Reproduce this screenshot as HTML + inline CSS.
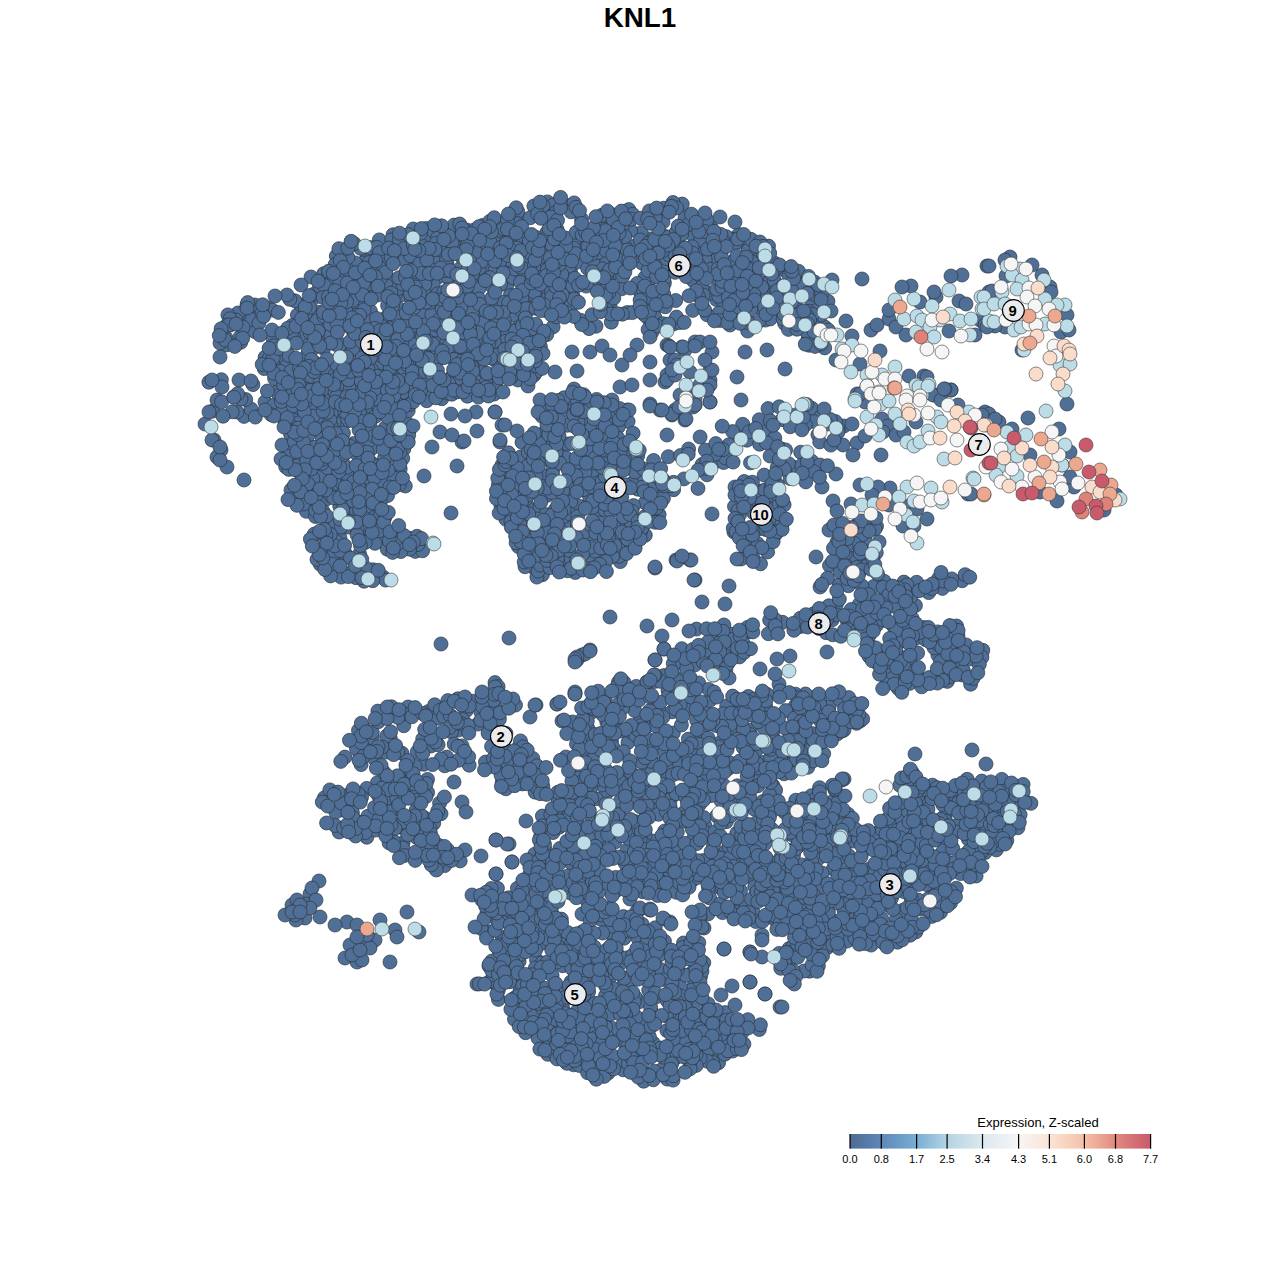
<!DOCTYPE html><html><head><meta charset="utf-8"><style>
html,body{margin:0;padding:0;background:#fff;width:1280px;height:1280px;overflow:hidden}
svg{display:block;font-family:"Liberation Sans",sans-serif}
.lb text{font-weight:bold;font-size:14.8px;text-anchor:middle}
</style></head><body>
<svg width="1280" height="1280" viewBox="0 0 1280 1280">
<text x="640" y="27" font-size="27.8" font-weight="bold" text-anchor="middle">KNL1</text>
<g fill="#4f6f96" stroke="#2c3541" stroke-width="0.7">
<circle cx="438.7" cy="355.5" r="7"/>
<circle cx="815.7" cy="696.8" r="7"/>
<circle cx="361.1" cy="827.3" r="7"/>
<circle cx="541.5" cy="526.0" r="7"/>
<circle cx="586.4" cy="888.5" r="7"/>
<circle cx="996.3" cy="849.9" r="7"/>
<circle cx="530.0" cy="717.0" r="7"/>
<circle cx="389.3" cy="456.0" r="7"/>
<circle cx="341.7" cy="795.9" r="7"/>
<circle cx="946.7" cy="870.7" r="7"/>
<circle cx="583.6" cy="940.9" r="7"/>
<circle cx="446.8" cy="757.1" r="7"/>
<circle cx="730.3" cy="763.1" r="7"/>
<circle cx="811.6" cy="461.1" r="7"/>
<circle cx="562.0" cy="405.0" r="7"/>
<circle cx="795.5" cy="414.9" r="7"/>
<circle cx="781.7" cy="291.3" r="7"/>
<circle cx="319.0" cy="881.0" r="7"/>
<circle cx="622.8" cy="774.4" r="7"/>
<circle cx="331.2" cy="523.6" r="7"/>
<circle cx="598.9" cy="891.8" r="7"/>
<circle cx="548.5" cy="886.7" r="7"/>
<circle cx="784.6" cy="812.2" r="7"/>
<circle cx="619.8" cy="781.7" r="7"/>
<circle cx="902.9" cy="865.1" r="7"/>
<circle cx="462.0" cy="802.0" r="7"/>
<circle cx="782.5" cy="622.3" r="7"/>
<circle cx="522.9" cy="766.7" r="7"/>
<circle cx="409.3" cy="538.3" r="7"/>
<circle cx="710.6" cy="1055.1" r="7"/>
<circle cx="291.5" cy="459.4" r="7"/>
<circle cx="722.8" cy="1016.4" r="7"/>
<circle cx="653.3" cy="1043.2" r="7"/>
<circle cx="561.2" cy="454.4" r="7"/>
<circle cx="850.3" cy="915.8" r="7"/>
<circle cx="646.7" cy="725.6" r="7"/>
<circle cx="596.0" cy="326.2" r="7"/>
<circle cx="703.3" cy="709.3" r="7"/>
<circle cx="393.0" cy="784.7" r="7"/>
<circle cx="345.3" cy="382.6" r="7"/>
<circle cx="655.0" cy="568.0" r="7"/>
<circle cx="594.0" cy="473.8" r="7"/>
<circle cx="403.5" cy="316.6" r="7"/>
<circle cx="752.6" cy="556.9" r="7"/>
<circle cx="416.7" cy="837.5" r="7"/>
<circle cx="805.8" cy="481.9" r="7"/>
<circle cx="551.5" cy="411.8" r="7"/>
<circle cx="802.9" cy="809.6" r="7"/>
<circle cx="336.3" cy="256.0" r="7"/>
<circle cx="385.4" cy="371.1" r="7"/>
<circle cx="410.4" cy="287.4" r="7"/>
<circle cx="727.7" cy="268.1" r="7"/>
<circle cx="450.7" cy="282.1" r="7"/>
<circle cx="924.8" cy="826.9" r="7"/>
<circle cx="534.1" cy="375.0" r="7"/>
<circle cx="693.1" cy="696.5" r="7"/>
<circle cx="496.7" cy="389.7" r="7"/>
<circle cx="450.3" cy="322.8" r="7"/>
<circle cx="618.5" cy="682.2" r="7"/>
<circle cx="580.9" cy="954.6" r="7"/>
<circle cx="447.1" cy="263.9" r="7"/>
<circle cx="581.7" cy="932.2" r="7"/>
<circle cx="481.1" cy="277.9" r="7"/>
<circle cx="903.4" cy="814.7" r="7"/>
<circle cx="409.0" cy="397.4" r="7"/>
<circle cx="545.4" cy="239.4" r="7"/>
<circle cx="649.5" cy="238.9" r="7"/>
<circle cx="803.0" cy="835.3" r="7"/>
<circle cx="930.8" cy="886.2" r="7"/>
<circle cx="682.2" cy="204.1" r="7"/>
<circle cx="868.1" cy="524.9" r="7"/>
<circle cx="545.5" cy="514.5" r="7"/>
<circle cx="689.8" cy="1054.2" r="7"/>
<circle cx="390.2" cy="713.3" r="7"/>
<circle cx="287.8" cy="399.4" r="7"/>
<circle cx="545.6" cy="851.1" r="7"/>
<circle cx="766.4" cy="432.1" r="7"/>
<circle cx="871.4" cy="834.7" r="7"/>
<circle cx="395.0" cy="930.0" r="7"/>
<circle cx="331.7" cy="439.5" r="7"/>
<circle cx="917.2" cy="906.2" r="7"/>
<circle cx="574.2" cy="402.4" r="7"/>
<circle cx="639.7" cy="1001.6" r="7"/>
<circle cx="419.8" cy="297.8" r="7"/>
<circle cx="668.0" cy="690.5" r="7"/>
<circle cx="546.9" cy="232.5" r="7"/>
<circle cx="340.0" cy="538.0" r="7"/>
<circle cx="495.5" cy="714.9" r="7"/>
<circle cx="828.3" cy="335.0" r="7"/>
<circle cx="309.8" cy="505.5" r="7"/>
<circle cx="444.7" cy="865.6" r="7"/>
<circle cx="356.8" cy="561.8" r="7"/>
<circle cx="816.1" cy="823.4" r="7"/>
<circle cx="562.7" cy="814.2" r="7"/>
<circle cx="638.2" cy="938.7" r="7"/>
<circle cx="750.5" cy="491.3" r="7"/>
<circle cx="437.3" cy="306.0" r="7"/>
<circle cx="825.0" cy="817.6" r="7"/>
<circle cx="664.1" cy="796.1" r="7"/>
<circle cx="648.6" cy="769.7" r="7"/>
<circle cx="570.9" cy="982.0" r="7"/>
<circle cx="570.9" cy="728.0" r="7"/>
<circle cx="617.3" cy="221.7" r="7"/>
<circle cx="712.7" cy="666.4" r="7"/>
<circle cx="577.3" cy="851.8" r="7"/>
<circle cx="663.8" cy="294.4" r="7"/>
<circle cx="713.8" cy="887.1" r="7"/>
<circle cx="588.1" cy="728.8" r="7"/>
<circle cx="815.6" cy="834.1" r="7"/>
<circle cx="664.4" cy="283.1" r="7"/>
<circle cx="673.4" cy="324.0" r="7"/>
<circle cx="673.3" cy="687.4" r="7"/>
<circle cx="522.0" cy="442.3" r="7"/>
<circle cx="340.4" cy="356.2" r="7"/>
<circle cx="274.7" cy="362.4" r="7"/>
<circle cx="704.8" cy="239.6" r="7"/>
<circle cx="756.5" cy="776.3" r="7"/>
<circle cx="922.4" cy="833.8" r="7"/>
<circle cx="518.3" cy="747.9" r="7"/>
<circle cx="738.6" cy="234.6" r="7"/>
<circle cx="591.1" cy="974.8" r="7"/>
<circle cx="569.9" cy="533.1" r="7"/>
<circle cx="542.4" cy="816.1" r="7"/>
<circle cx="708.5" cy="887.9" r="7"/>
<circle cx="362.2" cy="350.1" r="7"/>
<circle cx="521.8" cy="468.2" r="7"/>
<circle cx="289.0" cy="376.8" r="7"/>
<circle cx="865.0" cy="402.0" r="7"/>
<circle cx="532.2" cy="861.5" r="7"/>
<circle cx="295.8" cy="382.1" r="7"/>
<circle cx="716.5" cy="299.6" r="7"/>
<circle cx="750.0" cy="952.0" r="7"/>
<circle cx="637.9" cy="1057.9" r="7"/>
<circle cx="428.6" cy="351.6" r="7"/>
<circle cx="433.1" cy="358.5" r="7"/>
<circle cx="523.1" cy="241.3" r="7"/>
<circle cx="401.8" cy="775.6" r="7"/>
<circle cx="359.1" cy="822.1" r="7"/>
<circle cx="451.0" cy="513.0" r="7"/>
<circle cx="517.0" cy="431.0" r="7"/>
<circle cx="427.5" cy="779.4" r="7"/>
<circle cx="311.0" cy="277.0" r="7"/>
<circle cx="987.0" cy="266.0" r="7"/>
<circle cx="1005.9" cy="801.2" r="7"/>
<circle cx="644.4" cy="884.1" r="7"/>
<circle cx="667.2" cy="1079.1" r="7"/>
<circle cx="603.9" cy="738.9" r="7"/>
<circle cx="693.4" cy="280.7" r="7"/>
<circle cx="546.0" cy="862.6" r="7"/>
<circle cx="645.2" cy="502.7" r="7"/>
<circle cx="683.5" cy="943.0" r="7"/>
<circle cx="365.6" cy="406.8" r="7"/>
<circle cx="621.0" cy="262.3" r="7"/>
<circle cx="594.2" cy="947.0" r="7"/>
<circle cx="386.5" cy="317.3" r="7"/>
<circle cx="945.6" cy="846.9" r="7"/>
<circle cx="394.3" cy="371.9" r="7"/>
<circle cx="532.8" cy="912.8" r="7"/>
<circle cx="605.6" cy="794.4" r="7"/>
<circle cx="667.2" cy="877.1" r="7"/>
<circle cx="940.5" cy="876.4" r="7"/>
<circle cx="685.1" cy="217.7" r="7"/>
<circle cx="596.5" cy="820.2" r="7"/>
<circle cx="873.9" cy="586.4" r="7"/>
<circle cx="427.6" cy="792.5" r="7"/>
<circle cx="909.6" cy="683.4" r="7"/>
<circle cx="871.0" cy="330.0" r="7"/>
<circle cx="820.0" cy="465.0" r="7"/>
<circle cx="788.8" cy="962.3" r="7"/>
<circle cx="671.7" cy="765.5" r="7"/>
<circle cx="458.4" cy="286.4" r="7"/>
<circle cx="1017.9" cy="827.8" r="7"/>
<circle cx="614.7" cy="842.3" r="7"/>
<circle cx="614.0" cy="932.6" r="7"/>
<circle cx="336.9" cy="457.6" r="7"/>
<circle cx="272.2" cy="351.7" r="7"/>
<circle cx="324.5" cy="398.3" r="7"/>
<circle cx="744.2" cy="481.5" r="7"/>
<circle cx="808.8" cy="801.7" r="7"/>
<circle cx="621.7" cy="251.8" r="7"/>
<circle cx="596.3" cy="961.6" r="7"/>
<circle cx="859.1" cy="522.2" r="7"/>
<circle cx="560.4" cy="521.1" r="7"/>
<circle cx="591.0" cy="860.1" r="7"/>
<circle cx="700.0" cy="1009.9" r="7"/>
<circle cx="625.5" cy="523.6" r="7"/>
<circle cx="956.3" cy="888.2" r="7"/>
<circle cx="339.6" cy="414.7" r="7"/>
<circle cx="572.6" cy="294.9" r="7"/>
<circle cx="848.6" cy="714.7" r="7"/>
<circle cx="792.5" cy="466.9" r="7"/>
<circle cx="752.7" cy="508.7" r="7"/>
<circle cx="980.0" cy="320.0" r="7"/>
<circle cx="700.7" cy="1019.9" r="7"/>
<circle cx="759.3" cy="1029.5" r="7"/>
<circle cx="806.0" cy="806.6" r="7"/>
<circle cx="676.6" cy="878.8" r="7"/>
<circle cx="813.6" cy="471.5" r="7"/>
<circle cx="716.2" cy="461.4" r="7"/>
<circle cx="744.0" cy="871.3" r="7"/>
<circle cx="641.3" cy="295.1" r="7"/>
<circle cx="740.5" cy="890.8" r="7"/>
<circle cx="319.0" cy="312.3" r="7"/>
<circle cx="620.0" cy="1038.8" r="7"/>
<circle cx="300.7" cy="339.6" r="7"/>
<circle cx="324.5" cy="797.7" r="7"/>
<circle cx="945.3" cy="815.1" r="7"/>
<circle cx="691.6" cy="880.8" r="7"/>
<circle cx="889.0" cy="319.0" r="7"/>
<circle cx="760.5" cy="491.1" r="7"/>
<circle cx="403.1" cy="842.8" r="7"/>
<circle cx="976.7" cy="786.5" r="7"/>
<circle cx="892.6" cy="664.0" r="7"/>
<circle cx="611.5" cy="740.9" r="7"/>
<circle cx="860.6" cy="561.4" r="7"/>
<circle cx="811.4" cy="795.7" r="7"/>
<circle cx="573.7" cy="1064.8" r="7"/>
<circle cx="585.8" cy="752.4" r="7"/>
<circle cx="417.3" cy="751.8" r="7"/>
<circle cx="576.2" cy="810.2" r="7"/>
<circle cx="795.8" cy="800.2" r="7"/>
<circle cx="716.6" cy="815.9" r="7"/>
<circle cx="657.0" cy="1075.0" r="7"/>
<circle cx="294.7" cy="386.8" r="7"/>
<circle cx="940.7" cy="674.5" r="7"/>
<circle cx="540.2" cy="481.3" r="7"/>
<circle cx="824.5" cy="939.2" r="7"/>
<circle cx="702.5" cy="718.2" r="7"/>
<circle cx="582.0" cy="655.0" r="7"/>
<circle cx="703.0" cy="860.6" r="7"/>
<circle cx="600.1" cy="504.2" r="7"/>
<circle cx="643.6" cy="1081.2" r="7"/>
<circle cx="682.7" cy="947.6" r="7"/>
<circle cx="737.2" cy="785.8" r="7"/>
<circle cx="521.3" cy="912.4" r="7"/>
<circle cx="381.5" cy="368.0" r="7"/>
<circle cx="314.8" cy="362.7" r="7"/>
<circle cx="733.5" cy="703.8" r="7"/>
<circle cx="898.4" cy="622.3" r="7"/>
<circle cx="897.2" cy="602.3" r="7"/>
<circle cx="596.3" cy="236.0" r="7"/>
<circle cx="659.3" cy="211.6" r="7"/>
<circle cx="214.0" cy="440.0" r="7"/>
<circle cx="526.9" cy="338.2" r="7"/>
<circle cx="680.1" cy="866.5" r="7"/>
<circle cx="366.4" cy="746.3" r="7"/>
<circle cx="609.7" cy="977.7" r="7"/>
<circle cx="918.6" cy="837.1" r="7"/>
<circle cx="415.3" cy="551.4" r="7"/>
<circle cx="780.8" cy="968.3" r="7"/>
<circle cx="700.1" cy="437.0" r="7"/>
<circle cx="564.6" cy="854.4" r="7"/>
<circle cx="474.3" cy="349.2" r="7"/>
<circle cx="564.7" cy="562.2" r="7"/>
<circle cx="650.2" cy="681.4" r="7"/>
<circle cx="811.8" cy="305.8" r="7"/>
<circle cx="397.7" cy="367.1" r="7"/>
<circle cx="836.1" cy="605.5" r="7"/>
<circle cx="868.0" cy="848.2" r="7"/>
<circle cx="518.4" cy="546.6" r="7"/>
<circle cx="765.6" cy="706.3" r="7"/>
<circle cx="366.9" cy="257.4" r="7"/>
<circle cx="931.8" cy="916.4" r="7"/>
<circle cx="346.3" cy="351.9" r="7"/>
<circle cx="528.6" cy="291.9" r="7"/>
<circle cx="927.3" cy="841.2" r="7"/>
<circle cx="653.9" cy="310.2" r="7"/>
<circle cx="663.9" cy="279.0" r="7"/>
<circle cx="595.8" cy="518.7" r="7"/>
<circle cx="899.9" cy="785.3" r="7"/>
<circle cx="520.5" cy="740.9" r="7"/>
<circle cx="466.7" cy="230.0" r="7"/>
<circle cx="607.9" cy="883.6" r="7"/>
<circle cx="439.8" cy="276.4" r="7"/>
<circle cx="702.0" cy="602.0" r="7"/>
<circle cx="822.0" cy="487.0" r="7"/>
<circle cx="579.5" cy="531.7" r="7"/>
<circle cx="621.1" cy="962.8" r="7"/>
<circle cx="264.2" cy="368.6" r="7"/>
<circle cx="735.3" cy="910.9" r="7"/>
<circle cx="570.7" cy="893.1" r="7"/>
<circle cx="425.7" cy="317.2" r="7"/>
<circle cx="628.0" cy="742.5" r="7"/>
<circle cx="596.4" cy="828.7" r="7"/>
<circle cx="319.3" cy="429.2" r="7"/>
<circle cx="635.6" cy="879.5" r="7"/>
<circle cx="759.0" cy="528.8" r="7"/>
<circle cx="911.8" cy="828.5" r="7"/>
<circle cx="545.6" cy="291.5" r="7"/>
<circle cx="649.7" cy="947.2" r="7"/>
<circle cx="402.2" cy="294.9" r="7"/>
<circle cx="602.0" cy="784.9" r="7"/>
<circle cx="830.3" cy="919.1" r="7"/>
<circle cx="924.0" cy="376.0" r="7"/>
<circle cx="357.0" cy="962.0" r="7"/>
<circle cx="735.0" cy="487.0" r="7"/>
<circle cx="299.3" cy="487.4" r="7"/>
<circle cx="633.2" cy="706.3" r="7"/>
<circle cx="512.2" cy="482.1" r="7"/>
<circle cx="447.6" cy="276.4" r="7"/>
<circle cx="390.0" cy="833.2" r="7"/>
<circle cx="525.6" cy="913.8" r="7"/>
<circle cx="547.4" cy="201.9" r="7"/>
<circle cx="567.5" cy="960.2" r="7"/>
<circle cx="681.8" cy="648.7" r="7"/>
<circle cx="753.3" cy="912.8" r="7"/>
<circle cx="723.7" cy="462.5" r="7"/>
<circle cx="542.2" cy="416.4" r="7"/>
<circle cx="469.2" cy="765.2" r="7"/>
<circle cx="607.7" cy="1060.1" r="7"/>
<circle cx="545.3" cy="445.9" r="7"/>
<circle cx="915.4" cy="605.5" r="7"/>
<circle cx="730.7" cy="811.3" r="7"/>
<circle cx="608.6" cy="408.3" r="7"/>
<circle cx="589.0" cy="503.3" r="7"/>
<circle cx="627.7" cy="467.6" r="7"/>
<circle cx="585.5" cy="738.7" r="7"/>
<circle cx="381.8" cy="390.0" r="7"/>
<circle cx="864.7" cy="842.9" r="7"/>
<circle cx="451.7" cy="338.6" r="7"/>
<circle cx="578.4" cy="828.6" r="7"/>
<circle cx="428.3" cy="711.6" r="7"/>
<circle cx="498.3" cy="958.8" r="7"/>
<circle cx="809.8" cy="947.3" r="7"/>
<circle cx="790.2" cy="478.5" r="7"/>
<circle cx="540.0" cy="410.0" r="7"/>
<circle cx="331.9" cy="474.9" r="7"/>
<circle cx="518.5" cy="509.1" r="7"/>
<circle cx="850.0" cy="625.5" r="7"/>
<circle cx="709.7" cy="898.0" r="7"/>
<circle cx="928.5" cy="898.6" r="7"/>
<circle cx="817.2" cy="323.8" r="7"/>
<circle cx="556.9" cy="988.8" r="7"/>
<circle cx="805.5" cy="694.0" r="7"/>
<circle cx="524.3" cy="356.2" r="7"/>
<circle cx="520.6" cy="457.0" r="7"/>
<circle cx="449.0" cy="231.7" r="7"/>
<circle cx="674.3" cy="847.4" r="7"/>
<circle cx="817.9" cy="434.8" r="7"/>
<circle cx="624.1" cy="938.2" r="7"/>
<circle cx="532.8" cy="758.4" r="7"/>
<circle cx="844.0" cy="779.0" r="7"/>
<circle cx="476.1" cy="243.7" r="7"/>
<circle cx="492.1" cy="378.9" r="7"/>
<circle cx="421.4" cy="311.7" r="7"/>
<circle cx="536.2" cy="917.7" r="7"/>
<circle cx="552.1" cy="1005.4" r="7"/>
<circle cx="441.9" cy="345.5" r="7"/>
<circle cx="633.5" cy="505.6" r="7"/>
<circle cx="839.2" cy="584.5" r="7"/>
<circle cx="656.6" cy="956.8" r="7"/>
<circle cx="981.3" cy="816.9" r="7"/>
<circle cx="957.1" cy="825.3" r="7"/>
<circle cx="589.0" cy="432.1" r="7"/>
<circle cx="690.3" cy="752.4" r="7"/>
<circle cx="599.4" cy="844.5" r="7"/>
<circle cx="837.2" cy="734.0" r="7"/>
<circle cx="688.9" cy="697.5" r="7"/>
<circle cx="738.9" cy="859.9" r="7"/>
<circle cx="570.5" cy="271.5" r="7"/>
<circle cx="744.3" cy="310.5" r="7"/>
<circle cx="705.9" cy="724.9" r="7"/>
<circle cx="891.2" cy="838.0" r="7"/>
<circle cx="842.0" cy="731.0" r="7"/>
<circle cx="805.9" cy="713.1" r="7"/>
<circle cx="325.7" cy="473.0" r="7"/>
<circle cx="309.3" cy="319.1" r="7"/>
<circle cx="566.1" cy="520.4" r="7"/>
<circle cx="959.0" cy="301.0" r="7"/>
<circle cx="733.9" cy="271.0" r="7"/>
<circle cx="920.0" cy="302.0" r="7"/>
<circle cx="588.8" cy="838.2" r="7"/>
<circle cx="458.2" cy="730.1" r="7"/>
<circle cx="332.4" cy="488.7" r="7"/>
<circle cx="595.6" cy="967.9" r="7"/>
<circle cx="265.1" cy="357.3" r="7"/>
<circle cx="762.9" cy="801.5" r="7"/>
<circle cx="350.0" cy="945.0" r="7"/>
<circle cx="502.0" cy="465.0" r="7"/>
<circle cx="761.6" cy="263.6" r="7"/>
<circle cx="631.6" cy="464.9" r="7"/>
<circle cx="285.6" cy="358.6" r="7"/>
<circle cx="377.4" cy="782.7" r="7"/>
<circle cx="416.2" cy="810.1" r="7"/>
<circle cx="499.4" cy="719.2" r="7"/>
<circle cx="467.4" cy="396.2" r="7"/>
<circle cx="627.0" cy="849.9" r="7"/>
<circle cx="845.4" cy="870.0" r="7"/>
<circle cx="396.0" cy="401.9" r="7"/>
<circle cx="212.8" cy="411.1" r="7"/>
<circle cx="501.7" cy="342.7" r="7"/>
<circle cx="580.2" cy="872.9" r="7"/>
<circle cx="915.5" cy="849.6" r="7"/>
<circle cx="623.7" cy="1042.0" r="7"/>
<circle cx="789.0" cy="948.6" r="7"/>
<circle cx="312.0" cy="315.5" r="7"/>
<circle cx="480.6" cy="711.5" r="7"/>
<circle cx="753.0" cy="877.8" r="7"/>
<circle cx="524.8" cy="282.7" r="7"/>
<circle cx="668.3" cy="456.7" r="7"/>
<circle cx="352.6" cy="363.6" r="7"/>
<circle cx="562.6" cy="253.2" r="7"/>
<circle cx="642.1" cy="521.8" r="7"/>
<circle cx="500.9" cy="241.9" r="7"/>
<circle cx="571.2" cy="527.1" r="7"/>
<circle cx="306.4" cy="511.3" r="7"/>
<circle cx="439.0" cy="861.9" r="7"/>
<circle cx="637.8" cy="489.2" r="7"/>
<circle cx="842.0" cy="780.0" r="7"/>
<circle cx="607.7" cy="526.0" r="7"/>
<circle cx="494.6" cy="241.2" r="7"/>
<circle cx="345.0" cy="958.0" r="7"/>
<circle cx="798.1" cy="846.3" r="7"/>
<circle cx="774.9" cy="619.4" r="7"/>
<circle cx="648.8" cy="280.9" r="7"/>
<circle cx="542.4" cy="435.2" r="7"/>
<circle cx="547.8" cy="1054.3" r="7"/>
<circle cx="649.4" cy="1036.8" r="7"/>
<circle cx="217.0" cy="400.0" r="7"/>
<circle cx="358.0" cy="455.5" r="7"/>
<circle cx="772.3" cy="442.9" r="7"/>
<circle cx="782.0" cy="419.6" r="7"/>
<circle cx="893.4" cy="844.6" r="7"/>
<circle cx="784.1" cy="773.8" r="7"/>
<circle cx="627.0" cy="410.0" r="7"/>
<circle cx="310.0" cy="894.0" r="7"/>
<circle cx="908.6" cy="789.5" r="7"/>
<circle cx="827.0" cy="652.0" r="7"/>
<circle cx="570.8" cy="558.2" r="7"/>
<circle cx="366.8" cy="837.2" r="7"/>
<circle cx="784.7" cy="323.6" r="7"/>
<circle cx="482.7" cy="225.4" r="7"/>
<circle cx="398.3" cy="393.9" r="7"/>
<circle cx="680.4" cy="973.6" r="7"/>
<circle cx="403.8" cy="725.7" r="7"/>
<circle cx="807.2" cy="844.7" r="7"/>
<circle cx="598.5" cy="226.3" r="7"/>
<circle cx="441.6" cy="255.0" r="7"/>
<circle cx="631.1" cy="731.9" r="7"/>
<circle cx="904.6" cy="805.8" r="7"/>
<circle cx="316.9" cy="320.7" r="7"/>
<circle cx="529.7" cy="1024.4" r="7"/>
<circle cx="832.0" cy="280.0" r="7"/>
<circle cx="920.2" cy="909.1" r="7"/>
<circle cx="735.1" cy="277.6" r="7"/>
<circle cx="221.0" cy="450.0" r="7"/>
<circle cx="758.5" cy="502.3" r="7"/>
<circle cx="405.3" cy="486.0" r="7"/>
<circle cx="535.1" cy="557.4" r="7"/>
<circle cx="520.1" cy="990.3" r="7"/>
<circle cx="502.2" cy="782.2" r="7"/>
<circle cx="515.5" cy="705.1" r="7"/>
<circle cx="814.1" cy="925.8" r="7"/>
<circle cx="339.1" cy="832.0" r="7"/>
<circle cx="334.5" cy="418.0" r="7"/>
<circle cx="660.7" cy="857.3" r="7"/>
<circle cx="386.4" cy="323.2" r="7"/>
<circle cx="801.7" cy="864.9" r="7"/>
<circle cx="593.2" cy="462.9" r="7"/>
<circle cx="795.5" cy="694.2" r="7"/>
<circle cx="903.0" cy="910.2" r="7"/>
<circle cx="708.2" cy="1003.9" r="7"/>
<circle cx="728.9" cy="444.8" r="7"/>
<circle cx="487.9" cy="320.1" r="7"/>
<circle cx="432.7" cy="262.5" r="7"/>
<circle cx="673.6" cy="489.7" r="7"/>
<circle cx="357.7" cy="309.1" r="7"/>
<circle cx="956.6" cy="626.0" r="7"/>
<circle cx="423.7" cy="764.3" r="7"/>
<circle cx="603.5" cy="1010.6" r="7"/>
<circle cx="460.2" cy="860.9" r="7"/>
<circle cx="584.4" cy="1003.0" r="7"/>
<circle cx="363.6" cy="370.4" r="7"/>
<circle cx="550.3" cy="309.1" r="7"/>
<circle cx="767.3" cy="694.5" r="7"/>
<circle cx="747.0" cy="764.0" r="7"/>
<circle cx="538.2" cy="268.9" r="7"/>
<circle cx="430.9" cy="746.0" r="7"/>
<circle cx="901.6" cy="603.4" r="7"/>
<circle cx="563.4" cy="265.1" r="7"/>
<circle cx="536.0" cy="705.0" r="7"/>
<circle cx="612.0" cy="400.0" r="7"/>
<circle cx="664.0" cy="675.6" r="7"/>
<circle cx="566.5" cy="280.0" r="7"/>
<circle cx="385.2" cy="293.5" r="7"/>
<circle cx="518.3" cy="317.8" r="7"/>
<circle cx="640.9" cy="1054.3" r="7"/>
<circle cx="498.2" cy="350.0" r="7"/>
<circle cx="883.7" cy="599.0" r="7"/>
<circle cx="922.1" cy="863.8" r="7"/>
<circle cx="805.2" cy="902.7" r="7"/>
<circle cx="572.4" cy="286.0" r="7"/>
<circle cx="576.5" cy="262.2" r="7"/>
<circle cx="542.3" cy="1013.2" r="7"/>
<circle cx="935.0" cy="395.0" r="7"/>
<circle cx="404.7" cy="541.6" r="7"/>
<circle cx="290.2" cy="388.7" r="7"/>
<circle cx="983.9" cy="824.1" r="7"/>
<circle cx="1000.6" cy="831.8" r="7"/>
<circle cx="516.4" cy="495.9" r="7"/>
<circle cx="452.1" cy="317.8" r="7"/>
<circle cx="451.7" cy="349.3" r="7"/>
<circle cx="916.6" cy="582.3" r="7"/>
<circle cx="934.3" cy="902.1" r="7"/>
<circle cx="881.0" cy="455.0" r="7"/>
<circle cx="876.5" cy="526.2" r="7"/>
<circle cx="697.9" cy="860.7" r="7"/>
<circle cx="758.1" cy="710.5" r="7"/>
<circle cx="404.3" cy="368.8" r="7"/>
<circle cx="657.6" cy="947.5" r="7"/>
<circle cx="422.6" cy="550.8" r="7"/>
<circle cx="425.5" cy="846.0" r="7"/>
<circle cx="536.5" cy="959.9" r="7"/>
<circle cx="323.7" cy="273.8" r="7"/>
<circle cx="565.6" cy="457.5" r="7"/>
<circle cx="696.5" cy="629.1" r="7"/>
<circle cx="844.0" cy="426.0" r="7"/>
<circle cx="734.1" cy="794.9" r="7"/>
<circle cx="721.0" cy="800.7" r="7"/>
<circle cx="483.6" cy="329.9" r="7"/>
<circle cx="292.0" cy="905.0" r="7"/>
<circle cx="535.0" cy="705.0" r="7"/>
<circle cx="746.1" cy="906.8" r="7"/>
<circle cx="415.1" cy="367.4" r="7"/>
<circle cx="240.0" cy="337.0" r="7"/>
<circle cx="505.5" cy="914.9" r="7"/>
<circle cx="844.0" cy="730.0" r="7"/>
<circle cx="807.6" cy="761.1" r="7"/>
<circle cx="440.1" cy="261.7" r="7"/>
<circle cx="313.7" cy="298.1" r="7"/>
<circle cx="765.3" cy="320.1" r="7"/>
<circle cx="603.0" cy="407.1" r="7"/>
<circle cx="843.9" cy="909.8" r="7"/>
<circle cx="323.6" cy="348.4" r="7"/>
<circle cx="734.0" cy="532.0" r="7"/>
<circle cx="857.0" cy="443.0" r="7"/>
<circle cx="489.9" cy="241.7" r="7"/>
<circle cx="530.7" cy="483.7" r="7"/>
<circle cx="496.9" cy="253.5" r="7"/>
<circle cx="353.4" cy="515.5" r="7"/>
<circle cx="655.2" cy="927.8" r="7"/>
<circle cx="661.9" cy="713.0" r="7"/>
<circle cx="623.4" cy="214.7" r="7"/>
<circle cx="407.4" cy="320.3" r="7"/>
<circle cx="597.4" cy="246.3" r="7"/>
<circle cx="366.8" cy="392.9" r="7"/>
<circle cx="574.0" cy="389.0" r="7"/>
<circle cx="668.0" cy="266.5" r="7"/>
<circle cx="624.9" cy="790.3" r="7"/>
<circle cx="395.6" cy="293.3" r="7"/>
<circle cx="291.7" cy="448.2" r="7"/>
<circle cx="762.0" cy="957.0" r="7"/>
<circle cx="239.0" cy="380.0" r="7"/>
<circle cx="384.9" cy="443.1" r="7"/>
<circle cx="320.3" cy="564.3" r="7"/>
<circle cx="691.1" cy="258.9" r="7"/>
<circle cx="795.0" cy="706.3" r="7"/>
<circle cx="449.7" cy="247.2" r="7"/>
<circle cx="750.0" cy="952.0" r="7"/>
<circle cx="512.4" cy="315.1" r="7"/>
<circle cx="768.6" cy="762.3" r="7"/>
<circle cx="773.1" cy="525.3" r="7"/>
<circle cx="600.1" cy="538.2" r="7"/>
<circle cx="372.2" cy="393.3" r="7"/>
<circle cx="541.5" cy="929.9" r="7"/>
<circle cx="442.3" cy="384.2" r="7"/>
<circle cx="655.6" cy="726.0" r="7"/>
<circle cx="867.2" cy="904.0" r="7"/>
<circle cx="408.8" cy="769.0" r="7"/>
<circle cx="564.0" cy="934.4" r="7"/>
<circle cx="324.6" cy="280.4" r="7"/>
<circle cx="557.1" cy="229.5" r="7"/>
<circle cx="562.6" cy="889.1" r="7"/>
<circle cx="695.0" cy="776.0" r="7"/>
<circle cx="978.7" cy="828.8" r="7"/>
<circle cx="643.6" cy="308.6" r="7"/>
<circle cx="522.4" cy="783.9" r="7"/>
<circle cx="666.5" cy="778.1" r="7"/>
<circle cx="485.5" cy="762.1" r="7"/>
<circle cx="595.0" cy="402.0" r="7"/>
<circle cx="426.4" cy="228.5" r="7"/>
<circle cx="372.2" cy="257.4" r="7"/>
<circle cx="1005.0" cy="815.2" r="7"/>
<circle cx="725.5" cy="851.8" r="7"/>
<circle cx="755.8" cy="829.0" r="7"/>
<circle cx="893.3" cy="937.8" r="7"/>
<circle cx="846.6" cy="831.2" r="7"/>
<circle cx="689.7" cy="1042.6" r="7"/>
<circle cx="535.2" cy="792.2" r="7"/>
<circle cx="437.6" cy="389.4" r="7"/>
<circle cx="542.1" cy="963.0" r="7"/>
<circle cx="393.0" cy="341.3" r="7"/>
<circle cx="968.2" cy="873.4" r="7"/>
<circle cx="384.3" cy="435.7" r="7"/>
<circle cx="985.0" cy="325.0" r="7"/>
<circle cx="743.9" cy="1044.0" r="7"/>
<circle cx="833.2" cy="869.0" r="7"/>
<circle cx="589.7" cy="542.9" r="7"/>
<circle cx="495.4" cy="707.1" r="7"/>
<circle cx="396.9" cy="441.8" r="7"/>
<circle cx="647.5" cy="860.0" r="7"/>
<circle cx="688.6" cy="449.0" r="7"/>
<circle cx="800.8" cy="626.5" r="7"/>
<circle cx="855.6" cy="635.5" r="7"/>
<circle cx="437.7" cy="253.4" r="7"/>
<circle cx="383.3" cy="537.2" r="7"/>
<circle cx="999.0" cy="422.0" r="7"/>
<circle cx="758.1" cy="306.9" r="7"/>
<circle cx="534.8" cy="854.2" r="7"/>
<circle cx="725.9" cy="318.2" r="7"/>
<circle cx="885.1" cy="843.4" r="7"/>
<circle cx="277.6" cy="391.1" r="7"/>
<circle cx="382.4" cy="385.6" r="7"/>
<circle cx="591.9" cy="238.3" r="7"/>
<circle cx="563.2" cy="942.8" r="7"/>
<circle cx="889.0" cy="310.0" r="7"/>
<circle cx="792.4" cy="749.2" r="7"/>
<circle cx="774.5" cy="535.6" r="7"/>
<circle cx="890.3" cy="853.3" r="7"/>
<circle cx="765.8" cy="529.5" r="7"/>
<circle cx="559.1" cy="202.3" r="7"/>
<circle cx="498.0" cy="765.5" r="7"/>
<circle cx="581.9" cy="241.2" r="7"/>
<circle cx="622.2" cy="986.7" r="7"/>
<circle cx="636.2" cy="686.4" r="7"/>
<circle cx="566.0" cy="306.6" r="7"/>
<circle cx="311.4" cy="491.9" r="7"/>
<circle cx="716.1" cy="856.2" r="7"/>
<circle cx="457.9" cy="698.8" r="7"/>
<circle cx="375.0" cy="940.0" r="7"/>
<circle cx="823.5" cy="312.1" r="7"/>
<circle cx="557.1" cy="528.5" r="7"/>
<circle cx="617.2" cy="806.3" r="7"/>
<circle cx="536.7" cy="371.2" r="7"/>
<circle cx="639.9" cy="1037.4" r="7"/>
<circle cx="712.0" cy="352.0" r="7"/>
<circle cx="989.0" cy="292.0" r="7"/>
<circle cx="909.0" cy="506.0" r="7"/>
<circle cx="392.9" cy="331.3" r="7"/>
<circle cx="516.6" cy="239.5" r="7"/>
<circle cx="439.4" cy="333.8" r="7"/>
<circle cx="424.3" cy="817.8" r="7"/>
<circle cx="402.4" cy="827.8" r="7"/>
<circle cx="663.8" cy="208.2" r="7"/>
<circle cx="327.8" cy="555.7" r="7"/>
<circle cx="432.2" cy="353.8" r="7"/>
<circle cx="547.3" cy="495.3" r="7"/>
<circle cx="412.7" cy="259.4" r="7"/>
<circle cx="953.0" cy="648.1" r="7"/>
<circle cx="505.9" cy="519.3" r="7"/>
<circle cx="908.0" cy="667.0" r="7"/>
<circle cx="361.8" cy="446.0" r="7"/>
<circle cx="780.6" cy="858.0" r="7"/>
<circle cx="464.3" cy="277.5" r="7"/>
<circle cx="973.6" cy="796.2" r="7"/>
<circle cx="507.2" cy="238.4" r="7"/>
<circle cx="697.9" cy="738.8" r="7"/>
<circle cx="788.6" cy="463.7" r="7"/>
<circle cx="902.6" cy="678.8" r="7"/>
<circle cx="847.4" cy="841.9" r="7"/>
<circle cx="607.5" cy="452.3" r="7"/>
<circle cx="423.8" cy="835.8" r="7"/>
<circle cx="644.6" cy="482.8" r="7"/>
<circle cx="545.8" cy="476.1" r="7"/>
<circle cx="358.5" cy="730.4" r="7"/>
<circle cx="342.3" cy="810.0" r="7"/>
<circle cx="755.7" cy="497.1" r="7"/>
<circle cx="595.1" cy="428.3" r="7"/>
<circle cx="962.1" cy="580.7" r="7"/>
<circle cx="662.3" cy="1069.2" r="7"/>
<circle cx="555.0" cy="372.0" r="7"/>
<circle cx="665.0" cy="382.0" r="7"/>
<circle cx="613.7" cy="997.7" r="7"/>
<circle cx="612.7" cy="746.9" r="7"/>
<circle cx="814.2" cy="294.4" r="7"/>
<circle cx="951.8" cy="578.9" r="7"/>
<circle cx="547.0" cy="856.1" r="7"/>
<circle cx="429.1" cy="283.2" r="7"/>
<circle cx="483.1" cy="253.5" r="7"/>
<circle cx="486.8" cy="913.7" r="7"/>
<circle cx="735.0" cy="912.0" r="7"/>
<circle cx="345.7" cy="421.7" r="7"/>
<circle cx="390.6" cy="280.6" r="7"/>
<circle cx="739.4" cy="436.4" r="7"/>
<circle cx="585.9" cy="457.3" r="7"/>
<circle cx="499.9" cy="735.8" r="7"/>
<circle cx="567.0" cy="938.5" r="7"/>
<circle cx="798.0" cy="930.5" r="7"/>
<circle cx="785.7" cy="710.6" r="7"/>
<circle cx="508.7" cy="504.2" r="7"/>
<circle cx="535.3" cy="968.0" r="7"/>
<circle cx="704.7" cy="825.2" r="7"/>
<circle cx="744.4" cy="633.0" r="7"/>
<circle cx="661.9" cy="255.7" r="7"/>
<circle cx="268.0" cy="308.0" r="7"/>
<circle cx="652.2" cy="331.8" r="7"/>
<circle cx="881.1" cy="654.4" r="7"/>
<circle cx="863.9" cy="892.1" r="7"/>
<circle cx="398.7" cy="778.1" r="7"/>
<circle cx="708.2" cy="738.2" r="7"/>
<circle cx="403.8" cy="449.0" r="7"/>
<circle cx="810.8" cy="811.9" r="7"/>
<circle cx="348.9" cy="794.4" r="7"/>
<circle cx="581.0" cy="402.9" r="7"/>
<circle cx="656.8" cy="486.4" r="7"/>
<circle cx="881.6" cy="918.5" r="7"/>
<circle cx="431.9" cy="314.4" r="7"/>
<circle cx="613.3" cy="714.4" r="7"/>
<circle cx="452.4" cy="228.9" r="7"/>
<circle cx="718.6" cy="1062.7" r="7"/>
<circle cx="382.2" cy="363.0" r="7"/>
<circle cx="496.0" cy="874.0" r="7"/>
<circle cx="794.4" cy="718.3" r="7"/>
<circle cx="457.0" cy="466.0" r="7"/>
<circle cx="809.3" cy="345.3" r="7"/>
<circle cx="710.0" cy="370.0" r="7"/>
<circle cx="505.9" cy="788.8" r="7"/>
<circle cx="861.8" cy="585.8" r="7"/>
<circle cx="785.0" cy="369.0" r="7"/>
<circle cx="519.1" cy="961.5" r="7"/>
<circle cx="347.0" cy="922.0" r="7"/>
<circle cx="423.7" cy="348.2" r="7"/>
<circle cx="944.4" cy="898.8" r="7"/>
<circle cx="920.8" cy="800.7" r="7"/>
<circle cx="660.5" cy="954.3" r="7"/>
<circle cx="767.6" cy="551.9" r="7"/>
<circle cx="363.1" cy="263.0" r="7"/>
<circle cx="703.9" cy="817.6" r="7"/>
<circle cx="355.6" cy="388.9" r="7"/>
<circle cx="377.9" cy="506.8" r="7"/>
<circle cx="686.3" cy="710.0" r="7"/>
<circle cx="543.3" cy="546.0" r="7"/>
<circle cx="438.3" cy="718.2" r="7"/>
<circle cx="349.4" cy="505.5" r="7"/>
<circle cx="877.6" cy="832.8" r="7"/>
<circle cx="725.4" cy="457.9" r="7"/>
<circle cx="868.9" cy="874.6" r="7"/>
<circle cx="526.3" cy="471.5" r="7"/>
<circle cx="547.4" cy="459.0" r="7"/>
<circle cx="743.2" cy="747.6" r="7"/>
<circle cx="860.0" cy="721.0" r="7"/>
<circle cx="588.6" cy="991.9" r="7"/>
<circle cx="312.3" cy="420.7" r="7"/>
<circle cx="557.3" cy="459.9" r="7"/>
<circle cx="884.4" cy="873.7" r="7"/>
<circle cx="362.0" cy="960.0" r="7"/>
<circle cx="690.0" cy="395.0" r="7"/>
<circle cx="648.6" cy="318.7" r="7"/>
<circle cx="589.1" cy="954.0" r="7"/>
<circle cx="645.0" cy="277.5" r="7"/>
<circle cx="905.3" cy="795.5" r="7"/>
<circle cx="793.5" cy="855.2" r="7"/>
<circle cx="752.6" cy="256.3" r="7"/>
<circle cx="767.0" cy="350.0" r="7"/>
<circle cx="274.6" cy="378.6" r="7"/>
<circle cx="518.3" cy="216.4" r="7"/>
<circle cx="642.1" cy="924.2" r="7"/>
<circle cx="528.2" cy="942.2" r="7"/>
<circle cx="736.6" cy="888.2" r="7"/>
<circle cx="595.7" cy="1018.6" r="7"/>
<circle cx="453.7" cy="299.7" r="7"/>
<circle cx="544.6" cy="844.6" r="7"/>
<circle cx="457.8" cy="229.2" r="7"/>
<circle cx="823.7" cy="753.8" r="7"/>
<circle cx="580.4" cy="320.2" r="7"/>
<circle cx="778.8" cy="725.7" r="7"/>
<circle cx="387.7" cy="478.6" r="7"/>
<circle cx="590.0" cy="650.0" r="7"/>
<circle cx="736.4" cy="316.2" r="7"/>
<circle cx="533.0" cy="509.7" r="7"/>
<circle cx="545.0" cy="901.3" r="7"/>
<circle cx="628.8" cy="209.6" r="7"/>
<circle cx="837.9" cy="875.0" r="7"/>
<circle cx="817.9" cy="859.0" r="7"/>
<circle cx="497.4" cy="888.3" r="7"/>
<circle cx="320.3" cy="338.1" r="7"/>
<circle cx="622.0" cy="818.8" r="7"/>
<circle cx="360.0" cy="298.4" r="7"/>
<circle cx="547.0" cy="298.6" r="7"/>
<circle cx="462.0" cy="442.0" r="7"/>
<circle cx="976.7" cy="851.3" r="7"/>
<circle cx="408.1" cy="707.0" r="7"/>
<circle cx="603.3" cy="453.5" r="7"/>
<circle cx="721.5" cy="249.9" r="7"/>
<circle cx="600.2" cy="755.7" r="7"/>
<circle cx="399.3" cy="484.5" r="7"/>
<circle cx="704.2" cy="254.1" r="7"/>
<circle cx="859.2" cy="604.4" r="7"/>
<circle cx="999.5" cy="844.4" r="7"/>
<circle cx="537.0" cy="765.8" r="7"/>
<circle cx="581.3" cy="758.6" r="7"/>
<circle cx="631.1" cy="522.2" r="7"/>
<circle cx="502.4" cy="937.4" r="7"/>
<circle cx="653.2" cy="841.0" r="7"/>
<circle cx="804.3" cy="897.4" r="7"/>
<circle cx="434.9" cy="337.7" r="7"/>
<circle cx="226.5" cy="344.9" r="7"/>
<circle cx="593.1" cy="405.8" r="7"/>
<circle cx="466.0" cy="812.0" r="7"/>
<circle cx="700.6" cy="976.3" r="7"/>
<circle cx="572.6" cy="722.0" r="7"/>
<circle cx="841.2" cy="900.0" r="7"/>
<circle cx="406.0" cy="422.3" r="7"/>
<circle cx="644.8" cy="315.1" r="7"/>
<circle cx="545.0" cy="218.2" r="7"/>
<circle cx="713.2" cy="879.9" r="7"/>
<circle cx="587.0" cy="710.9" r="7"/>
<circle cx="710.0" cy="402.0" r="7"/>
<circle cx="594.9" cy="904.7" r="7"/>
<circle cx="415.1" cy="766.3" r="7"/>
<circle cx="576.1" cy="486.4" r="7"/>
<circle cx="573.1" cy="839.3" r="7"/>
<circle cx="887.0" cy="878.5" r="7"/>
<circle cx="495.2" cy="902.8" r="7"/>
<circle cx="927.2" cy="802.2" r="7"/>
<circle cx="699.7" cy="804.2" r="7"/>
<circle cx="747.5" cy="627.4" r="7"/>
<circle cx="628.5" cy="988.9" r="7"/>
<circle cx="646.2" cy="472.3" r="7"/>
<circle cx="341.1" cy="577.1" r="7"/>
<circle cx="809.5" cy="971.2" r="7"/>
<circle cx="384.5" cy="457.9" r="7"/>
<circle cx="722.5" cy="912.6" r="7"/>
<circle cx="1018.1" cy="801.2" r="7"/>
<circle cx="708.3" cy="654.9" r="7"/>
<circle cx="713.9" cy="265.5" r="7"/>
<circle cx="882.0" cy="419.0" r="7"/>
<circle cx="615.7" cy="877.4" r="7"/>
<circle cx="657.1" cy="770.7" r="7"/>
<circle cx="813.8" cy="754.7" r="7"/>
<circle cx="608.8" cy="263.8" r="7"/>
<circle cx="869.9" cy="868.8" r="7"/>
<circle cx="762.1" cy="297.5" r="7"/>
<circle cx="692.7" cy="310.4" r="7"/>
<circle cx="702.2" cy="464.4" r="7"/>
<circle cx="505.3" cy="471.1" r="7"/>
<circle cx="389.7" cy="797.9" r="7"/>
<circle cx="383.8" cy="772.2" r="7"/>
<circle cx="553.1" cy="326.9" r="7"/>
<circle cx="713.5" cy="844.6" r="7"/>
<circle cx="645.1" cy="835.0" r="7"/>
<circle cx="710.0" cy="380.0" r="7"/>
<circle cx="576.5" cy="1052.5" r="7"/>
<circle cx="663.0" cy="221.9" r="7"/>
<circle cx="796.3" cy="297.1" r="7"/>
<circle cx="517.8" cy="1008.7" r="7"/>
<circle cx="586.2" cy="286.1" r="7"/>
<circle cx="989.0" cy="266.0" r="7"/>
<circle cx="641.2" cy="232.7" r="7"/>
<circle cx="612.2" cy="273.7" r="7"/>
<circle cx="620.9" cy="239.8" r="7"/>
<circle cx="853.0" cy="455.0" r="7"/>
<circle cx="497.7" cy="332.3" r="7"/>
<circle cx="678.5" cy="1020.1" r="7"/>
<circle cx="551.5" cy="492.4" r="7"/>
<circle cx="390.2" cy="738.2" r="7"/>
<circle cx="765.0" cy="994.0" r="7"/>
<circle cx="491.2" cy="888.5" r="7"/>
<circle cx="644.0" cy="843.8" r="7"/>
<circle cx="881.7" cy="892.3" r="7"/>
<circle cx="800.7" cy="452.2" r="7"/>
<circle cx="522.2" cy="519.9" r="7"/>
<circle cx="648.1" cy="329.6" r="7"/>
<circle cx="320.2" cy="477.1" r="7"/>
<circle cx="354.1" cy="476.4" r="7"/>
<circle cx="813.1" cy="906.9" r="7"/>
<circle cx="479.1" cy="320.1" r="7"/>
<circle cx="801.9" cy="465.2" r="7"/>
<circle cx="789.4" cy="762.3" r="7"/>
<circle cx="644.2" cy="1073.4" r="7"/>
<circle cx="615.8" cy="726.5" r="7"/>
<circle cx="640.6" cy="476.9" r="7"/>
<circle cx="764.5" cy="278.2" r="7"/>
<circle cx="901.5" cy="778.0" r="7"/>
<circle cx="905.0" cy="838.5" r="7"/>
<circle cx="454.1" cy="225.1" r="7"/>
<circle cx="654.9" cy="317.4" r="7"/>
<circle cx="694.0" cy="1039.9" r="7"/>
<circle cx="605.3" cy="769.2" r="7"/>
<circle cx="763.3" cy="762.5" r="7"/>
<circle cx="652.3" cy="868.5" r="7"/>
<circle cx="660.0" cy="763.6" r="7"/>
<circle cx="390.7" cy="425.0" r="7"/>
<circle cx="873.2" cy="602.9" r="7"/>
<circle cx="566.5" cy="526.7" r="7"/>
<circle cx="864.5" cy="872.7" r="7"/>
<circle cx="670.0" cy="360.0" r="7"/>
<circle cx="729.9" cy="1032.2" r="7"/>
<circle cx="684.0" cy="1042.0" r="7"/>
<circle cx="452.5" cy="295.8" r="7"/>
<circle cx="444.7" cy="765.8" r="7"/>
<circle cx="346.0" cy="412.3" r="7"/>
<circle cx="729.0" cy="586.0" r="7"/>
<circle cx="523.2" cy="746.9" r="7"/>
<circle cx="389.6" cy="372.8" r="7"/>
<circle cx="397.5" cy="775.8" r="7"/>
<circle cx="290.3" cy="342.5" r="7"/>
<circle cx="675.0" cy="1058.3" r="7"/>
<circle cx="891.5" cy="898.0" r="7"/>
<circle cx="585.6" cy="421.7" r="7"/>
<circle cx="742.7" cy="424.3" r="7"/>
<circle cx="337.5" cy="427.9" r="7"/>
<circle cx="956.9" cy="792.6" r="7"/>
<circle cx="645.8" cy="1019.3" r="7"/>
<circle cx="297.4" cy="315.0" r="7"/>
<circle cx="305.4" cy="313.5" r="7"/>
<circle cx="596.3" cy="488.2" r="7"/>
<circle cx="553.1" cy="468.6" r="7"/>
<circle cx="587.9" cy="282.5" r="7"/>
<circle cx="550.5" cy="945.8" r="7"/>
<circle cx="548.1" cy="831.4" r="7"/>
<circle cx="689.6" cy="1049.3" r="7"/>
<circle cx="366.7" cy="788.4" r="7"/>
<circle cx="453.0" cy="375.1" r="7"/>
<circle cx="950.5" cy="903.0" r="7"/>
<circle cx="489.7" cy="221.4" r="7"/>
<circle cx="343.4" cy="433.0" r="7"/>
<circle cx="779.8" cy="906.3" r="7"/>
<circle cx="771.6" cy="498.8" r="7"/>
<circle cx="581.1" cy="850.1" r="7"/>
<circle cx="729.0" cy="846.4" r="7"/>
<circle cx="591.5" cy="712.2" r="7"/>
<circle cx="585.5" cy="771.0" r="7"/>
<circle cx="900.5" cy="843.1" r="7"/>
<circle cx="850.0" cy="875.3" r="7"/>
<circle cx="829.0" cy="530.1" r="7"/>
<circle cx="562.0" cy="721.0" r="7"/>
<circle cx="514.6" cy="785.7" r="7"/>
<circle cx="937.0" cy="585.9" r="7"/>
<circle cx="637.2" cy="1050.5" r="7"/>
<circle cx="573.9" cy="1023.4" r="7"/>
<circle cx="768.5" cy="246.1" r="7"/>
<circle cx="344.9" cy="757.1" r="7"/>
<circle cx="726.3" cy="821.8" r="7"/>
<circle cx="603.3" cy="555.0" r="7"/>
<circle cx="720.2" cy="858.0" r="7"/>
<circle cx="811.7" cy="408.2" r="7"/>
<circle cx="937.9" cy="655.0" r="7"/>
<circle cx="615.2" cy="493.5" r="7"/>
<circle cx="947.4" cy="681.4" r="7"/>
<circle cx="844.2" cy="817.7" r="7"/>
<circle cx="946.9" cy="861.6" r="7"/>
<circle cx="777.5" cy="484.8" r="7"/>
<circle cx="684.0" cy="478.9" r="7"/>
<circle cx="589.5" cy="426.8" r="7"/>
<circle cx="384.4" cy="811.2" r="7"/>
<circle cx="312.9" cy="478.6" r="7"/>
<circle cx="359.9" cy="754.5" r="7"/>
<circle cx="620.3" cy="561.6" r="7"/>
<circle cx="703.0" cy="830.7" r="7"/>
<circle cx="690.0" cy="560.0" r="7"/>
<circle cx="710.9" cy="227.2" r="7"/>
<circle cx="227.0" cy="467.0" r="7"/>
<circle cx="829.1" cy="706.7" r="7"/>
<circle cx="477.8" cy="274.1" r="7"/>
<circle cx="691.5" cy="973.2" r="7"/>
<circle cx="833.7" cy="855.4" r="7"/>
<circle cx="917.0" cy="509.0" r="7"/>
<circle cx="800.9" cy="721.5" r="7"/>
<circle cx="601.7" cy="760.4" r="7"/>
<circle cx="604.7" cy="1019.3" r="7"/>
<circle cx="305.0" cy="918.0" r="7"/>
<circle cx="375.4" cy="416.3" r="7"/>
<circle cx="605.1" cy="510.2" r="7"/>
<circle cx="781.6" cy="449.1" r="7"/>
<circle cx="730.0" cy="325.0" r="7"/>
<circle cx="752.9" cy="323.4" r="7"/>
<circle cx="724.8" cy="1054.2" r="7"/>
<circle cx="580.2" cy="841.3" r="7"/>
<circle cx="300.6" cy="445.8" r="7"/>
<circle cx="551.2" cy="1050.9" r="7"/>
<circle cx="411.4" cy="795.2" r="7"/>
<circle cx="566.2" cy="274.2" r="7"/>
<circle cx="650.0" cy="362.0" r="7"/>
<circle cx="610.8" cy="511.4" r="7"/>
<circle cx="923.7" cy="627.5" r="7"/>
<circle cx="626.1" cy="224.3" r="7"/>
<circle cx="565.4" cy="806.9" r="7"/>
<circle cx="575.5" cy="565.7" r="7"/>
<circle cx="749.7" cy="730.2" r="7"/>
<circle cx="529.2" cy="298.1" r="7"/>
<circle cx="709.8" cy="700.4" r="7"/>
<circle cx="362.5" cy="416.9" r="7"/>
<circle cx="601.0" cy="919.3" r="7"/>
<circle cx="437.1" cy="349.0" r="7"/>
<circle cx="582.0" cy="914.0" r="7"/>
<circle cx="570.2" cy="300.9" r="7"/>
<circle cx="592.6" cy="1058.8" r="7"/>
<circle cx="327.0" cy="452.3" r="7"/>
<circle cx="939.8" cy="897.6" r="7"/>
<circle cx="630.0" cy="899.0" r="7"/>
<circle cx="528.2" cy="452.5" r="7"/>
<circle cx="704.0" cy="928.0" r="7"/>
<circle cx="527.7" cy="465.9" r="7"/>
<circle cx="623.4" cy="916.6" r="7"/>
<circle cx="342.5" cy="483.4" r="7"/>
<circle cx="507.8" cy="497.9" r="7"/>
<circle cx="757.7" cy="785.9" r="7"/>
<circle cx="793.1" cy="735.4" r="7"/>
<circle cx="535.6" cy="1031.5" r="7"/>
<circle cx="734.8" cy="259.8" r="7"/>
<circle cx="630.3" cy="1068.0" r="7"/>
<circle cx="296.5" cy="413.1" r="7"/>
<circle cx="893.4" cy="625.9" r="7"/>
<circle cx="244.0" cy="416.4" r="7"/>
<circle cx="581.5" cy="219.1" r="7"/>
<circle cx="839.7" cy="857.1" r="7"/>
<circle cx="591.2" cy="855.6" r="7"/>
<circle cx="720.9" cy="789.1" r="7"/>
<circle cx="836.9" cy="844.3" r="7"/>
<circle cx="737.2" cy="311.9" r="7"/>
<circle cx="535.1" cy="296.2" r="7"/>
<circle cx="274.7" cy="367.2" r="7"/>
<circle cx="400.2" cy="468.9" r="7"/>
<circle cx="334.6" cy="307.1" r="7"/>
<circle cx="585.6" cy="1017.4" r="7"/>
<circle cx="415.6" cy="331.2" r="7"/>
<circle cx="711.1" cy="795.6" r="7"/>
<circle cx="536.1" cy="476.1" r="7"/>
<circle cx="569.2" cy="266.4" r="7"/>
<circle cx="418.7" cy="823.5" r="7"/>
<circle cx="473.0" cy="285.5" r="7"/>
<circle cx="740.5" cy="799.9" r="7"/>
<circle cx="798.4" cy="271.2" r="7"/>
<circle cx="948.8" cy="802.0" r="7"/>
<circle cx="370.4" cy="311.0" r="7"/>
<circle cx="995.8" cy="836.7" r="7"/>
<circle cx="596.4" cy="798.8" r="7"/>
<circle cx="533.7" cy="567.6" r="7"/>
<circle cx="571.6" cy="863.3" r="7"/>
<circle cx="714.9" cy="454.2" r="7"/>
<circle cx="671.9" cy="1055.7" r="7"/>
<circle cx="791.5" cy="914.5" r="7"/>
<circle cx="571.7" cy="1043.8" r="7"/>
<circle cx="676.0" cy="677.8" r="7"/>
<circle cx="779.5" cy="884.1" r="7"/>
<circle cx="693.3" cy="783.2" r="7"/>
<circle cx="730.4" cy="857.6" r="7"/>
<circle cx="773.3" cy="289.1" r="7"/>
<circle cx="710.3" cy="256.0" r="7"/>
<circle cx="522.0" cy="297.6" r="7"/>
<circle cx="764.4" cy="269.7" r="7"/>
<circle cx="638.3" cy="828.4" r="7"/>
<circle cx="920.2" cy="816.9" r="7"/>
<circle cx="447.4" cy="849.7" r="7"/>
<circle cx="460.1" cy="292.0" r="7"/>
<circle cx="371.5" cy="448.7" r="7"/>
<circle cx="522.5" cy="261.6" r="7"/>
<circle cx="462.1" cy="351.8" r="7"/>
<circle cx="389.2" cy="445.8" r="7"/>
<circle cx="353.2" cy="492.6" r="7"/>
<circle cx="246.0" cy="313.5" r="7"/>
<circle cx="512.0" cy="862.0" r="7"/>
<circle cx="914.3" cy="782.8" r="7"/>
<circle cx="517.8" cy="211.7" r="7"/>
<circle cx="770.2" cy="312.5" r="7"/>
<circle cx="706.4" cy="224.6" r="7"/>
<circle cx="383.2" cy="449.1" r="7"/>
<circle cx="947.2" cy="794.8" r="7"/>
<circle cx="352.6" cy="300.2" r="7"/>
<circle cx="405.1" cy="380.0" r="7"/>
<circle cx="617.5" cy="710.0" r="7"/>
<circle cx="426.2" cy="783.5" r="7"/>
<circle cx="610.0" cy="414.1" r="7"/>
<circle cx="906.5" cy="862.2" r="7"/>
<circle cx="639.0" cy="910.0" r="7"/>
<circle cx="361.7" cy="532.7" r="7"/>
<circle cx="934.1" cy="647.8" r="7"/>
<circle cx="621.4" cy="457.5" r="7"/>
<circle cx="472.7" cy="358.0" r="7"/>
<circle cx="628.1" cy="421.4" r="7"/>
<circle cx="627.3" cy="543.7" r="7"/>
<circle cx="773.9" cy="293.6" r="7"/>
<circle cx="673.3" cy="663.5" r="7"/>
<circle cx="756.8" cy="822.4" r="7"/>
<circle cx="708.5" cy="786.1" r="7"/>
<circle cx="289.8" cy="464.6" r="7"/>
<circle cx="474.3" cy="330.3" r="7"/>
<circle cx="943.3" cy="796.4" r="7"/>
<circle cx="819.7" cy="441.9" r="7"/>
<circle cx="860.0" cy="485.0" r="7"/>
<circle cx="378.9" cy="406.7" r="7"/>
<circle cx="783.1" cy="269.6" r="7"/>
<circle cx="867.2" cy="622.1" r="7"/>
<circle cx="421.0" cy="815.3" r="7"/>
<circle cx="552.8" cy="519.7" r="7"/>
<circle cx="1062.0" cy="465.0" r="7"/>
<circle cx="628.2" cy="456.7" r="7"/>
<circle cx="854.8" cy="883.3" r="7"/>
<circle cx="642.6" cy="891.7" r="7"/>
<circle cx="486.2" cy="892.3" r="7"/>
<circle cx="607.2" cy="713.0" r="7"/>
<circle cx="540.2" cy="208.8" r="7"/>
<circle cx="402.7" cy="847.9" r="7"/>
<circle cx="527.7" cy="245.7" r="7"/>
<circle cx="287.5" cy="456.2" r="7"/>
<circle cx="329.7" cy="278.3" r="7"/>
<circle cx="525.8" cy="1013.1" r="7"/>
<circle cx="355.6" cy="418.7" r="7"/>
<circle cx="660.0" cy="969.2" r="7"/>
<circle cx="340.7" cy="381.1" r="7"/>
<circle cx="875.0" cy="529.0" r="7"/>
<circle cx="1042.0" cy="275.0" r="7"/>
<circle cx="327.2" cy="328.8" r="7"/>
<circle cx="663.0" cy="323.7" r="7"/>
<circle cx="498.3" cy="485.0" r="7"/>
<circle cx="430.9" cy="333.5" r="7"/>
<circle cx="488.6" cy="332.5" r="7"/>
<circle cx="576.5" cy="743.9" r="7"/>
<circle cx="838.5" cy="840.3" r="7"/>
<circle cx="590.1" cy="459.9" r="7"/>
<circle cx="627.4" cy="312.5" r="7"/>
<circle cx="560.6" cy="931.0" r="7"/>
<circle cx="540.5" cy="894.2" r="7"/>
<circle cx="679.7" cy="1026.1" r="7"/>
<circle cx="857.0" cy="394.0" r="7"/>
<circle cx="476.0" cy="412.0" r="7"/>
<circle cx="724.0" cy="1046.0" r="7"/>
<circle cx="672.0" cy="415.0" r="7"/>
<circle cx="371.6" cy="385.8" r="7"/>
<circle cx="645.3" cy="535.2" r="7"/>
<circle cx="994.1" cy="841.0" r="7"/>
<circle cx="466.0" cy="710.9" r="7"/>
<circle cx="508.7" cy="897.8" r="7"/>
<circle cx="565.9" cy="757.0" r="7"/>
<circle cx="406.5" cy="243.4" r="7"/>
<circle cx="438.1" cy="744.8" r="7"/>
<circle cx="695.8" cy="1004.6" r="7"/>
<circle cx="468.7" cy="756.8" r="7"/>
<circle cx="712.7" cy="1062.4" r="7"/>
<circle cx="827.9" cy="904.7" r="7"/>
<circle cx="623.1" cy="1069.8" r="7"/>
<circle cx="636.9" cy="886.7" r="7"/>
<circle cx="526.2" cy="266.7" r="7"/>
<circle cx="650.4" cy="303.9" r="7"/>
<circle cx="846.0" cy="321.0" r="7"/>
<circle cx="388.7" cy="262.5" r="7"/>
<circle cx="865.1" cy="546.6" r="7"/>
<circle cx="651.6" cy="773.0" r="7"/>
<circle cx="424.4" cy="356.8" r="7"/>
<circle cx="429.5" cy="382.6" r="7"/>
<circle cx="439.6" cy="803.2" r="7"/>
<circle cx="657.5" cy="326.0" r="7"/>
<circle cx="347.6" cy="482.3" r="7"/>
<circle cx="969.7" cy="659.0" r="7"/>
<circle cx="459.7" cy="224.0" r="7"/>
<circle cx="376.0" cy="517.3" r="7"/>
<circle cx="577.0" cy="660.0" r="7"/>
<circle cx="299.0" cy="471.6" r="7"/>
<circle cx="583.6" cy="394.7" r="7"/>
<circle cx="521.7" cy="491.3" r="7"/>
<circle cx="712.4" cy="866.4" r="7"/>
<circle cx="594.4" cy="757.4" r="7"/>
<circle cx="588.6" cy="565.9" r="7"/>
<circle cx="433.2" cy="283.8" r="7"/>
<circle cx="914.3" cy="862.8" r="7"/>
<circle cx="367.1" cy="513.8" r="7"/>
<circle cx="898.6" cy="930.4" r="7"/>
<circle cx="439.1" cy="338.7" r="7"/>
<circle cx="976.1" cy="876.0" r="7"/>
<circle cx="798.3" cy="883.4" r="7"/>
<circle cx="690.0" cy="372.0" r="7"/>
<circle cx="613.9" cy="940.8" r="7"/>
<circle cx="1001.3" cy="809.7" r="7"/>
<circle cx="589.0" cy="328.6" r="7"/>
<circle cx="787.5" cy="308.6" r="7"/>
<circle cx="631.9" cy="483.5" r="7"/>
<circle cx="876.3" cy="552.7" r="7"/>
<circle cx="1074.0" cy="487.0" r="7"/>
<circle cx="654.3" cy="1071.2" r="7"/>
<circle cx="793.9" cy="630.3" r="7"/>
<circle cx="497.8" cy="478.1" r="7"/>
<circle cx="833.5" cy="809.4" r="7"/>
<circle cx="928.3" cy="627.4" r="7"/>
<circle cx="698.7" cy="682.9" r="7"/>
<circle cx="1070.0" cy="477.0" r="7"/>
<circle cx="563.8" cy="298.7" r="7"/>
<circle cx="564.0" cy="516.4" r="7"/>
<circle cx="809.8" cy="886.9" r="7"/>
<circle cx="837.1" cy="562.8" r="7"/>
<circle cx="516.2" cy="527.1" r="7"/>
<circle cx="906.8" cy="776.5" r="7"/>
<circle cx="889.5" cy="905.9" r="7"/>
<circle cx="584.3" cy="971.3" r="7"/>
<circle cx="791.6" cy="316.2" r="7"/>
<circle cx="302.8" cy="378.5" r="7"/>
<circle cx="614.1" cy="424.8" r="7"/>
<circle cx="673.3" cy="733.0" r="7"/>
<circle cx="776.9" cy="518.4" r="7"/>
<circle cx="694.3" cy="985.0" r="7"/>
<circle cx="634.0" cy="246.3" r="7"/>
<circle cx="444.3" cy="270.7" r="7"/>
<circle cx="932.4" cy="785.2" r="7"/>
<circle cx="655.0" cy="258.4" r="7"/>
<circle cx="620.4" cy="801.2" r="7"/>
<circle cx="1010.0" cy="257.0" r="7"/>
<circle cx="364.9" cy="487.4" r="7"/>
<circle cx="675.1" cy="997.1" r="7"/>
<circle cx="916.0" cy="422.0" r="7"/>
<circle cx="558.2" cy="946.8" r="7"/>
<circle cx="627.6" cy="930.5" r="7"/>
<circle cx="640.2" cy="838.5" r="7"/>
<circle cx="793.3" cy="946.3" r="7"/>
<circle cx="460.8" cy="268.1" r="7"/>
<circle cx="921.5" cy="843.0" r="7"/>
<circle cx="828.4" cy="912.3" r="7"/>
<circle cx="440.0" cy="432.0" r="7"/>
<circle cx="431.1" cy="243.5" r="7"/>
<circle cx="966.1" cy="644.9" r="7"/>
<circle cx="760.4" cy="1024.8" r="7"/>
<circle cx="708.0" cy="914.0" r="7"/>
<circle cx="566.6" cy="884.1" r="7"/>
<circle cx="451.4" cy="732.0" r="7"/>
<circle cx="981.8" cy="781.1" r="7"/>
<circle cx="722.1" cy="1021.7" r="7"/>
<circle cx="387.6" cy="495.5" r="7"/>
<circle cx="571.2" cy="944.0" r="7"/>
<circle cx="669.1" cy="870.8" r="7"/>
<circle cx="578.5" cy="834.9" r="7"/>
<circle cx="959.3" cy="667.6" r="7"/>
<circle cx="608.1" cy="1073.1" r="7"/>
<circle cx="353.7" cy="443.5" r="7"/>
<circle cx="308.3" cy="379.3" r="7"/>
<circle cx="675.7" cy="300.5" r="7"/>
<circle cx="558.1" cy="800.3" r="7"/>
<circle cx="329.7" cy="290.6" r="7"/>
<circle cx="673.0" cy="261.3" r="7"/>
<circle cx="712.0" cy="370.0" r="7"/>
<circle cx="445.1" cy="319.0" r="7"/>
<circle cx="840.0" cy="699.9" r="7"/>
<circle cx="695.0" cy="405.0" r="7"/>
<circle cx="386.8" cy="782.2" r="7"/>
<circle cx="718.8" cy="313.2" r="7"/>
<circle cx="657.2" cy="518.6" r="7"/>
<circle cx="848.7" cy="697.6" r="7"/>
<circle cx="548.7" cy="440.1" r="7"/>
<circle cx="621.7" cy="1060.3" r="7"/>
<circle cx="591.2" cy="881.9" r="7"/>
<circle cx="514.5" cy="1019.3" r="7"/>
<circle cx="779.0" cy="684.0" r="7"/>
<circle cx="522.4" cy="928.2" r="7"/>
<circle cx="675.0" cy="410.0" r="7"/>
<circle cx="307.0" cy="904.0" r="7"/>
<circle cx="757.2" cy="543.4" r="7"/>
<circle cx="590.1" cy="401.7" r="7"/>
<circle cx="638.9" cy="290.0" r="7"/>
<circle cx="734.5" cy="506.4" r="7"/>
<circle cx="455.6" cy="305.8" r="7"/>
<circle cx="597.4" cy="482.9" r="7"/>
<circle cx="520.3" cy="954.5" r="7"/>
<circle cx="847.4" cy="621.2" r="7"/>
<circle cx="814.1" cy="338.0" r="7"/>
<circle cx="593.1" cy="775.0" r="7"/>
<circle cx="862.5" cy="619.3" r="7"/>
<circle cx="619.6" cy="408.6" r="7"/>
<circle cx="799.1" cy="320.6" r="7"/>
<circle cx="822.4" cy="733.5" r="7"/>
<circle cx="696.1" cy="878.1" r="7"/>
<circle cx="569.0" cy="985.9" r="7"/>
<circle cx="562.6" cy="965.7" r="7"/>
<circle cx="884.1" cy="581.3" r="7"/>
<circle cx="901.5" cy="641.2" r="7"/>
<circle cx="610.0" cy="460.5" r="7"/>
<circle cx="604.1" cy="968.8" r="7"/>
<circle cx="373.2" cy="335.6" r="7"/>
<circle cx="506.1" cy="263.3" r="7"/>
<circle cx="862.7" cy="718.9" r="7"/>
<circle cx="575.2" cy="572.5" r="7"/>
<circle cx="367.0" cy="477.3" r="7"/>
<circle cx="632.0" cy="511.1" r="7"/>
<circle cx="725.6" cy="790.5" r="7"/>
<circle cx="324.7" cy="417.9" r="7"/>
<circle cx="298.9" cy="422.9" r="7"/>
<circle cx="769.7" cy="620.1" r="7"/>
<circle cx="591.1" cy="962.2" r="7"/>
<circle cx="898.8" cy="819.1" r="7"/>
<circle cx="666.6" cy="258.7" r="7"/>
<circle cx="301.1" cy="305.1" r="7"/>
<circle cx="303.0" cy="908.0" r="7"/>
<circle cx="335.8" cy="812.1" r="7"/>
<circle cx="705.4" cy="450.0" r="7"/>
<circle cx="238.0" cy="313.0" r="7"/>
<circle cx="608.6" cy="502.3" r="7"/>
<circle cx="359.6" cy="553.9" r="7"/>
<circle cx="581.0" cy="558.1" r="7"/>
<circle cx="596.1" cy="780.1" r="7"/>
<circle cx="383.0" cy="576.9" r="7"/>
<circle cx="582.1" cy="248.4" r="7"/>
<circle cx="489.0" cy="966.0" r="7"/>
<circle cx="748.6" cy="912.2" r="7"/>
<circle cx="824.7" cy="347.9" r="7"/>
<circle cx="852.6" cy="841.1" r="7"/>
<circle cx="551.4" cy="291.8" r="7"/>
<circle cx="352.0" cy="955.0" r="7"/>
<circle cx="597.5" cy="1069.2" r="7"/>
<circle cx="1001.8" cy="779.4" r="7"/>
<circle cx="369.3" cy="290.9" r="7"/>
<circle cx="378.7" cy="399.9" r="7"/>
<circle cx="569.8" cy="205.7" r="7"/>
<circle cx="621.8" cy="933.0" r="7"/>
<circle cx="567.5" cy="444.0" r="7"/>
<circle cx="637.0" cy="911.0" r="7"/>
<circle cx="416.2" cy="800.4" r="7"/>
<circle cx="646.2" cy="958.9" r="7"/>
<circle cx="335.2" cy="409.2" r="7"/>
<circle cx="306.6" cy="356.3" r="7"/>
<circle cx="816.2" cy="798.4" r="7"/>
<circle cx="821.9" cy="920.0" r="7"/>
<circle cx="690.9" cy="942.7" r="7"/>
<circle cx="299.5" cy="335.2" r="7"/>
<circle cx="873.0" cy="654.7" r="7"/>
<circle cx="495.0" cy="682.6" r="7"/>
<circle cx="379.3" cy="239.9" r="7"/>
<circle cx="833.0" cy="501.0" r="7"/>
<circle cx="630.6" cy="230.5" r="7"/>
<circle cx="940.0" cy="891.5" r="7"/>
<circle cx="807.8" cy="767.3" r="7"/>
<circle cx="578.6" cy="505.9" r="7"/>
<circle cx="650.5" cy="297.6" r="7"/>
<circle cx="546.2" cy="248.2" r="7"/>
<circle cx="402.4" cy="243.5" r="7"/>
<circle cx="686.5" cy="756.0" r="7"/>
<circle cx="676.0" cy="560.0" r="7"/>
<circle cx="325.3" cy="499.8" r="7"/>
<circle cx="556.7" cy="516.0" r="7"/>
<circle cx="288.0" cy="392.7" r="7"/>
<circle cx="958.0" cy="405.0" r="7"/>
<circle cx="926.3" cy="845.3" r="7"/>
<circle cx="824.8" cy="327.1" r="7"/>
<circle cx="511.5" cy="330.2" r="7"/>
<circle cx="589.9" cy="555.3" r="7"/>
<circle cx="480.5" cy="381.8" r="7"/>
<circle cx="556.1" cy="451.9" r="7"/>
<circle cx="396.7" cy="798.2" r="7"/>
<circle cx="577.0" cy="824.1" r="7"/>
<circle cx="407.0" cy="912.0" r="7"/>
<circle cx="772.4" cy="733.7" r="7"/>
<circle cx="723.0" cy="449.6" r="7"/>
<circle cx="927.9" cy="809.2" r="7"/>
<circle cx="858.8" cy="714.4" r="7"/>
<circle cx="669.0" cy="254.9" r="7"/>
<circle cx="612.4" cy="1028.4" r="7"/>
<circle cx="971.6" cy="807.5" r="7"/>
<circle cx="826.4" cy="832.6" r="7"/>
<circle cx="464.0" cy="441.0" r="7"/>
<circle cx="620.1" cy="258.4" r="7"/>
<circle cx="736.2" cy="810.6" r="7"/>
<circle cx="675.0" cy="360.0" r="7"/>
<circle cx="369.9" cy="425.4" r="7"/>
<circle cx="717.2" cy="259.4" r="7"/>
<circle cx="875.2" cy="872.8" r="7"/>
<circle cx="538.9" cy="944.8" r="7"/>
<circle cx="347.3" cy="275.7" r="7"/>
<circle cx="624.0" cy="451.1" r="7"/>
<circle cx="889.1" cy="822.5" r="7"/>
<circle cx="934.0" cy="834.5" r="7"/>
<circle cx="663.9" cy="236.0" r="7"/>
<circle cx="753.6" cy="512.9" r="7"/>
<circle cx="635.3" cy="1038.9" r="7"/>
<circle cx="813.1" cy="917.8" r="7"/>
<circle cx="279.2" cy="395.6" r="7"/>
<circle cx="581.6" cy="419.3" r="7"/>
<circle cx="725.0" cy="1012.6" r="7"/>
<circle cx="739.4" cy="915.1" r="7"/>
<circle cx="1010.0" cy="798.6" r="7"/>
<circle cx="381.4" cy="326.1" r="7"/>
<circle cx="623.3" cy="516.9" r="7"/>
<circle cx="550.7" cy="447.4" r="7"/>
<circle cx="632.6" cy="858.8" r="7"/>
<circle cx="460.5" cy="378.5" r="7"/>
<circle cx="821.9" cy="887.0" r="7"/>
<circle cx="564.0" cy="720.0" r="7"/>
<circle cx="509.3" cy="274.4" r="7"/>
<circle cx="732.9" cy="866.4" r="7"/>
<circle cx="370.3" cy="247.6" r="7"/>
<circle cx="751.6" cy="899.1" r="7"/>
<circle cx="691.7" cy="264.7" r="7"/>
<circle cx="750.4" cy="871.6" r="7"/>
<circle cx="403.6" cy="714.0" r="7"/>
<circle cx="361.5" cy="797.2" r="7"/>
<circle cx="772.7" cy="301.9" r="7"/>
<circle cx="848.0" cy="814.2" r="7"/>
<circle cx="459.0" cy="247.4" r="7"/>
<circle cx="806.3" cy="821.1" r="7"/>
<circle cx="410.0" cy="390.8" r="7"/>
<circle cx="891.2" cy="601.4" r="7"/>
<circle cx="366.3" cy="317.7" r="7"/>
<circle cx="516.1" cy="542.8" r="7"/>
<circle cx="620.3" cy="484.1" r="7"/>
<circle cx="818.7" cy="805.6" r="7"/>
<circle cx="297.2" cy="465.8" r="7"/>
<circle cx="770.3" cy="318.9" r="7"/>
<circle cx="1018.7" cy="786.8" r="7"/>
<circle cx="608.8" cy="465.3" r="7"/>
<circle cx="731.4" cy="239.2" r="7"/>
<circle cx="417.3" cy="256.7" r="7"/>
<circle cx="649.4" cy="312.0" r="7"/>
<circle cx="295.9" cy="364.4" r="7"/>
<circle cx="715.3" cy="753.7" r="7"/>
<circle cx="822.0" cy="873.0" r="7"/>
<circle cx="974.0" cy="846.5" r="7"/>
<circle cx="682.0" cy="347.0" r="7"/>
<circle cx="965.4" cy="868.5" r="7"/>
<circle cx="559.6" cy="463.2" r="7"/>
<circle cx="404.3" cy="855.6" r="7"/>
<circle cx="871.1" cy="945.1" r="7"/>
<circle cx="635.0" cy="543.1" r="7"/>
<circle cx="312.2" cy="349.4" r="7"/>
<circle cx="725.0" cy="604.0" r="7"/>
<circle cx="982.8" cy="650.3" r="7"/>
<circle cx="656.0" cy="247.6" r="7"/>
<circle cx="677.3" cy="832.2" r="7"/>
<circle cx="835.5" cy="421.6" r="7"/>
<circle cx="981.2" cy="832.1" r="7"/>
<circle cx="673.1" cy="1080.1" r="7"/>
<circle cx="843.0" cy="445.0" r="7"/>
<circle cx="790.4" cy="952.5" r="7"/>
<circle cx="684.1" cy="812.6" r="7"/>
<circle cx="457.0" cy="240.1" r="7"/>
<circle cx="806.6" cy="806.9" r="7"/>
<circle cx="587.5" cy="268.2" r="7"/>
<circle cx="733.3" cy="528.2" r="7"/>
<circle cx="462.6" cy="719.6" r="7"/>
<circle cx="659.5" cy="885.5" r="7"/>
<circle cx="845.0" cy="875.0" r="7"/>
<circle cx="918.2" cy="831.3" r="7"/>
<circle cx="763.5" cy="819.2" r="7"/>
<circle cx="509.7" cy="919.4" r="7"/>
<circle cx="391.6" cy="327.2" r="7"/>
<circle cx="603.6" cy="1044.0" r="7"/>
<circle cx="741.8" cy="1032.8" r="7"/>
<circle cx="506.9" cy="285.1" r="7"/>
<circle cx="752.4" cy="482.2" r="7"/>
<circle cx="434.5" cy="258.5" r="7"/>
<circle cx="437.3" cy="232.0" r="7"/>
<circle cx="376.8" cy="247.4" r="7"/>
<circle cx="386.7" cy="353.7" r="7"/>
<circle cx="537.1" cy="787.5" r="7"/>
<circle cx="587.3" cy="721.3" r="7"/>
<circle cx="376.4" cy="811.7" r="7"/>
<circle cx="291.8" cy="359.2" r="7"/>
<circle cx="940.5" cy="912.4" r="7"/>
<circle cx="780.1" cy="690.8" r="7"/>
<circle cx="719.1" cy="245.6" r="7"/>
<circle cx="915.7" cy="638.3" r="7"/>
<circle cx="950.7" cy="891.6" r="7"/>
<circle cx="841.0" cy="925.4" r="7"/>
<circle cx="631.0" cy="916.8" r="7"/>
<circle cx="714.9" cy="1018.9" r="7"/>
<circle cx="500.0" cy="495.0" r="7"/>
<circle cx="340.0" cy="326.4" r="7"/>
<circle cx="443.9" cy="245.4" r="7"/>
<circle cx="428.1" cy="298.7" r="7"/>
<circle cx="322.0" cy="423.8" r="7"/>
<circle cx="489.5" cy="704.5" r="7"/>
<circle cx="567.8" cy="875.9" r="7"/>
<circle cx="547.0" cy="262.9" r="7"/>
<circle cx="992.1" cy="831.2" r="7"/>
<circle cx="817.0" cy="745.7" r="7"/>
<circle cx="633.8" cy="801.3" r="7"/>
<circle cx="937.1" cy="787.7" r="7"/>
<circle cx="653.3" cy="862.5" r="7"/>
<circle cx="503.2" cy="223.0" r="7"/>
<circle cx="751.0" cy="954.0" r="7"/>
<circle cx="498.3" cy="990.3" r="7"/>
<circle cx="365.9" cy="381.5" r="7"/>
<circle cx="533.7" cy="340.9" r="7"/>
<circle cx="777.2" cy="467.6" r="7"/>
<circle cx="606.6" cy="950.0" r="7"/>
<circle cx="688.3" cy="739.1" r="7"/>
<circle cx="525.1" cy="256.4" r="7"/>
<circle cx="721.0" cy="1034.5" r="7"/>
<circle cx="554.6" cy="890.9" r="7"/>
<circle cx="414.4" cy="307.3" r="7"/>
<circle cx="717.4" cy="638.5" r="7"/>
<circle cx="660.5" cy="881.4" r="7"/>
<circle cx="801.1" cy="726.4" r="7"/>
<circle cx="371.7" cy="370.1" r="7"/>
<circle cx="680.0" cy="395.0" r="7"/>
<circle cx="618.3" cy="426.9" r="7"/>
<circle cx="631.3" cy="927.1" r="7"/>
<circle cx="513.1" cy="277.8" r="7"/>
<circle cx="500.0" cy="442.0" r="7"/>
<circle cx="882.4" cy="830.1" r="7"/>
<circle cx="479.1" cy="375.0" r="7"/>
<circle cx="583.2" cy="728.9" r="7"/>
<circle cx="942.1" cy="866.4" r="7"/>
<circle cx="299.9" cy="498.6" r="7"/>
<circle cx="613.0" cy="831.9" r="7"/>
<circle cx="556.6" cy="808.8" r="7"/>
<circle cx="684.3" cy="954.9" r="7"/>
<circle cx="694.0" cy="236.7" r="7"/>
<circle cx="375.0" cy="543.3" r="7"/>
<circle cx="585.6" cy="762.7" r="7"/>
<circle cx="371.8" cy="524.7" r="7"/>
<circle cx="521.5" cy="274.3" r="7"/>
<circle cx="528.7" cy="876.2" r="7"/>
<circle cx="386.5" cy="285.7" r="7"/>
<circle cx="348.6" cy="478.3" r="7"/>
<circle cx="348.9" cy="387.7" r="7"/>
<circle cx="637.3" cy="283.4" r="7"/>
<circle cx="545.1" cy="988.3" r="7"/>
<circle cx="897.8" cy="830.3" r="7"/>
<circle cx="612.0" cy="405.0" r="7"/>
<circle cx="600.2" cy="284.0" r="7"/>
<circle cx="552.5" cy="991.2" r="7"/>
<circle cx="311.6" cy="376.4" r="7"/>
<circle cx="719.5" cy="716.6" r="7"/>
<circle cx="359.3" cy="374.7" r="7"/>
<circle cx="886.8" cy="889.1" r="7"/>
<circle cx="925.5" cy="908.7" r="7"/>
<circle cx="655.0" cy="660.0" r="7"/>
<circle cx="681.3" cy="1031.0" r="7"/>
<circle cx="385.1" cy="257.9" r="7"/>
<circle cx="439.7" cy="249.5" r="7"/>
<circle cx="570.0" cy="799.6" r="7"/>
<circle cx="984.8" cy="799.4" r="7"/>
<circle cx="402.7" cy="458.4" r="7"/>
<circle cx="526.3" cy="506.2" r="7"/>
<circle cx="880.2" cy="900.5" r="7"/>
<circle cx="751.9" cy="543.1" r="7"/>
<circle cx="547.9" cy="210.6" r="7"/>
<circle cx="936.0" cy="297.0" r="7"/>
<circle cx="707.7" cy="883.5" r="7"/>
<circle cx="828.9" cy="605.8" r="7"/>
<circle cx="687.4" cy="815.8" r="7"/>
<circle cx="519.0" cy="484.6" r="7"/>
<circle cx="385.2" cy="428.0" r="7"/>
<circle cx="417.2" cy="267.7" r="7"/>
<circle cx="312.0" cy="888.0" r="7"/>
<circle cx="567.7" cy="846.6" r="7"/>
<circle cx="896.2" cy="919.7" r="7"/>
<circle cx="837.3" cy="526.4" r="7"/>
<circle cx="574.1" cy="241.2" r="7"/>
<circle cx="556.7" cy="405.3" r="7"/>
<circle cx="789.3" cy="808.3" r="7"/>
<circle cx="423.5" cy="396.5" r="7"/>
<circle cx="540.1" cy="881.6" r="7"/>
<circle cx="582.7" cy="718.9" r="7"/>
<circle cx="716.0" cy="725.6" r="7"/>
<circle cx="353.7" cy="793.3" r="7"/>
<circle cx="516.8" cy="767.7" r="7"/>
<circle cx="940.9" cy="906.1" r="7"/>
<circle cx="650.0" cy="337.0" r="7"/>
<circle cx="265.0" cy="402.0" r="7"/>
<circle cx="950.0" cy="676.6" r="7"/>
<circle cx="804.1" cy="756.2" r="7"/>
<circle cx="561.3" cy="531.4" r="7"/>
<circle cx="816.0" cy="319.4" r="7"/>
<circle cx="680.2" cy="768.5" r="7"/>
<circle cx="403.4" cy="432.5" r="7"/>
<circle cx="648.7" cy="990.2" r="7"/>
<circle cx="447.6" cy="356.1" r="7"/>
<circle cx="545.8" cy="971.0" r="7"/>
<circle cx="809.1" cy="735.6" r="7"/>
<circle cx="811.7" cy="861.5" r="7"/>
<circle cx="269.1" cy="358.7" r="7"/>
<circle cx="314.3" cy="294.0" r="7"/>
<circle cx="606.7" cy="753.7" r="7"/>
<circle cx="773.9" cy="477.7" r="7"/>
<circle cx="943.2" cy="850.8" r="7"/>
<circle cx="638.2" cy="1077.1" r="7"/>
<circle cx="855.6" cy="933.9" r="7"/>
<circle cx="385.8" cy="713.5" r="7"/>
<circle cx="636.5" cy="919.0" r="7"/>
<circle cx="585.2" cy="539.2" r="7"/>
<circle cx="522.9" cy="247.2" r="7"/>
<circle cx="576.7" cy="1040.1" r="7"/>
<circle cx="555.4" cy="1029.5" r="7"/>
<circle cx="896.0" cy="327.0" r="7"/>
<circle cx="441.1" cy="759.0" r="7"/>
<circle cx="807.6" cy="914.7" r="7"/>
<circle cx="588.0" cy="246.5" r="7"/>
<circle cx="434.7" cy="704.8" r="7"/>
<circle cx="640.5" cy="719.5" r="7"/>
<circle cx="883.0" cy="587.3" r="7"/>
<circle cx="632.5" cy="214.3" r="7"/>
<circle cx="695.4" cy="820.2" r="7"/>
<circle cx="856.4" cy="710.6" r="7"/>
<circle cx="534.1" cy="1008.1" r="7"/>
<circle cx="575.8" cy="398.0" r="7"/>
<circle cx="864.7" cy="538.7" r="7"/>
<circle cx="634.7" cy="710.6" r="7"/>
<circle cx="548.7" cy="453.9" r="7"/>
<circle cx="837.8" cy="852.0" r="7"/>
<circle cx="942.4" cy="588.4" r="7"/>
<circle cx="791.3" cy="773.1" r="7"/>
<circle cx="521.5" cy="999.2" r="7"/>
<circle cx="402.0" cy="753.2" r="7"/>
<circle cx="571.7" cy="489.1" r="7"/>
<circle cx="726.5" cy="1020.1" r="7"/>
<circle cx="407.7" cy="760.5" r="7"/>
<circle cx="355.7" cy="358.6" r="7"/>
<circle cx="370.1" cy="381.6" r="7"/>
<circle cx="465.7" cy="238.3" r="7"/>
<circle cx="772.3" cy="829.7" r="7"/>
<circle cx="918.1" cy="900.0" r="7"/>
<circle cx="525.0" cy="566.7" r="7"/>
<circle cx="833.9" cy="815.5" r="7"/>
<circle cx="579.7" cy="1065.6" r="7"/>
<circle cx="485.4" cy="341.0" r="7"/>
<circle cx="499.4" cy="230.4" r="7"/>
<circle cx="586.1" cy="899.6" r="7"/>
<circle cx="726.4" cy="236.7" r="7"/>
<circle cx="715.5" cy="781.7" r="7"/>
<circle cx="662.0" cy="636.0" r="7"/>
<circle cx="876.0" cy="518.0" r="7"/>
<circle cx="510.7" cy="512.2" r="7"/>
<circle cx="576.7" cy="1011.7" r="7"/>
<circle cx="473.5" cy="701.2" r="7"/>
<circle cx="548.1" cy="543.1" r="7"/>
<circle cx="818.4" cy="965.9" r="7"/>
<circle cx="571.1" cy="305.6" r="7"/>
<circle cx="698.6" cy="874.6" r="7"/>
<circle cx="512.6" cy="961.4" r="7"/>
<circle cx="907.9" cy="884.6" r="7"/>
<circle cx="624.5" cy="246.4" r="7"/>
<circle cx="512.9" cy="699.0" r="7"/>
<circle cx="526.3" cy="520.0" r="7"/>
<circle cx="408.2" cy="410.8" r="7"/>
<circle cx="1028.0" cy="418.0" r="7"/>
<circle cx="861.9" cy="534.7" r="7"/>
<circle cx="433.7" cy="823.3" r="7"/>
<circle cx="589.6" cy="496.7" r="7"/>
<circle cx="467.2" cy="350.5" r="7"/>
<circle cx="489.3" cy="931.8" r="7"/>
<circle cx="670.0" cy="1012.7" r="7"/>
<circle cx="797.7" cy="957.3" r="7"/>
<circle cx="272.0" cy="310.0" r="7"/>
<circle cx="797.6" cy="697.7" r="7"/>
<circle cx="681.4" cy="725.0" r="7"/>
<circle cx="858.2" cy="838.8" r="7"/>
<circle cx="637.8" cy="455.6" r="7"/>
<circle cx="562.9" cy="490.2" r="7"/>
<circle cx="262.0" cy="306.0" r="7"/>
<circle cx="585.2" cy="965.2" r="7"/>
<circle cx="446.1" cy="351.3" r="7"/>
<circle cx="340.4" cy="344.3" r="7"/>
<circle cx="935.0" cy="840.0" r="7"/>
<circle cx="729.9" cy="654.1" r="7"/>
<circle cx="557.0" cy="1058.9" r="7"/>
<circle cx="543.7" cy="486.7" r="7"/>
<circle cx="766.6" cy="298.8" r="7"/>
<circle cx="205.0" cy="424.0" r="7"/>
<circle cx="868.4" cy="594.6" r="7"/>
<circle cx="640.4" cy="725.7" r="7"/>
<circle cx="862.7" cy="565.1" r="7"/>
<circle cx="496.2" cy="361.1" r="7"/>
<circle cx="756.8" cy="768.0" r="7"/>
<circle cx="581.0" cy="769.2" r="7"/>
<circle cx="829.5" cy="565.6" r="7"/>
<circle cx="603.8" cy="221.6" r="7"/>
<circle cx="652.6" cy="715.2" r="7"/>
<circle cx="364.0" cy="309.8" r="7"/>
<circle cx="504.4" cy="320.9" r="7"/>
<circle cx="981.2" cy="803.6" r="7"/>
<circle cx="800.3" cy="618.3" r="7"/>
<circle cx="865.0" cy="436.0" r="7"/>
<circle cx="347.1" cy="474.4" r="7"/>
<circle cx="816.2" cy="869.7" r="7"/>
<circle cx="372.2" cy="737.8" r="7"/>
<circle cx="481.4" cy="386.2" r="7"/>
<circle cx="578.2" cy="778.1" r="7"/>
<circle cx="668.4" cy="695.9" r="7"/>
<circle cx="539.0" cy="538.5" r="7"/>
<circle cx="672.0" cy="620.0" r="7"/>
<circle cx="714.9" cy="235.5" r="7"/>
<circle cx="893.2" cy="909.3" r="7"/>
<circle cx="398.2" cy="288.5" r="7"/>
<circle cx="446.6" cy="259.4" r="7"/>
<circle cx="562.6" cy="1007.6" r="7"/>
<circle cx="550.1" cy="251.3" r="7"/>
<circle cx="860.4" cy="926.3" r="7"/>
<circle cx="876.6" cy="625.1" r="7"/>
<circle cx="831.6" cy="933.9" r="7"/>
<circle cx="623.5" cy="695.0" r="7"/>
<circle cx="591.5" cy="1030.6" r="7"/>
<circle cx="540.4" cy="346.7" r="7"/>
<circle cx="542.4" cy="574.7" r="7"/>
<circle cx="571.7" cy="443.4" r="7"/>
<circle cx="574.7" cy="278.4" r="7"/>
<circle cx="620.7" cy="442.0" r="7"/>
<circle cx="590.4" cy="788.1" r="7"/>
<circle cx="325.5" cy="369.8" r="7"/>
<circle cx="968.0" cy="494.0" r="7"/>
<circle cx="804.1" cy="917.1" r="7"/>
<circle cx="691.6" cy="990.2" r="7"/>
<circle cx="768.0" cy="408.6" r="7"/>
<circle cx="846.2" cy="897.0" r="7"/>
<circle cx="604.9" cy="1003.4" r="7"/>
<circle cx="820.7" cy="417.0" r="7"/>
<circle cx="592.1" cy="874.5" r="7"/>
<circle cx="545.3" cy="431.6" r="7"/>
<circle cx="780.8" cy="756.8" r="7"/>
<circle cx="631.0" cy="772.1" r="7"/>
<circle cx="483.1" cy="266.5" r="7"/>
<circle cx="566.8" cy="733.6" r="7"/>
<circle cx="413.2" cy="229.0" r="7"/>
<circle cx="442.1" cy="308.4" r="7"/>
<circle cx="871.7" cy="646.8" r="7"/>
<circle cx="384.8" cy="517.5" r="7"/>
<circle cx="623.3" cy="751.7" r="7"/>
<circle cx="926.3" cy="884.4" r="7"/>
<circle cx="507.9" cy="977.6" r="7"/>
<circle cx="559.9" cy="848.4" r="7"/>
<circle cx="725.8" cy="669.6" r="7"/>
<circle cx="322.3" cy="802.1" r="7"/>
<circle cx="356.4" cy="748.5" r="7"/>
<circle cx="869.3" cy="635.2" r="7"/>
<circle cx="561.8" cy="274.4" r="7"/>
<circle cx="744.9" cy="541.3" r="7"/>
<circle cx="324.1" cy="316.6" r="7"/>
<circle cx="695.0" cy="664.8" r="7"/>
<circle cx="399.6" cy="247.6" r="7"/>
<circle cx="792.9" cy="306.0" r="7"/>
<circle cx="583.8" cy="1057.5" r="7"/>
<circle cx="525.5" cy="778.9" r="7"/>
<circle cx="779.5" cy="868.9" r="7"/>
<circle cx="715.3" cy="1039.7" r="7"/>
<circle cx="879.9" cy="937.3" r="7"/>
<circle cx="602.4" cy="262.2" r="7"/>
<circle cx="503.5" cy="920.4" r="7"/>
<circle cx="501.0" cy="506.0" r="7"/>
<circle cx="369.1" cy="262.5" r="7"/>
<circle cx="494.1" cy="394.1" r="7"/>
<circle cx="320.6" cy="381.3" r="7"/>
<circle cx="468.8" cy="373.3" r="7"/>
<circle cx="408.5" cy="247.3" r="7"/>
<circle cx="660.7" cy="1048.1" r="7"/>
<circle cx="397.5" cy="824.5" r="7"/>
<circle cx="862.4" cy="630.3" r="7"/>
<circle cx="530.4" cy="308.6" r="7"/>
<circle cx="573.8" cy="248.4" r="7"/>
<circle cx="440.3" cy="710.1" r="7"/>
<circle cx="576.7" cy="1030.1" r="7"/>
<circle cx="540.7" cy="836.0" r="7"/>
<circle cx="499.9" cy="712.8" r="7"/>
<circle cx="422.7" cy="739.0" r="7"/>
<circle cx="393.0" cy="234.8" r="7"/>
<circle cx="421.8" cy="377.8" r="7"/>
<circle cx="688.6" cy="790.5" r="7"/>
<circle cx="700.0" cy="917.0" r="7"/>
<circle cx="573.9" cy="299.0" r="7"/>
<circle cx="526.1" cy="329.1" r="7"/>
<circle cx="506.0" cy="308.2" r="7"/>
<circle cx="813.0" cy="733.7" r="7"/>
<circle cx="807.4" cy="741.3" r="7"/>
<circle cx="1006.8" cy="840.6" r="7"/>
<circle cx="594.9" cy="551.1" r="7"/>
<circle cx="341.8" cy="277.1" r="7"/>
<circle cx="678.6" cy="681.1" r="7"/>
<circle cx="393.1" cy="543.3" r="7"/>
<circle cx="606.2" cy="1035.4" r="7"/>
<circle cx="386.0" cy="752.1" r="7"/>
<circle cx="660.0" cy="410.0" r="7"/>
<circle cx="341.3" cy="803.0" r="7"/>
<circle cx="730.8" cy="879.4" r="7"/>
<circle cx="349.7" cy="489.8" r="7"/>
<circle cx="286.5" cy="366.3" r="7"/>
<circle cx="360.4" cy="470.3" r="7"/>
<circle cx="379.5" cy="252.6" r="7"/>
<circle cx="430.0" cy="828.5" r="7"/>
<circle cx="407.8" cy="834.8" r="7"/>
<circle cx="332.5" cy="281.2" r="7"/>
<circle cx="521.1" cy="236.1" r="7"/>
<circle cx="383.6" cy="262.0" r="7"/>
<circle cx="593.3" cy="539.8" r="7"/>
<circle cx="526.0" cy="821.0" r="7"/>
<circle cx="774.9" cy="919.7" r="7"/>
<circle cx="736.0" cy="531.7" r="7"/>
<circle cx="985.2" cy="852.5" r="7"/>
<circle cx="619.0" cy="556.3" r="7"/>
<circle cx="340.3" cy="449.0" r="7"/>
<circle cx="749.8" cy="497.8" r="7"/>
<circle cx="437.3" cy="360.0" r="7"/>
<circle cx="805.1" cy="826.2" r="7"/>
<circle cx="394.9" cy="482.0" r="7"/>
<circle cx="784.4" cy="469.0" r="7"/>
<circle cx="739.5" cy="514.7" r="7"/>
<circle cx="727.8" cy="637.9" r="7"/>
<circle cx="549.4" cy="1039.8" r="7"/>
<circle cx="535.6" cy="949.9" r="7"/>
<circle cx="527.2" cy="750.1" r="7"/>
<circle cx="363.2" cy="439.9" r="7"/>
<circle cx="553.4" cy="204.9" r="7"/>
<circle cx="726.7" cy="706.0" r="7"/>
<circle cx="688.5" cy="224.4" r="7"/>
<circle cx="685.3" cy="1002.5" r="7"/>
<circle cx="949.8" cy="790.5" r="7"/>
<circle cx="609.9" cy="932.3" r="7"/>
<circle cx="981.9" cy="657.3" r="7"/>
<circle cx="720.3" cy="903.9" r="7"/>
<circle cx="819.5" cy="787.7" r="7"/>
<circle cx="888.0" cy="426.0" r="7"/>
<circle cx="479.0" cy="268.2" r="7"/>
<circle cx="832.9" cy="801.4" r="7"/>
<circle cx="707.1" cy="314.8" r="7"/>
<circle cx="377.0" cy="376.2" r="7"/>
<circle cx="789.2" cy="275.4" r="7"/>
<circle cx="732.8" cy="727.9" r="7"/>
<circle cx="403.8" cy="821.9" r="7"/>
<circle cx="655.2" cy="702.6" r="7"/>
<circle cx="387.6" cy="305.5" r="7"/>
<circle cx="981.4" cy="791.0" r="7"/>
<circle cx="850.7" cy="567.9" r="7"/>
<circle cx="635.2" cy="821.6" r="7"/>
<circle cx="929.9" cy="910.7" r="7"/>
<circle cx="567.6" cy="570.8" r="7"/>
<circle cx="372.1" cy="463.5" r="7"/>
<circle cx="917.2" cy="878.0" r="7"/>
<circle cx="955.3" cy="785.6" r="7"/>
<circle cx="928.9" cy="821.9" r="7"/>
<circle cx="491.8" cy="961.1" r="7"/>
<circle cx="600.9" cy="698.5" r="7"/>
<circle cx="397.0" cy="937.0" r="7"/>
<circle cx="653.3" cy="1079.8" r="7"/>
<circle cx="551.3" cy="486.6" r="7"/>
<circle cx="758.4" cy="251.4" r="7"/>
<circle cx="641.4" cy="832.0" r="7"/>
<circle cx="910.2" cy="639.0" r="7"/>
<circle cx="742.5" cy="241.7" r="7"/>
<circle cx="604.2" cy="402.7" r="7"/>
<circle cx="653.9" cy="516.1" r="7"/>
<circle cx="868.5" cy="924.2" r="7"/>
<circle cx="638.9" cy="700.1" r="7"/>
<circle cx="629.0" cy="838.9" r="7"/>
<circle cx="540.0" cy="400.0" r="7"/>
<circle cx="721.5" cy="299.4" r="7"/>
<circle cx="838.0" cy="802.1" r="7"/>
<circle cx="393.3" cy="470.6" r="7"/>
<circle cx="585.0" cy="654.0" r="7"/>
<circle cx="781.8" cy="524.3" r="7"/>
<circle cx="707.3" cy="776.4" r="7"/>
<circle cx="680.1" cy="704.9" r="7"/>
<circle cx="719.6" cy="642.8" r="7"/>
<circle cx="489.2" cy="257.6" r="7"/>
<circle cx="343.7" cy="360.4" r="7"/>
<circle cx="952.6" cy="848.2" r="7"/>
<circle cx="330.6" cy="575.9" r="7"/>
<circle cx="496.9" cy="969.2" r="7"/>
<circle cx="375.1" cy="759.3" r="7"/>
<circle cx="653.4" cy="746.0" r="7"/>
<circle cx="481.3" cy="928.5" r="7"/>
<circle cx="789.1" cy="692.6" r="7"/>
<circle cx="437.7" cy="293.8" r="7"/>
<circle cx="744.1" cy="791.9" r="7"/>
<circle cx="730.0" cy="802.9" r="7"/>
<circle cx="723.8" cy="270.0" r="7"/>
<circle cx="311.6" cy="464.3" r="7"/>
<circle cx="698.0" cy="783.1" r="7"/>
<circle cx="349.4" cy="445.9" r="7"/>
<circle cx="655.0" cy="660.0" r="7"/>
<circle cx="959.6" cy="649.8" r="7"/>
<circle cx="971.9" cy="867.8" r="7"/>
<circle cx="565.8" cy="956.1" r="7"/>
<circle cx="778.1" cy="887.7" r="7"/>
<circle cx="493.6" cy="700.4" r="7"/>
<circle cx="730.1" cy="724.7" r="7"/>
<circle cx="657.7" cy="895.5" r="7"/>
<circle cx="411.9" cy="716.8" r="7"/>
<circle cx="626.6" cy="1002.5" r="7"/>
<circle cx="683.7" cy="821.2" r="7"/>
<circle cx="607.2" cy="307.9" r="7"/>
<circle cx="651.0" cy="761.3" r="7"/>
<circle cx="622.6" cy="708.1" r="7"/>
<circle cx="908.1" cy="626.2" r="7"/>
<circle cx="879.3" cy="876.8" r="7"/>
<circle cx="542.9" cy="786.4" r="7"/>
<circle cx="826.0" cy="929.0" r="7"/>
<circle cx="302.6" cy="473.4" r="7"/>
<circle cx="514.7" cy="268.9" r="7"/>
<circle cx="629.9" cy="514.6" r="7"/>
<circle cx="502.0" cy="330.9" r="7"/>
<circle cx="429.2" cy="236.0" r="7"/>
<circle cx="855.6" cy="917.6" r="7"/>
<circle cx="992.2" cy="809.8" r="7"/>
<circle cx="873.0" cy="559.8" r="7"/>
<circle cx="507.2" cy="335.0" r="7"/>
<circle cx="915.0" cy="754.0" r="7"/>
<circle cx="802.3" cy="801.9" r="7"/>
<circle cx="1020.1" cy="814.7" r="7"/>
<circle cx="365.0" cy="942.0" r="7"/>
<circle cx="608.3" cy="282.0" r="7"/>
<circle cx="760.0" cy="669.0" r="7"/>
<circle cx="465.0" cy="309.3" r="7"/>
<circle cx="637.0" cy="345.0" r="7"/>
<circle cx="441.0" cy="813.8" r="7"/>
<circle cx="806.9" cy="281.4" r="7"/>
<circle cx="461.1" cy="337.7" r="7"/>
<circle cx="904.1" cy="851.3" r="7"/>
<circle cx="830.3" cy="419.5" r="7"/>
<circle cx="600.3" cy="749.6" r="7"/>
<circle cx="677.9" cy="819.8" r="7"/>
<circle cx="915.4" cy="807.5" r="7"/>
<circle cx="701.7" cy="1048.3" r="7"/>
<circle cx="855.8" cy="864.3" r="7"/>
<circle cx="556.3" cy="310.1" r="7"/>
<circle cx="610.0" cy="305.0" r="7"/>
<circle cx="493.4" cy="758.5" r="7"/>
<circle cx="730.0" cy="806.9" r="7"/>
<circle cx="968.5" cy="839.4" r="7"/>
<circle cx="292.0" cy="325.6" r="7"/>
<circle cx="339.3" cy="557.0" r="7"/>
<circle cx="887.3" cy="680.8" r="7"/>
<circle cx="748.4" cy="631.9" r="7"/>
<circle cx="776.8" cy="268.1" r="7"/>
<circle cx="695.0" cy="342.0" r="7"/>
<circle cx="700.3" cy="275.6" r="7"/>
<circle cx="760.5" cy="563.8" r="7"/>
<circle cx="378.2" cy="294.9" r="7"/>
<circle cx="319.0" cy="416.0" r="7"/>
<circle cx="703.5" cy="800.1" r="7"/>
<circle cx="311.5" cy="468.9" r="7"/>
<circle cx="517.6" cy="939.6" r="7"/>
<circle cx="273.5" cy="405.5" r="7"/>
<circle cx="409.6" cy="264.0" r="7"/>
<circle cx="552.1" cy="975.4" r="7"/>
<circle cx="393.4" cy="841.1" r="7"/>
<circle cx="538.8" cy="330.9" r="7"/>
<circle cx="709.0" cy="1048.9" r="7"/>
<circle cx="528.2" cy="910.3" r="7"/>
<circle cx="527.0" cy="860.0" r="7"/>
<circle cx="423.6" cy="291.9" r="7"/>
<circle cx="653.6" cy="460.5" r="7"/>
<circle cx="723.4" cy="713.7" r="7"/>
<circle cx="615.7" cy="538.9" r="7"/>
<circle cx="611.3" cy="322.2" r="7"/>
<circle cx="550.8" cy="814.5" r="7"/>
<circle cx="653.4" cy="802.3" r="7"/>
<circle cx="742.2" cy="878.9" r="7"/>
<circle cx="498.1" cy="686.6" r="7"/>
<circle cx="677.1" cy="859.0" r="7"/>
<circle cx="784.7" cy="962.7" r="7"/>
<circle cx="697.2" cy="765.5" r="7"/>
<circle cx="323.5" cy="312.6" r="7"/>
<circle cx="735.8" cy="242.8" r="7"/>
<circle cx="525.9" cy="498.9" r="7"/>
<circle cx="762.0" cy="935.0" r="7"/>
<circle cx="479.4" cy="364.6" r="7"/>
<circle cx="443.9" cy="233.1" r="7"/>
<circle cx="511.0" cy="521.6" r="7"/>
<circle cx="635.2" cy="997.2" r="7"/>
<circle cx="672.0" cy="711.8" r="7"/>
<circle cx="974.1" cy="824.9" r="7"/>
<circle cx="900.4" cy="880.3" r="7"/>
<circle cx="798.9" cy="740.4" r="7"/>
<circle cx="989.7" cy="847.3" r="7"/>
<circle cx="815.2" cy="948.4" r="7"/>
<circle cx="574.7" cy="954.3" r="7"/>
<circle cx="323.7" cy="431.8" r="7"/>
<circle cx="533.9" cy="206.0" r="7"/>
<circle cx="759.6" cy="851.0" r="7"/>
<circle cx="869.0" cy="531.1" r="7"/>
<circle cx="533.1" cy="328.6" r="7"/>
<circle cx="644.1" cy="947.0" r="7"/>
<circle cx="380.8" cy="277.9" r="7"/>
<circle cx="385.6" cy="580.1" r="7"/>
<circle cx="703.8" cy="962.7" r="7"/>
<circle cx="703.7" cy="1027.5" r="7"/>
<circle cx="670.0" cy="922.0" r="7"/>
<circle cx="367.9" cy="816.2" r="7"/>
<circle cx="517.9" cy="374.7" r="7"/>
<circle cx="676.3" cy="892.3" r="7"/>
<circle cx="365.4" cy="507.3" r="7"/>
<circle cx="634.2" cy="1001.6" r="7"/>
<circle cx="651.4" cy="489.3" r="7"/>
<circle cx="255.0" cy="305.0" r="7"/>
<circle cx="673.6" cy="482.3" r="7"/>
<circle cx="382.2" cy="348.3" r="7"/>
<circle cx="283.5" cy="384.6" r="7"/>
<circle cx="334.1" cy="422.1" r="7"/>
<circle cx="671.7" cy="841.2" r="7"/>
<circle cx="815.1" cy="878.9" r="7"/>
<circle cx="460.9" cy="241.0" r="7"/>
<circle cx="912.6" cy="773.0" r="7"/>
<circle cx="847.1" cy="941.1" r="7"/>
<circle cx="879.1" cy="542.0" r="7"/>
<circle cx="745.0" cy="352.0" r="7"/>
<circle cx="942.3" cy="831.3" r="7"/>
<circle cx="773.1" cy="785.8" r="7"/>
<circle cx="515.1" cy="367.5" r="7"/>
<circle cx="928.6" cy="872.5" r="7"/>
<circle cx="873.2" cy="934.0" r="7"/>
<circle cx="413.1" cy="773.6" r="7"/>
<circle cx="609.3" cy="300.6" r="7"/>
<circle cx="849.0" cy="855.9" r="7"/>
<circle cx="625.6" cy="484.8" r="7"/>
<circle cx="591.6" cy="798.1" r="7"/>
<circle cx="716.1" cy="1010.1" r="7"/>
<circle cx="271.1" cy="414.6" r="7"/>
<circle cx="752.2" cy="279.1" r="7"/>
<circle cx="896.0" cy="630.3" r="7"/>
<circle cx="496.7" cy="221.4" r="7"/>
<circle cx="529.6" cy="555.3" r="7"/>
<circle cx="590.2" cy="449.7" r="7"/>
<circle cx="635.8" cy="735.4" r="7"/>
<circle cx="517.3" cy="248.1" r="7"/>
<circle cx="542.8" cy="907.4" r="7"/>
<circle cx="337.0" cy="294.8" r="7"/>
<circle cx="628.9" cy="861.1" r="7"/>
<circle cx="813.9" cy="421.6" r="7"/>
<circle cx="247.0" cy="305.0" r="7"/>
<circle cx="640.6" cy="531.5" r="7"/>
<circle cx="604.7" cy="463.8" r="7"/>
<circle cx="680.3" cy="987.1" r="7"/>
<circle cx="902.5" cy="620.4" r="7"/>
<circle cx="918.9" cy="884.4" r="7"/>
<circle cx="536.9" cy="577.1" r="7"/>
<circle cx="707.4" cy="1061.3" r="7"/>
<circle cx="770.7" cy="757.5" r="7"/>
<circle cx="625.3" cy="863.4" r="7"/>
<circle cx="353.0" cy="804.5" r="7"/>
<circle cx="827.3" cy="724.0" r="7"/>
<circle cx="624.1" cy="682.5" r="7"/>
<circle cx="565.9" cy="312.5" r="7"/>
<circle cx="655.0" cy="567.0" r="7"/>
<circle cx="262.2" cy="364.4" r="7"/>
<circle cx="476.9" cy="236.6" r="7"/>
<circle cx="345.7" cy="322.7" r="7"/>
<circle cx="765.0" cy="994.0" r="7"/>
<circle cx="813.0" cy="619.7" r="7"/>
<circle cx="540.8" cy="277.3" r="7"/>
<circle cx="543.4" cy="1045.7" r="7"/>
<circle cx="699.8" cy="744.4" r="7"/>
<circle cx="335.0" cy="925.0" r="7"/>
<circle cx="236.0" cy="320.0" r="7"/>
<circle cx="347.5" cy="527.1" r="7"/>
<circle cx="293.8" cy="337.1" r="7"/>
<circle cx="322.4" cy="438.8" r="7"/>
<circle cx="558.5" cy="545.9" r="7"/>
<circle cx="580.1" cy="796.1" r="7"/>
<circle cx="511.8" cy="494.9" r="7"/>
<circle cx="255.0" cy="319.0" r="7"/>
<circle cx="663.8" cy="1057.2" r="7"/>
<circle cx="610.0" cy="617.0" r="7"/>
<circle cx="966.9" cy="828.8" r="7"/>
<circle cx="759.5" cy="255.9" r="7"/>
<circle cx="618.2" cy="548.0" r="7"/>
<circle cx="668.0" cy="740.7" r="7"/>
<circle cx="498.0" cy="280.5" r="7"/>
<circle cx="646.3" cy="747.9" r="7"/>
<circle cx="461.4" cy="723.6" r="7"/>
<circle cx="557.7" cy="245.7" r="7"/>
<circle cx="838.9" cy="691.8" r="7"/>
<circle cx="237.0" cy="412.0" r="7"/>
<circle cx="292.0" cy="331.8" r="7"/>
<circle cx="705.0" cy="360.0" r="7"/>
<circle cx="517.4" cy="888.3" r="7"/>
<circle cx="567.7" cy="932.5" r="7"/>
<circle cx="579.7" cy="1018.5" r="7"/>
<circle cx="838.5" cy="721.5" r="7"/>
<circle cx="441.8" cy="398.7" r="7"/>
<circle cx="504.8" cy="248.3" r="7"/>
<circle cx="447.1" cy="393.1" r="7"/>
<circle cx="529.2" cy="997.4" r="7"/>
<circle cx="892.9" cy="673.4" r="7"/>
<circle cx="579.1" cy="892.9" r="7"/>
<circle cx="487.3" cy="899.6" r="7"/>
<circle cx="251.0" cy="409.0" r="7"/>
<circle cx="937.7" cy="631.9" r="7"/>
<circle cx="770.8" cy="915.3" r="7"/>
<circle cx="476.7" cy="309.1" r="7"/>
<circle cx="787.9" cy="740.2" r="7"/>
<circle cx="594.9" cy="458.1" r="7"/>
<circle cx="679.8" cy="763.9" r="7"/>
<circle cx="386.2" cy="473.6" r="7"/>
<circle cx="535.7" cy="775.1" r="7"/>
<circle cx="360.6" cy="248.3" r="7"/>
<circle cx="569.1" cy="550.3" r="7"/>
<circle cx="341.9" cy="400.5" r="7"/>
<circle cx="520.6" cy="282.4" r="7"/>
<circle cx="482.7" cy="323.0" r="7"/>
<circle cx="620.0" cy="387.0" r="7"/>
<circle cx="631.3" cy="219.2" r="7"/>
<circle cx="479.3" cy="233.3" r="7"/>
<circle cx="336.1" cy="344.5" r="7"/>
<circle cx="575.5" cy="253.6" r="7"/>
<circle cx="883.6" cy="620.1" r="7"/>
<circle cx="650.0" cy="404.0" r="7"/>
<circle cx="321.4" cy="535.1" r="7"/>
<circle cx="931.6" cy="829.9" r="7"/>
<circle cx="598.9" cy="1043.1" r="7"/>
<circle cx="888.2" cy="818.3" r="7"/>
<circle cx="736.8" cy="833.2" r="7"/>
<circle cx="888.7" cy="595.0" r="7"/>
<circle cx="475.4" cy="302.2" r="7"/>
<circle cx="601.8" cy="835.3" r="7"/>
<circle cx="499.4" cy="905.3" r="7"/>
<circle cx="664.7" cy="831.0" r="7"/>
<circle cx="646.4" cy="1039.9" r="7"/>
<circle cx="358.3" cy="793.7" r="7"/>
<circle cx="662.2" cy="478.8" r="7"/>
<circle cx="634.0" cy="1034.4" r="7"/>
<circle cx="821.0" cy="842.3" r="7"/>
<circle cx="327.7" cy="806.1" r="7"/>
<circle cx="898.2" cy="688.3" r="7"/>
<circle cx="578.4" cy="302.3" r="7"/>
<circle cx="579.6" cy="748.7" r="7"/>
<circle cx="331.1" cy="449.7" r="7"/>
<circle cx="365.0" cy="518.6" r="7"/>
<circle cx="884.7" cy="869.6" r="7"/>
<circle cx="500.6" cy="284.2" r="7"/>
<circle cx="587.0" cy="880.4" r="7"/>
<circle cx="500.0" cy="440.0" r="7"/>
<circle cx="571.0" cy="951.5" r="7"/>
<circle cx="735.6" cy="713.1" r="7"/>
<circle cx="640.3" cy="240.0" r="7"/>
<circle cx="496.1" cy="918.5" r="7"/>
<circle cx="481.5" cy="261.3" r="7"/>
<circle cx="794.2" cy="753.8" r="7"/>
<circle cx="505.6" cy="749.4" r="7"/>
<circle cx="617.9" cy="954.9" r="7"/>
<circle cx="876.9" cy="894.5" r="7"/>
<circle cx="593.5" cy="741.5" r="7"/>
<circle cx="372.3" cy="732.4" r="7"/>
<circle cx="540.8" cy="502.2" r="7"/>
<circle cx="951.0" cy="390.0" r="7"/>
<circle cx="437.4" cy="370.3" r="7"/>
<circle cx="915.8" cy="932.0" r="7"/>
<circle cx="499.6" cy="321.6" r="7"/>
<circle cx="665.3" cy="306.8" r="7"/>
<circle cx="979.6" cy="820.7" r="7"/>
<circle cx="601.3" cy="233.0" r="7"/>
<circle cx="384.6" cy="487.4" r="7"/>
<circle cx="826.1" cy="632.7" r="7"/>
<circle cx="882.5" cy="604.6" r="7"/>
<circle cx="723.4" cy="784.9" r="7"/>
<circle cx="612.3" cy="482.1" r="7"/>
<circle cx="598.8" cy="869.7" r="7"/>
<circle cx="819.9" cy="698.2" r="7"/>
<circle cx="386.7" cy="736.0" r="7"/>
<circle cx="232.2" cy="411.8" r="7"/>
<circle cx="404.5" cy="794.3" r="7"/>
<circle cx="658.4" cy="814.3" r="7"/>
<circle cx="486.5" cy="938.1" r="7"/>
<circle cx="577.8" cy="986.8" r="7"/>
<circle cx="614.6" cy="535.0" r="7"/>
<circle cx="756.8" cy="763.4" r="7"/>
<circle cx="514.1" cy="915.9" r="7"/>
<circle cx="825.8" cy="827.6" r="7"/>
<circle cx="813.5" cy="613.8" r="7"/>
<circle cx="555.9" cy="212.3" r="7"/>
<circle cx="411.6" cy="298.0" r="7"/>
<circle cx="395.2" cy="323.0" r="7"/>
<circle cx="616.8" cy="686.9" r="7"/>
<circle cx="448.9" cy="383.4" r="7"/>
<circle cx="503.3" cy="228.8" r="7"/>
<circle cx="312.8" cy="405.8" r="7"/>
<circle cx="623.5" cy="858.6" r="7"/>
<circle cx="559.0" cy="435.7" r="7"/>
<circle cx="596.1" cy="1049.6" r="7"/>
<circle cx="247.7" cy="302.6" r="7"/>
<circle cx="797.5" cy="944.1" r="7"/>
<circle cx="378.9" cy="530.9" r="7"/>
<circle cx="604.7" cy="441.0" r="7"/>
<circle cx="910.1" cy="935.2" r="7"/>
<circle cx="565.7" cy="246.0" r="7"/>
<circle cx="510.1" cy="471.9" r="7"/>
<circle cx="552.7" cy="474.7" r="7"/>
<circle cx="979.3" cy="664.5" r="7"/>
<circle cx="512.3" cy="223.9" r="7"/>
<circle cx="666.5" cy="1015.8" r="7"/>
<circle cx="489.1" cy="982.0" r="7"/>
<circle cx="314.3" cy="534.1" r="7"/>
<circle cx="627.5" cy="539.1" r="7"/>
<circle cx="399.0" cy="308.8" r="7"/>
<circle cx="885.2" cy="667.3" r="7"/>
<circle cx="773.0" cy="891.0" r="7"/>
<circle cx="500.5" cy="265.7" r="7"/>
<circle cx="619.4" cy="215.5" r="7"/>
<circle cx="691.2" cy="743.8" r="7"/>
<circle cx="454.4" cy="245.7" r="7"/>
<circle cx="632.0" cy="894.0" r="7"/>
<circle cx="641.8" cy="762.2" r="7"/>
<circle cx="721.7" cy="726.3" r="7"/>
<circle cx="360.1" cy="333.0" r="7"/>
<circle cx="354.3" cy="243.7" r="7"/>
<circle cx="654.8" cy="681.4" r="7"/>
<circle cx="557.6" cy="874.9" r="7"/>
<circle cx="641.9" cy="487.5" r="7"/>
<circle cx="715.0" cy="831.8" r="7"/>
<circle cx="865.5" cy="943.6" r="7"/>
<circle cx="643.6" cy="290.2" r="7"/>
<circle cx="425.7" cy="278.9" r="7"/>
<circle cx="611.0" cy="751.3" r="7"/>
<circle cx="552.3" cy="245.1" r="7"/>
<circle cx="559.9" cy="425.9" r="7"/>
<circle cx="565.0" cy="1013.4" r="7"/>
<circle cx="752.4" cy="846.9" r="7"/>
<circle cx="417.0" cy="536.3" r="7"/>
<circle cx="645.3" cy="829.6" r="7"/>
<circle cx="790.9" cy="897.8" r="7"/>
<circle cx="1022.1" cy="796.1" r="7"/>
<circle cx="636.3" cy="1016.9" r="7"/>
<circle cx="514.1" cy="750.9" r="7"/>
<circle cx="355.7" cy="315.2" r="7"/>
<circle cx="719.7" cy="320.5" r="7"/>
<circle cx="424.7" cy="241.5" r="7"/>
<circle cx="685.0" cy="952.0" r="7"/>
<circle cx="510.2" cy="295.6" r="7"/>
<circle cx="664.6" cy="979.5" r="7"/>
<circle cx="557.3" cy="558.9" r="7"/>
<circle cx="430.1" cy="268.7" r="7"/>
<circle cx="819.7" cy="704.2" r="7"/>
<circle cx="738.1" cy="510.6" r="7"/>
<circle cx="524.2" cy="360.6" r="7"/>
<circle cx="352.4" cy="812.5" r="7"/>
<circle cx="666.6" cy="791.9" r="7"/>
<circle cx="804.1" cy="971.0" r="7"/>
<circle cx="331.6" cy="559.5" r="7"/>
<circle cx="554.9" cy="510.2" r="7"/>
<circle cx="719.2" cy="872.6" r="7"/>
<circle cx="1023.1" cy="784.4" r="7"/>
<circle cx="793.1" cy="970.7" r="7"/>
<circle cx="613.7" cy="250.4" r="7"/>
<circle cx="623.8" cy="1006.7" r="7"/>
<circle cx="754.7" cy="886.8" r="7"/>
<circle cx="581.9" cy="803.3" r="7"/>
<circle cx="679.2" cy="882.6" r="7"/>
<circle cx="949.0" cy="646.9" r="7"/>
<circle cx="1023.2" cy="791.6" r="7"/>
<circle cx="902.9" cy="827.6" r="7"/>
<circle cx="649.1" cy="1075.5" r="7"/>
<circle cx="395.1" cy="257.5" r="7"/>
<circle cx="755.8" cy="751.2" r="7"/>
<circle cx="413.6" cy="783.8" r="7"/>
<circle cx="709.7" cy="293.3" r="7"/>
<circle cx="689.8" cy="859.1" r="7"/>
<circle cx="285.7" cy="466.8" r="7"/>
<circle cx="818.9" cy="623.4" r="7"/>
<circle cx="510.5" cy="260.2" r="7"/>
<circle cx="278.3" cy="312.4" r="7"/>
<circle cx="540.4" cy="793.7" r="7"/>
<circle cx="521.3" cy="754.5" r="7"/>
<circle cx="541.2" cy="918.5" r="7"/>
<circle cx="1061.0" cy="332.0" r="7"/>
<circle cx="515.6" cy="330.9" r="7"/>
<circle cx="629.0" cy="410.0" r="7"/>
<circle cx="869.6" cy="880.8" r="7"/>
<circle cx="221.6" cy="401.8" r="7"/>
<circle cx="680.4" cy="995.8" r="7"/>
<circle cx="552.1" cy="914.2" r="7"/>
<circle cx="752.4" cy="534.9" r="7"/>
<circle cx="602.0" cy="268.7" r="7"/>
<circle cx="775.0" cy="674.0" r="7"/>
<circle cx="569.2" cy="817.7" r="7"/>
<circle cx="330.8" cy="425.7" r="7"/>
<circle cx="430.4" cy="833.3" r="7"/>
<circle cx="700.1" cy="1058.1" r="7"/>
<circle cx="706.8" cy="461.2" r="7"/>
<circle cx="747.4" cy="554.9" r="7"/>
<circle cx="607.6" cy="226.7" r="7"/>
<circle cx="617.8" cy="437.9" r="7"/>
<circle cx="451.4" cy="860.4" r="7"/>
<circle cx="664.5" cy="895.8" r="7"/>
<circle cx="552.2" cy="808.8" r="7"/>
<circle cx="756.7" cy="743.6" r="7"/>
<circle cx="369.4" cy="440.4" r="7"/>
<circle cx="345.3" cy="262.4" r="7"/>
<circle cx="981.0" cy="852.1" r="7"/>
<circle cx="648.9" cy="799.2" r="7"/>
<circle cx="604.2" cy="281.8" r="7"/>
<circle cx="495.0" cy="930.4" r="7"/>
<circle cx="650.0" cy="910.0" r="7"/>
<circle cx="594.0" cy="418.9" r="7"/>
<circle cx="343.1" cy="445.6" r="7"/>
<circle cx="770.1" cy="456.0" r="7"/>
<circle cx="395.0" cy="828.3" r="7"/>
<circle cx="654.9" cy="787.7" r="7"/>
<circle cx="570.7" cy="502.0" r="7"/>
<circle cx="761.8" cy="287.1" r="7"/>
<circle cx="578.9" cy="879.2" r="7"/>
<circle cx="319.7" cy="286.0" r="7"/>
<circle cx="684.9" cy="257.6" r="7"/>
<circle cx="378.8" cy="819.5" r="7"/>
<circle cx="414.8" cy="815.8" r="7"/>
<circle cx="707.0" cy="474.8" r="7"/>
<circle cx="741.0" cy="559.0" r="7"/>
<circle cx="277.9" cy="342.9" r="7"/>
<circle cx="691.2" cy="1029.3" r="7"/>
<circle cx="504.6" cy="368.1" r="7"/>
<circle cx="992.0" cy="291.0" r="7"/>
<circle cx="1040.0" cy="492.0" r="7"/>
<circle cx="730.2" cy="911.4" r="7"/>
<circle cx="606.7" cy="721.6" r="7"/>
<circle cx="699.5" cy="826.1" r="7"/>
<circle cx="742.6" cy="276.8" r="7"/>
<circle cx="335.4" cy="524.5" r="7"/>
<circle cx="508.4" cy="452.8" r="7"/>
<circle cx="510.8" cy="250.1" r="7"/>
<circle cx="382.2" cy="747.2" r="7"/>
<circle cx="749.8" cy="797.2" r="7"/>
<circle cx="567.3" cy="425.3" r="7"/>
<circle cx="917.8" cy="796.1" r="7"/>
<circle cx="663.4" cy="498.5" r="7"/>
<circle cx="588.2" cy="893.5" r="7"/>
<circle cx="815.7" cy="310.7" r="7"/>
<circle cx="372.1" cy="345.2" r="7"/>
<circle cx="571.9" cy="968.5" r="7"/>
<circle cx="604.2" cy="1076.4" r="7"/>
<circle cx="825.9" cy="812.0" r="7"/>
<circle cx="547.4" cy="488.1" r="7"/>
<circle cx="437.6" cy="237.8" r="7"/>
<circle cx="899.5" cy="656.8" r="7"/>
<circle cx="430.2" cy="302.3" r="7"/>
<circle cx="763.3" cy="254.4" r="7"/>
<circle cx="713.0" cy="720.5" r="7"/>
<circle cx="877.6" cy="573.9" r="7"/>
<circle cx="622.7" cy="885.4" r="7"/>
<circle cx="562.0" cy="407.0" r="7"/>
<circle cx="534.4" cy="292.1" r="7"/>
<circle cx="827.7" cy="834.1" r="7"/>
<circle cx="587.6" cy="1072.7" r="7"/>
<circle cx="968.4" cy="851.5" r="7"/>
<circle cx="685.3" cy="1007.6" r="7"/>
<circle cx="678.9" cy="237.3" r="7"/>
<circle cx="426.7" cy="400.7" r="7"/>
<circle cx="991.2" cy="792.3" r="7"/>
<circle cx="558.9" cy="863.9" r="7"/>
<circle cx="662.5" cy="947.3" r="7"/>
<circle cx="584.9" cy="472.4" r="7"/>
<circle cx="893.9" cy="606.2" r="7"/>
<circle cx="575.9" cy="475.4" r="7"/>
<circle cx="578.7" cy="1058.9" r="7"/>
<circle cx="659.1" cy="514.5" r="7"/>
<circle cx="518.0" cy="380.0" r="7"/>
<circle cx="524.7" cy="524.6" r="7"/>
<circle cx="516.2" cy="207.8" r="7"/>
<circle cx="908.1" cy="811.4" r="7"/>
<circle cx="273.2" cy="339.5" r="7"/>
<circle cx="580.6" cy="484.3" r="7"/>
<circle cx="718.8" cy="296.2" r="7"/>
<circle cx="556.7" cy="962.1" r="7"/>
<circle cx="655.8" cy="997.1" r="7"/>
<circle cx="802.0" cy="825.6" r="7"/>
<circle cx="933.4" cy="881.3" r="7"/>
<circle cx="632.7" cy="992.5" r="7"/>
<circle cx="539.6" cy="443.4" r="7"/>
<circle cx="554.5" cy="238.9" r="7"/>
<circle cx="546.8" cy="334.6" r="7"/>
<circle cx="557.0" cy="704.0" r="7"/>
<circle cx="903.0" cy="526.0" r="7"/>
<circle cx="577.3" cy="527.9" r="7"/>
<circle cx="677.0" cy="365.0" r="7"/>
<circle cx="932.0" cy="798.7" r="7"/>
<circle cx="784.7" cy="727.9" r="7"/>
<circle cx="746.0" cy="237.7" r="7"/>
<circle cx="747.9" cy="1019.7" r="7"/>
<circle cx="776.9" cy="302.7" r="7"/>
<circle cx="556.6" cy="444.0" r="7"/>
<circle cx="610.4" cy="1014.2" r="7"/>
<circle cx="925.6" cy="639.7" r="7"/>
<circle cx="374.2" cy="436.0" r="7"/>
<circle cx="343.4" cy="256.5" r="7"/>
<circle cx="696.3" cy="1065.4" r="7"/>
<circle cx="496.9" cy="302.6" r="7"/>
<circle cx="748.3" cy="250.2" r="7"/>
<circle cx="272.0" cy="330.0" r="7"/>
<circle cx="426.6" cy="825.3" r="7"/>
<circle cx="345.3" cy="553.6" r="7"/>
<circle cx="763.8" cy="723.0" r="7"/>
<circle cx="364.0" cy="727.8" r="7"/>
<circle cx="626.4" cy="957.9" r="7"/>
<circle cx="603.0" cy="714.9" r="7"/>
<circle cx="331.8" cy="396.6" r="7"/>
<circle cx="527.2" cy="783.8" r="7"/>
<circle cx="432.5" cy="344.1" r="7"/>
<circle cx="347.1" cy="467.3" r="7"/>
<circle cx="860.0" cy="394.0" r="7"/>
<circle cx="662.0" cy="835.5" r="7"/>
<circle cx="321.7" cy="334.2" r="7"/>
<circle cx="765.0" cy="490.0" r="7"/>
<circle cx="356.1" cy="577.7" r="7"/>
<circle cx="406.3" cy="340.6" r="7"/>
<circle cx="352.9" cy="348.8" r="7"/>
<circle cx="621.6" cy="288.8" r="7"/>
<circle cx="564.0" cy="397.8" r="7"/>
<circle cx="317.0" cy="559.5" r="7"/>
<circle cx="746.9" cy="860.1" r="7"/>
<circle cx="514.1" cy="1005.5" r="7"/>
<circle cx="570.2" cy="997.3" r="7"/>
<circle cx="569.8" cy="514.0" r="7"/>
<circle cx="705.2" cy="259.8" r="7"/>
<circle cx="378.7" cy="438.4" r="7"/>
<circle cx="1004.1" cy="829.4" r="7"/>
<circle cx="783.1" cy="318.9" r="7"/>
<circle cx="419.0" cy="932.0" r="7"/>
<circle cx="217.0" cy="457.0" r="7"/>
<circle cx="320.0" cy="917.0" r="7"/>
<circle cx="353.1" cy="509.2" r="7"/>
<circle cx="693.7" cy="838.6" r="7"/>
<circle cx="960.6" cy="873.6" r="7"/>
<circle cx="395.1" cy="423.5" r="7"/>
<circle cx="742.8" cy="642.7" r="7"/>
<circle cx="389.0" cy="435.9" r="7"/>
<circle cx="752.9" cy="631.9" r="7"/>
<circle cx="436.1" cy="330.1" r="7"/>
<circle cx="578.5" cy="736.7" r="7"/>
<circle cx="478.4" cy="397.1" r="7"/>
<circle cx="254.7" cy="331.5" r="7"/>
<circle cx="738.7" cy="292.6" r="7"/>
<circle cx="720.1" cy="835.6" r="7"/>
<circle cx="689.9" cy="1062.7" r="7"/>
<circle cx="379.0" cy="266.9" r="7"/>
<circle cx="649.0" cy="264.8" r="7"/>
<circle cx="764.2" cy="475.1" r="7"/>
<circle cx="537.2" cy="488.3" r="7"/>
<circle cx="389.1" cy="842.9" r="7"/>
<circle cx="528.3" cy="494.9" r="7"/>
<circle cx="598.0" cy="1030.3" r="7"/>
<circle cx="551.5" cy="907.6" r="7"/>
<circle cx="739.5" cy="656.9" r="7"/>
<circle cx="647.3" cy="937.4" r="7"/>
<circle cx="632.0" cy="791.6" r="7"/>
<circle cx="869.9" cy="617.4" r="7"/>
<circle cx="454.2" cy="744.1" r="7"/>
<circle cx="538.1" cy="571.1" r="7"/>
<circle cx="486.7" cy="379.2" r="7"/>
<circle cx="323.5" cy="388.5" r="7"/>
<circle cx="553.0" cy="832.6" r="7"/>
<circle cx="933.0" cy="395.0" r="7"/>
<circle cx="537.6" cy="1015.1" r="7"/>
<circle cx="496.3" cy="982.6" r="7"/>
<circle cx="322.8" cy="511.1" r="7"/>
<circle cx="308.1" cy="483.9" r="7"/>
<circle cx="695.0" cy="580.0" r="7"/>
<circle cx="438.3" cy="845.2" r="7"/>
<circle cx="335.1" cy="825.5" r="7"/>
<circle cx="936.4" cy="914.8" r="7"/>
<circle cx="658.6" cy="980.6" r="7"/>
<circle cx="330.9" cy="335.1" r="7"/>
<circle cx="582.9" cy="489.8" r="7"/>
<circle cx="493.5" cy="974.6" r="7"/>
<circle cx="402.8" cy="284.2" r="7"/>
<circle cx="543.0" cy="205.6" r="7"/>
<circle cx="750.9" cy="707.4" r="7"/>
<circle cx="335.6" cy="433.5" r="7"/>
<circle cx="375.4" cy="830.1" r="7"/>
<circle cx="769.3" cy="305.8" r="7"/>
<circle cx="675.8" cy="709.1" r="7"/>
<circle cx="832.7" cy="814.1" r="7"/>
<circle cx="673.0" cy="202.5" r="7"/>
<circle cx="500.4" cy="247.5" r="7"/>
<circle cx="680.4" cy="455.6" r="7"/>
<circle cx="385.7" cy="835.7" r="7"/>
<circle cx="746.9" cy="440.2" r="7"/>
<circle cx="666.9" cy="1030.6" r="7"/>
<circle cx="583.5" cy="983.5" r="7"/>
<circle cx="667.0" cy="375.0" r="7"/>
<circle cx="851.5" cy="861.0" r="7"/>
<circle cx="443.9" cy="291.9" r="7"/>
<circle cx="672.6" cy="774.9" r="7"/>
<circle cx="625.3" cy="831.2" r="7"/>
<circle cx="682.7" cy="663.8" r="7"/>
<circle cx="468.4" cy="344.2" r="7"/>
<circle cx="762.8" cy="521.8" r="7"/>
<circle cx="367.9" cy="368.9" r="7"/>
<circle cx="682.0" cy="557.0" r="7"/>
<circle cx="779.2" cy="953.4" r="7"/>
<circle cx="494.2" cy="217.7" r="7"/>
<circle cx="768.4" cy="508.2" r="7"/>
<circle cx="617.6" cy="889.7" r="7"/>
<circle cx="683.9" cy="265.3" r="7"/>
<circle cx="880.4" cy="924.2" r="7"/>
<circle cx="399.8" cy="464.3" r="7"/>
<circle cx="308.1" cy="348.8" r="7"/>
<circle cx="741.6" cy="835.6" r="7"/>
<circle cx="385.9" cy="272.3" r="7"/>
<circle cx="721.5" cy="276.5" r="7"/>
<circle cx="425.9" cy="796.6" r="7"/>
<circle cx="716.8" cy="289.2" r="7"/>
<circle cx="571.2" cy="568.3" r="7"/>
<circle cx="387.9" cy="383.9" r="7"/>
<circle cx="639.2" cy="801.6" r="7"/>
<circle cx="529.0" cy="1017.2" r="7"/>
<circle cx="577.8" cy="516.3" r="7"/>
<circle cx="592.3" cy="507.6" r="7"/>
<circle cx="773.1" cy="541.7" r="7"/>
<circle cx="291.0" cy="489.9" r="7"/>
<circle cx="547.7" cy="961.9" r="7"/>
<circle cx="394.8" cy="315.7" r="7"/>
<circle cx="695.1" cy="756.1" r="7"/>
<circle cx="928.7" cy="592.6" r="7"/>
<circle cx="849.4" cy="902.4" r="7"/>
<circle cx="308.3" cy="445.3" r="7"/>
<circle cx="472.0" cy="895.0" r="7"/>
<circle cx="529.7" cy="268.8" r="7"/>
<circle cx="404.7" cy="392.4" r="7"/>
<circle cx="886.0" cy="834.1" r="7"/>
<circle cx="583.5" cy="533.0" r="7"/>
<circle cx="245.7" cy="399.5" r="7"/>
<circle cx="540.3" cy="284.3" r="7"/>
<circle cx="721.5" cy="257.2" r="7"/>
<circle cx="573.1" cy="846.4" r="7"/>
<circle cx="750.2" cy="527.5" r="7"/>
<circle cx="607.7" cy="834.7" r="7"/>
<circle cx="938.4" cy="644.3" r="7"/>
<circle cx="885.9" cy="608.0" r="7"/>
<circle cx="918.9" cy="810.1" r="7"/>
<circle cx="895.1" cy="869.6" r="7"/>
<circle cx="784.0" cy="314.3" r="7"/>
<circle cx="975.0" cy="335.0" r="7"/>
<circle cx="383.6" cy="341.6" r="7"/>
<circle cx="491.7" cy="285.8" r="7"/>
<circle cx="865.7" cy="639.0" r="7"/>
<circle cx="856.5" cy="723.3" r="7"/>
<circle cx="945.1" cy="662.2" r="7"/>
<circle cx="788.0" cy="850.2" r="7"/>
<circle cx="552.0" cy="525.6" r="7"/>
<circle cx="860.5" cy="916.5" r="7"/>
<circle cx="620.0" cy="501.7" r="7"/>
<circle cx="547.8" cy="939.0" r="7"/>
<circle cx="868.4" cy="830.6" r="7"/>
<circle cx="523.3" cy="947.1" r="7"/>
<circle cx="287.7" cy="328.3" r="7"/>
<circle cx="478.0" cy="724.1" r="7"/>
<circle cx="576.4" cy="897.7" r="7"/>
<circle cx="401.5" cy="546.5" r="7"/>
<circle cx="422.3" cy="365.1" r="7"/>
<circle cx="380.1" cy="355.1" r="7"/>
<circle cx="620.1" cy="453.3" r="7"/>
<circle cx="646.6" cy="738.2" r="7"/>
<circle cx="815.1" cy="847.0" r="7"/>
<circle cx="950.1" cy="632.7" r="7"/>
<circle cx="724.3" cy="863.8" r="7"/>
<circle cx="309.5" cy="307.4" r="7"/>
<circle cx="774.8" cy="438.0" r="7"/>
<circle cx="468.1" cy="337.6" r="7"/>
<circle cx="732.6" cy="431.6" r="7"/>
<circle cx="295.7" cy="375.9" r="7"/>
<circle cx="326.8" cy="441.4" r="7"/>
<circle cx="451.8" cy="394.2" r="7"/>
<circle cx="869.3" cy="842.4" r="7"/>
<circle cx="735.0" cy="494.9" r="7"/>
<circle cx="495.1" cy="269.6" r="7"/>
<circle cx="465.0" cy="850.0" r="7"/>
<circle cx="589.7" cy="1038.0" r="7"/>
<circle cx="643.2" cy="965.0" r="7"/>
<circle cx="737.0" cy="255.9" r="7"/>
<circle cx="452.0" cy="435.0" r="7"/>
<circle cx="572.9" cy="883.3" r="7"/>
<circle cx="770.5" cy="749.4" r="7"/>
<circle cx="637.8" cy="729.7" r="7"/>
<circle cx="649.4" cy="1048.0" r="7"/>
<circle cx="501.1" cy="944.8" r="7"/>
<circle cx="670.3" cy="799.8" r="7"/>
<circle cx="547.2" cy="532.5" r="7"/>
<circle cx="686.7" cy="668.4" r="7"/>
<circle cx="958.0" cy="635.8" r="7"/>
<circle cx="590.2" cy="920.8" r="7"/>
<circle cx="718.7" cy="1027.7" r="7"/>
<circle cx="578.0" cy="422.4" r="7"/>
<circle cx="910.4" cy="769.2" r="7"/>
<circle cx="1012.0" cy="429.0" r="7"/>
<circle cx="495.4" cy="740.3" r="7"/>
<circle cx="828.3" cy="330.0" r="7"/>
<circle cx="803.1" cy="291.4" r="7"/>
<circle cx="628.8" cy="786.0" r="7"/>
<circle cx="501.0" cy="775.0" r="7"/>
<circle cx="503.4" cy="952.4" r="7"/>
<circle cx="965.1" cy="574.7" r="7"/>
<circle cx="439.2" cy="320.1" r="7"/>
<circle cx="331.3" cy="413.5" r="7"/>
<circle cx="578.9" cy="462.0" r="7"/>
<circle cx="796.4" cy="759.5" r="7"/>
<circle cx="365.2" cy="832.5" r="7"/>
<circle cx="685.0" cy="350.0" r="7"/>
<circle cx="518.8" cy="977.2" r="7"/>
<circle cx="569.6" cy="411.6" r="7"/>
<circle cx="690.0" cy="1068.9" r="7"/>
<circle cx="903.7" cy="884.4" r="7"/>
<circle cx="920.1" cy="632.4" r="7"/>
<circle cx="857.4" cy="527.0" r="7"/>
<circle cx="474.6" cy="380.5" r="7"/>
<circle cx="702.1" cy="835.8" r="7"/>
<circle cx="726.3" cy="1028.3" r="7"/>
<circle cx="722.2" cy="426.2" r="7"/>
<circle cx="540.2" cy="565.1" r="7"/>
<circle cx="1050.0" cy="287.0" r="7"/>
<circle cx="355.2" cy="262.9" r="7"/>
<circle cx="625.2" cy="881.2" r="7"/>
<circle cx="618.3" cy="857.2" r="7"/>
<circle cx="696.1" cy="1054.6" r="7"/>
<circle cx="497.1" cy="308.1" r="7"/>
<circle cx="820.8" cy="315.2" r="7"/>
<circle cx="685.2" cy="658.6" r="7"/>
<circle cx="1004.5" cy="791.1" r="7"/>
<circle cx="365.8" cy="397.7" r="7"/>
<circle cx="837.1" cy="902.7" r="7"/>
<circle cx="940.5" cy="661.5" r="7"/>
<circle cx="398.9" cy="277.7" r="7"/>
<circle cx="479.0" cy="288.6" r="7"/>
<circle cx="584.8" cy="944.9" r="7"/>
<circle cx="499.4" cy="469.4" r="7"/>
<circle cx="618.0" cy="814.8" r="7"/>
<circle cx="573.6" cy="414.4" r="7"/>
<circle cx="732.0" cy="986.0" r="7"/>
<circle cx="848.7" cy="556.9" r="7"/>
<circle cx="313.3" cy="416.1" r="7"/>
<circle cx="631.2" cy="725.5" r="7"/>
<circle cx="592.0" cy="314.7" r="7"/>
<circle cx="329.9" cy="420.0" r="7"/>
<circle cx="491.7" cy="970.5" r="7"/>
<circle cx="288.9" cy="469.4" r="7"/>
<circle cx="417.9" cy="544.6" r="7"/>
<circle cx="381.1" cy="765.4" r="7"/>
<circle cx="812.0" cy="965.0" r="7"/>
<circle cx="505.5" cy="341.3" r="7"/>
<circle cx="382.7" cy="480.9" r="7"/>
<circle cx="617.5" cy="704.7" r="7"/>
<circle cx="598.0" cy="849.5" r="7"/>
<circle cx="571.1" cy="809.5" r="7"/>
<circle cx="382.0" cy="788.1" r="7"/>
<circle cx="942.6" cy="680.3" r="7"/>
<circle cx="609.6" cy="973.2" r="7"/>
<circle cx="730.6" cy="634.1" r="7"/>
<circle cx="505.2" cy="945.0" r="7"/>
<circle cx="613.6" cy="1068.9" r="7"/>
<circle cx="640.1" cy="300.1" r="7"/>
<circle cx="688.6" cy="759.6" r="7"/>
<circle cx="496.8" cy="355.0" r="7"/>
<circle cx="655.2" cy="993.1" r="7"/>
<circle cx="590.9" cy="525.2" r="7"/>
<circle cx="818.9" cy="715.6" r="7"/>
<circle cx="954.6" cy="862.6" r="7"/>
<circle cx="905.7" cy="657.4" r="7"/>
<circle cx="889.7" cy="638.4" r="7"/>
<circle cx="423.6" cy="252.3" r="7"/>
<circle cx="778.7" cy="867.8" r="7"/>
<circle cx="860.6" cy="883.2" r="7"/>
<circle cx="538.0" cy="412.0" r="7"/>
<circle cx="361.4" cy="723.2" r="7"/>
<circle cx="474.0" cy="362.1" r="7"/>
<circle cx="889.6" cy="808.3" r="7"/>
<circle cx="651.2" cy="1026.4" r="7"/>
<circle cx="640.0" cy="908.0" r="7"/>
<circle cx="660.2" cy="681.3" r="7"/>
<circle cx="495.5" cy="385.7" r="7"/>
<circle cx="485.8" cy="383.2" r="7"/>
<circle cx="545.7" cy="310.5" r="7"/>
<circle cx="351.9" cy="329.5" r="7"/>
<circle cx="689.0" cy="887.3" r="7"/>
<circle cx="290.2" cy="425.5" r="7"/>
<circle cx="534.4" cy="1012.1" r="7"/>
<circle cx="699.3" cy="1028.9" r="7"/>
<circle cx="856.6" cy="556.9" r="7"/>
<circle cx="741.5" cy="496.8" r="7"/>
<circle cx="757.0" cy="891.5" r="7"/>
<circle cx="343.6" cy="827.8" r="7"/>
<circle cx="647.2" cy="804.9" r="7"/>
<circle cx="632.9" cy="1053.5" r="7"/>
<circle cx="612.9" cy="988.7" r="7"/>
<circle cx="339.8" cy="506.3" r="7"/>
<circle cx="808.0" cy="339.4" r="7"/>
<circle cx="468.4" cy="267.1" r="7"/>
<circle cx="971.0" cy="494.0" r="7"/>
<circle cx="632.9" cy="1009.2" r="7"/>
<circle cx="882.9" cy="942.5" r="7"/>
<circle cx="311.5" cy="359.6" r="7"/>
<circle cx="484.0" cy="391.9" r="7"/>
<circle cx="702.6" cy="786.9" r="7"/>
<circle cx="583.0" cy="780.9" r="7"/>
<circle cx="613.8" cy="298.0" r="7"/>
<circle cx="510.9" cy="1009.3" r="7"/>
<circle cx="585.2" cy="855.4" r="7"/>
<circle cx="664.0" cy="919.0" r="7"/>
<circle cx="897.5" cy="942.2" r="7"/>
<circle cx="608.7" cy="854.6" r="7"/>
<circle cx="537.8" cy="937.9" r="7"/>
<circle cx="554.5" cy="939.4" r="7"/>
<circle cx="454.5" cy="334.4" r="7"/>
<circle cx="393.8" cy="478.0" r="7"/>
<circle cx="799.9" cy="284.7" r="7"/>
<circle cx="539.1" cy="860.0" r="7"/>
<circle cx="223.0" cy="416.2" r="7"/>
<circle cx="808.0" cy="311.4" r="7"/>
<circle cx="671.8" cy="671.7" r="7"/>
<circle cx="302.4" cy="452.1" r="7"/>
<circle cx="361.3" cy="742.7" r="7"/>
<circle cx="419.8" cy="278.3" r="7"/>
<circle cx="460.2" cy="373.0" r="7"/>
<circle cx="621.7" cy="497.4" r="7"/>
<circle cx="426.1" cy="302.2" r="7"/>
<circle cx="700.0" cy="342.0" r="7"/>
<circle cx="779.2" cy="771.7" r="7"/>
<circle cx="608.7" cy="849.6" r="7"/>
<circle cx="912.6" cy="635.8" r="7"/>
<circle cx="559.5" cy="291.0" r="7"/>
<circle cx="754.5" cy="809.2" r="7"/>
<circle cx="440.9" cy="268.0" r="7"/>
<circle cx="795.6" cy="849.0" r="7"/>
<circle cx="443.6" cy="716.4" r="7"/>
<circle cx="608.0" cy="725.9" r="7"/>
<circle cx="679.5" cy="322.6" r="7"/>
<circle cx="985.0" cy="412.0" r="7"/>
<circle cx="902.2" cy="939.8" r="7"/>
<circle cx="484.0" cy="919.0" r="7"/>
<circle cx="391.1" cy="824.7" r="7"/>
<circle cx="904.4" cy="891.8" r="7"/>
<circle cx="333.6" cy="553.4" r="7"/>
<circle cx="718.1" cy="778.3" r="7"/>
<circle cx="702.1" cy="286.8" r="7"/>
<circle cx="990.4" cy="824.1" r="7"/>
<circle cx="491.5" cy="231.9" r="7"/>
<circle cx="458.0" cy="391.8" r="7"/>
<circle cx="329.9" cy="789.9" r="7"/>
<circle cx="675.1" cy="272.3" r="7"/>
<circle cx="552.0" cy="515.2" r="7"/>
<circle cx="666.2" cy="883.0" r="7"/>
<circle cx="958.7" cy="802.5" r="7"/>
<circle cx="554.5" cy="552.8" r="7"/>
<circle cx="395.2" cy="809.2" r="7"/>
<circle cx="487.0" cy="373.3" r="7"/>
<circle cx="830.8" cy="445.1" r="7"/>
<circle cx="285.0" cy="425.9" r="7"/>
<circle cx="810.2" cy="749.9" r="7"/>
<circle cx="474.3" cy="229.9" r="7"/>
<circle cx="605.1" cy="697.8" r="7"/>
<circle cx="524.4" cy="481.6" r="7"/>
<circle cx="605.8" cy="824.6" r="7"/>
<circle cx="595.1" cy="1003.5" r="7"/>
<circle cx="498.4" cy="999.4" r="7"/>
<circle cx="350.0" cy="341.6" r="7"/>
<circle cx="500.0" cy="490.0" r="7"/>
<circle cx="650.0" cy="956.4" r="7"/>
<circle cx="327.3" cy="427.6" r="7"/>
<circle cx="283.5" cy="408.4" r="7"/>
<circle cx="529.9" cy="867.6" r="7"/>
<circle cx="904.6" cy="672.2" r="7"/>
<circle cx="330.4" cy="495.4" r="7"/>
<circle cx="295.0" cy="300.8" r="7"/>
<circle cx="331.6" cy="564.0" r="7"/>
<circle cx="334.6" cy="317.1" r="7"/>
<circle cx="435.2" cy="741.8" r="7"/>
<circle cx="832.1" cy="619.9" r="7"/>
<circle cx="601.9" cy="975.2" r="7"/>
<circle cx="851.1" cy="609.6" r="7"/>
<circle cx="729.1" cy="794.1" r="7"/>
<circle cx="917.7" cy="859.4" r="7"/>
<circle cx="1030.9" cy="803.3" r="7"/>
<circle cx="622.1" cy="226.3" r="7"/>
<circle cx="998.7" cy="791.4" r="7"/>
<circle cx="638.0" cy="960.7" r="7"/>
<circle cx="827.5" cy="578.2" r="7"/>
<circle cx="856.6" cy="567.5" r="7"/>
<circle cx="431.2" cy="738.4" r="7"/>
<circle cx="595.3" cy="734.5" r="7"/>
<circle cx="642.3" cy="263.2" r="7"/>
<circle cx="633.3" cy="797.3" r="7"/>
<circle cx="255.3" cy="417.1" r="7"/>
<circle cx="566.0" cy="238.1" r="7"/>
<circle cx="855.4" cy="902.2" r="7"/>
<circle cx="854.0" cy="543.0" r="7"/>
<circle cx="564.1" cy="509.5" r="7"/>
<circle cx="671.9" cy="982.9" r="7"/>
<circle cx="686.0" cy="975.3" r="7"/>
<circle cx="665.0" cy="844.2" r="7"/>
<circle cx="722.3" cy="888.8" r="7"/>
<circle cx="707.0" cy="220.0" r="7"/>
<circle cx="591.5" cy="486.6" r="7"/>
<circle cx="763.8" cy="259.6" r="7"/>
<circle cx="510.7" cy="377.7" r="7"/>
<circle cx="409.4" cy="429.7" r="7"/>
<circle cx="603.2" cy="290.9" r="7"/>
<circle cx="240.7" cy="342.3" r="7"/>
<circle cx="251.8" cy="319.6" r="7"/>
<circle cx="537.2" cy="366.0" r="7"/>
<circle cx="664.5" cy="751.7" r="7"/>
<circle cx="551.8" cy="950.2" r="7"/>
<circle cx="571.9" cy="780.9" r="7"/>
<circle cx="516.3" cy="911.6" r="7"/>
<circle cx="579.8" cy="943.9" r="7"/>
<circle cx="572.0" cy="352.0" r="7"/>
<circle cx="355.7" cy="400.0" r="7"/>
<circle cx="792.7" cy="726.8" r="7"/>
<circle cx="739.2" cy="537.7" r="7"/>
<circle cx="1006.0" cy="276.0" r="7"/>
<circle cx="799.9" cy="827.1" r="7"/>
<circle cx="509.8" cy="371.6" r="7"/>
<circle cx="468.3" cy="725.4" r="7"/>
<circle cx="389.8" cy="487.0" r="7"/>
<circle cx="976.1" cy="656.1" r="7"/>
<circle cx="732.0" cy="1019.4" r="7"/>
<circle cx="431.4" cy="844.6" r="7"/>
<circle cx="674.0" cy="248.1" r="7"/>
<circle cx="387.3" cy="549.2" r="7"/>
<circle cx="390.6" cy="731.7" r="7"/>
<circle cx="649.5" cy="710.8" r="7"/>
<circle cx="789.1" cy="970.8" r="7"/>
<circle cx="409.6" cy="549.2" r="7"/>
<circle cx="609.7" cy="958.7" r="7"/>
<circle cx="676.2" cy="696.1" r="7"/>
<circle cx="655.2" cy="522.3" r="7"/>
<circle cx="368.1" cy="528.6" r="7"/>
<circle cx="750.9" cy="239.3" r="7"/>
<circle cx="668.4" cy="237.0" r="7"/>
<circle cx="854.9" cy="938.4" r="7"/>
<circle cx="670.3" cy="968.8" r="7"/>
<circle cx="794.5" cy="937.5" r="7"/>
<circle cx="807.0" cy="941.2" r="7"/>
<circle cx="589.0" cy="1025.7" r="7"/>
<circle cx="514.9" cy="997.8" r="7"/>
<circle cx="606.5" cy="274.4" r="7"/>
<circle cx="610.7" cy="314.0" r="7"/>
<circle cx="720.7" cy="742.5" r="7"/>
<circle cx="587.6" cy="805.0" r="7"/>
<circle cx="611.8" cy="926.1" r="7"/>
<circle cx="780.0" cy="1007.0" r="7"/>
<circle cx="397.9" cy="751.2" r="7"/>
<circle cx="750.5" cy="462.8" r="7"/>
<circle cx="379.0" cy="432.7" r="7"/>
<circle cx="376.6" cy="318.5" r="7"/>
<circle cx="664.4" cy="941.2" r="7"/>
<circle cx="558.6" cy="550.4" r="7"/>
<circle cx="499.2" cy="951.5" r="7"/>
<circle cx="911.3" cy="899.0" r="7"/>
<circle cx="360.3" cy="568.5" r="7"/>
<circle cx="830.8" cy="900.9" r="7"/>
<circle cx="596.6" cy="399.4" r="7"/>
<circle cx="494.9" cy="325.1" r="7"/>
<circle cx="695.0" cy="398.0" r="7"/>
<circle cx="509.0" cy="844.0" r="7"/>
<circle cx="567.9" cy="1035.9" r="7"/>
<circle cx="890.6" cy="848.7" r="7"/>
<circle cx="683.0" cy="347.0" r="7"/>
<circle cx="674.6" cy="749.6" r="7"/>
<circle cx="701.9" cy="1031.9" r="7"/>
<circle cx="625.5" cy="1014.8" r="7"/>
<circle cx="551.8" cy="297.0" r="7"/>
<circle cx="790.0" cy="656.0" r="7"/>
<circle cx="723.9" cy="625.0" r="7"/>
<circle cx="895.7" cy="650.0" r="7"/>
<circle cx="547.5" cy="269.6" r="7"/>
<circle cx="836.0" cy="474.0" r="7"/>
<circle cx="441.8" cy="299.4" r="7"/>
<circle cx="522.5" cy="326.0" r="7"/>
<circle cx="961.9" cy="674.9" r="7"/>
<circle cx="743.1" cy="545.8" r="7"/>
<circle cx="663.0" cy="918.0" r="7"/>
<circle cx="461.5" cy="256.6" r="7"/>
<circle cx="528.1" cy="533.1" r="7"/>
<circle cx="347.3" cy="509.5" r="7"/>
<circle cx="387.7" cy="417.4" r="7"/>
<circle cx="700.0" cy="915.0" r="7"/>
<circle cx="764.2" cy="728.2" r="7"/>
<circle cx="812.6" cy="314.5" r="7"/>
<circle cx="495.0" cy="412.0" r="7"/>
<circle cx="953.4" cy="869.2" r="7"/>
<circle cx="946.7" cy="895.1" r="7"/>
<circle cx="728.6" cy="768.4" r="7"/>
<circle cx="608.6" cy="435.4" r="7"/>
<circle cx="648.3" cy="931.6" r="7"/>
<circle cx="220.0" cy="343.0" r="7"/>
<circle cx="520.3" cy="309.5" r="7"/>
<circle cx="915.5" cy="803.0" r="7"/>
<circle cx="531.2" cy="253.7" r="7"/>
<circle cx="812.3" cy="805.4" r="7"/>
<circle cx="718.7" cy="279.5" r="7"/>
<circle cx="424.8" cy="284.1" r="7"/>
<circle cx="729.0" cy="678.0" r="7"/>
<circle cx="648.4" cy="971.9" r="7"/>
<circle cx="656.6" cy="507.7" r="7"/>
<circle cx="295.1" cy="499.0" r="7"/>
<circle cx="861.0" cy="521.0" r="7"/>
<circle cx="359.7" cy="315.2" r="7"/>
<circle cx="643.4" cy="849.3" r="7"/>
<circle cx="1069.0" cy="330.0" r="7"/>
<circle cx="676.4" cy="1001.4" r="7"/>
<circle cx="600.3" cy="311.7" r="7"/>
<circle cx="790.1" cy="813.2" r="7"/>
<circle cx="689.0" cy="631.0" r="7"/>
<circle cx="835.0" cy="790.0" r="7"/>
<circle cx="327.3" cy="412.3" r="7"/>
<circle cx="931.9" cy="588.5" r="7"/>
<circle cx="361.1" cy="764.6" r="7"/>
<circle cx="774.5" cy="863.2" r="7"/>
<circle cx="542.8" cy="256.1" r="7"/>
<circle cx="951.6" cy="658.0" r="7"/>
<circle cx="651.1" cy="1011.5" r="7"/>
<circle cx="387.4" cy="339.3" r="7"/>
<circle cx="674.9" cy="254.5" r="7"/>
<circle cx="770.5" cy="771.8" r="7"/>
<circle cx="937.3" cy="683.1" r="7"/>
<circle cx="537.9" cy="1038.0" r="7"/>
<circle cx="759.3" cy="419.7" r="7"/>
<circle cx="698.4" cy="264.4" r="7"/>
<circle cx="406.9" cy="364.7" r="7"/>
<circle cx="576.8" cy="491.9" r="7"/>
<circle cx="336.0" cy="541.5" r="7"/>
<circle cx="496.9" cy="994.1" r="7"/>
<circle cx="568.5" cy="770.6" r="7"/>
<circle cx="664.0" cy="649.0" r="7"/>
<circle cx="298.3" cy="428.2" r="7"/>
<circle cx="435.5" cy="243.5" r="7"/>
<circle cx="698.3" cy="250.1" r="7"/>
<circle cx="748.3" cy="696.5" r="7"/>
<circle cx="628.4" cy="1063.6" r="7"/>
<circle cx="640.5" cy="218.2" r="7"/>
<circle cx="208.9" cy="382.2" r="7"/>
<circle cx="330.7" cy="343.0" r="7"/>
<circle cx="504.0" cy="302.2" r="7"/>
<circle cx="391.7" cy="239.8" r="7"/>
<circle cx="834.0" cy="525.0" r="7"/>
<circle cx="655.2" cy="944.2" r="7"/>
<circle cx="565.9" cy="951.0" r="7"/>
<circle cx="480.8" cy="720.2" r="7"/>
<circle cx="709.6" cy="723.4" r="7"/>
<circle cx="370.0" cy="948.0" r="7"/>
<circle cx="296.0" cy="920.0" r="7"/>
<circle cx="667.0" cy="1000.3" r="7"/>
<circle cx="923.6" cy="874.0" r="7"/>
<circle cx="453.5" cy="390.2" r="7"/>
<circle cx="669.9" cy="1005.7" r="7"/>
<circle cx="938.5" cy="578.6" r="7"/>
<circle cx="774.3" cy="509.0" r="7"/>
<circle cx="323.1" cy="411.1" r="7"/>
<circle cx="506.5" cy="761.9" r="7"/>
<circle cx="850.3" cy="892.1" r="7"/>
<circle cx="809.9" cy="328.7" r="7"/>
<circle cx="548.7" cy="434.6" r="7"/>
<circle cx="436.3" cy="870.0" r="7"/>
<circle cx="806.9" cy="315.7" r="7"/>
<circle cx="732.6" cy="1051.1" r="7"/>
<circle cx="565.1" cy="997.4" r="7"/>
<circle cx="682.7" cy="894.9" r="7"/>
<circle cx="539.3" cy="839.9" r="7"/>
<circle cx="600.7" cy="914.9" r="7"/>
<circle cx="634.9" cy="472.0" r="7"/>
<circle cx="431.3" cy="864.9" r="7"/>
<circle cx="522.4" cy="531.7" r="7"/>
<circle cx="336.8" cy="387.0" r="7"/>
<circle cx="724.7" cy="649.6" r="7"/>
<circle cx="806.6" cy="331.8" r="7"/>
<circle cx="374.8" cy="328.4" r="7"/>
<circle cx="601.8" cy="482.0" r="7"/>
<circle cx="602.7" cy="933.0" r="7"/>
<circle cx="412.4" cy="386.3" r="7"/>
<circle cx="771.3" cy="811.9" r="7"/>
<circle cx="531.9" cy="899.3" r="7"/>
<circle cx="355.4" cy="376.3" r="7"/>
<circle cx="337.9" cy="792.1" r="7"/>
<circle cx="662.3" cy="784.2" r="7"/>
<circle cx="388.6" cy="789.5" r="7"/>
<circle cx="522.7" cy="290.5" r="7"/>
<circle cx="774.2" cy="280.3" r="7"/>
<circle cx="605.0" cy="504.2" r="7"/>
<circle cx="618.3" cy="690.7" r="7"/>
<circle cx="504.8" cy="899.0" r="7"/>
<circle cx="627.2" cy="249.7" r="7"/>
<circle cx="387.2" cy="775.7" r="7"/>
<circle cx="362.4" cy="455.0" r="7"/>
<circle cx="622.8" cy="276.0" r="7"/>
<circle cx="667.0" cy="435.0" r="7"/>
<circle cx="645.4" cy="869.7" r="7"/>
<circle cx="611.8" cy="214.5" r="7"/>
<circle cx="758.1" cy="721.7" r="7"/>
<circle cx="653.0" cy="847.0" r="7"/>
<circle cx="890.0" cy="488.0" r="7"/>
<circle cx="1014.5" cy="814.2" r="7"/>
<circle cx="508.5" cy="302.7" r="7"/>
<circle cx="807.3" cy="461.8" r="7"/>
<circle cx="900.3" cy="837.8" r="7"/>
<circle cx="927.4" cy="832.3" r="7"/>
<circle cx="838.1" cy="832.6" r="7"/>
<circle cx="391.8" cy="407.3" r="7"/>
<circle cx="525.6" cy="1032.7" r="7"/>
<circle cx="310.3" cy="426.5" r="7"/>
<circle cx="512.0" cy="862.0" r="7"/>
<circle cx="315.5" cy="516.5" r="7"/>
<circle cx="834.3" cy="887.4" r="7"/>
<circle cx="477.0" cy="984.0" r="7"/>
<circle cx="314.0" cy="447.4" r="7"/>
<circle cx="909.8" cy="659.7" r="7"/>
<circle cx="1067.0" cy="404.0" r="7"/>
<circle cx="774.8" cy="263.3" r="7"/>
<circle cx="526.2" cy="308.6" r="7"/>
<circle cx="530.4" cy="884.7" r="7"/>
<circle cx="743.7" cy="507.1" r="7"/>
<circle cx="827.8" cy="883.8" r="7"/>
<circle cx="901.2" cy="802.6" r="7"/>
<circle cx="409.6" cy="404.4" r="7"/>
<circle cx="851.6" cy="527.5" r="7"/>
<circle cx="552.3" cy="405.0" r="7"/>
<circle cx="732.0" cy="639.5" r="7"/>
<circle cx="517.2" cy="468.0" r="7"/>
<circle cx="511.3" cy="527.2" r="7"/>
<circle cx="589.9" cy="438.8" r="7"/>
<circle cx="583.0" cy="570.0" r="7"/>
<circle cx="496.5" cy="498.6" r="7"/>
<circle cx="390.9" cy="293.1" r="7"/>
<circle cx="622.6" cy="991.5" r="7"/>
<circle cx="560.7" cy="512.4" r="7"/>
<circle cx="643.5" cy="469.0" r="7"/>
<circle cx="683.4" cy="1056.7" r="7"/>
<circle cx="815.1" cy="346.4" r="7"/>
<circle cx="779.1" cy="503.9" r="7"/>
<circle cx="450.3" cy="715.3" r="7"/>
<circle cx="544.6" cy="305.3" r="7"/>
<circle cx="718.1" cy="746.9" r="7"/>
<circle cx="566.9" cy="1063.3" r="7"/>
<circle cx="842.0" cy="779.0" r="7"/>
<circle cx="645.2" cy="757.8" r="7"/>
<circle cx="285.1" cy="421.5" r="7"/>
<circle cx="345.8" cy="311.0" r="7"/>
<circle cx="974.0" cy="841.7" r="7"/>
<circle cx="364.1" cy="493.8" r="7"/>
<circle cx="710.6" cy="758.2" r="7"/>
<circle cx="532.1" cy="932.1" r="7"/>
<circle cx="333.7" cy="497.8" r="7"/>
<circle cx="357.2" cy="530.1" r="7"/>
<circle cx="561.3" cy="919.1" r="7"/>
<circle cx="951.0" cy="390.0" r="7"/>
<circle cx="400.9" cy="551.5" r="7"/>
<circle cx="343.5" cy="455.1" r="7"/>
<circle cx="718.8" cy="765.6" r="7"/>
<circle cx="221.4" cy="379.7" r="7"/>
<circle cx="530.1" cy="217.8" r="7"/>
<circle cx="595.4" cy="846.2" r="7"/>
<circle cx="861.4" cy="569.9" r="7"/>
<circle cx="875.2" cy="569.1" r="7"/>
<circle cx="576.3" cy="232.2" r="7"/>
<circle cx="777.0" cy="659.0" r="7"/>
<circle cx="660.7" cy="503.0" r="7"/>
<circle cx="710.0" cy="342.0" r="7"/>
<circle cx="397.1" cy="544.2" r="7"/>
<circle cx="295.0" cy="915.0" r="7"/>
<circle cx="803.1" cy="697.8" r="7"/>
<circle cx="557.3" cy="957.7" r="7"/>
<circle cx="748.9" cy="288.5" r="7"/>
<circle cx="305.9" cy="393.1" r="7"/>
<circle cx="753.9" cy="294.5" r="7"/>
<circle cx="296.1" cy="326.2" r="7"/>
<circle cx="588.0" cy="908.3" r="7"/>
<circle cx="747.2" cy="776.0" r="7"/>
<circle cx="848.0" cy="929.2" r="7"/>
<circle cx="399.8" cy="452.3" r="7"/>
<circle cx="626.6" cy="553.5" r="7"/>
<circle cx="397.8" cy="717.4" r="7"/>
<circle cx="522.2" cy="932.4" r="7"/>
<circle cx="620.7" cy="731.0" r="7"/>
<circle cx="560.2" cy="804.9" r="7"/>
<circle cx="375.5" cy="465.9" r="7"/>
<circle cx="651.3" cy="469.8" r="7"/>
<circle cx="505.2" cy="756.2" r="7"/>
<circle cx="941.0" cy="400.0" r="7"/>
<circle cx="751.8" cy="262.0" r="7"/>
<circle cx="556.4" cy="1005.1" r="7"/>
<circle cx="521.9" cy="918.3" r="7"/>
<circle cx="359.3" cy="412.2" r="7"/>
<circle cx="836.0" cy="360.0" r="7"/>
<circle cx="912.3" cy="852.1" r="7"/>
<circle cx="335.0" cy="392.6" r="7"/>
<circle cx="419.4" cy="242.9" r="7"/>
<circle cx="310.2" cy="332.9" r="7"/>
<circle cx="588.6" cy="784.5" r="7"/>
<circle cx="612.6" cy="556.3" r="7"/>
<circle cx="912.1" cy="671.2" r="7"/>
<circle cx="420.9" cy="840.6" r="7"/>
<circle cx="509.1" cy="356.9" r="7"/>
<circle cx="513.8" cy="944.3" r="7"/>
<circle cx="795.7" cy="976.4" r="7"/>
<circle cx="557.0" cy="704.0" r="7"/>
<circle cx="373.3" cy="281.4" r="7"/>
<circle cx="593.6" cy="708.4" r="7"/>
<circle cx="1005.9" cy="823.4" r="7"/>
<circle cx="422.4" cy="713.4" r="7"/>
<circle cx="651.2" cy="753.8" r="7"/>
<circle cx="451.0" cy="414.0" r="7"/>
<circle cx="630.7" cy="819.5" r="7"/>
<circle cx="761.4" cy="892.1" r="7"/>
<circle cx="942.8" cy="788.2" r="7"/>
<circle cx="340.2" cy="550.7" r="7"/>
<circle cx="327.5" cy="467.9" r="7"/>
<circle cx="709.4" cy="750.8" r="7"/>
<circle cx="746.8" cy="835.0" r="7"/>
<circle cx="807.6" cy="876.6" r="7"/>
<circle cx="633.1" cy="931.0" r="7"/>
<circle cx="766.3" cy="891.3" r="7"/>
<circle cx="640.4" cy="781.6" r="7"/>
<circle cx="638.2" cy="521.2" r="7"/>
<circle cx="910.5" cy="597.2" r="7"/>
<circle cx="907.2" cy="907.8" r="7"/>
<circle cx="609.7" cy="269.8" r="7"/>
<circle cx="710.7" cy="269.3" r="7"/>
<circle cx="750.8" cy="309.0" r="7"/>
<circle cx="558.0" cy="901.4" r="7"/>
<circle cx="472.5" cy="274.0" r="7"/>
<circle cx="749.7" cy="734.4" r="7"/>
<circle cx="356.3" cy="465.6" r="7"/>
<circle cx="514.6" cy="976.2" r="7"/>
<circle cx="461.2" cy="251.9" r="7"/>
<circle cx="782.6" cy="836.8" r="7"/>
<circle cx="656.2" cy="874.1" r="7"/>
<circle cx="868.6" cy="888.8" r="7"/>
<circle cx="923.2" cy="789.6" r="7"/>
<circle cx="387.9" cy="296.6" r="7"/>
<circle cx="849.5" cy="616.0" r="7"/>
<circle cx="528.0" cy="386.0" r="7"/>
<circle cx="894.2" cy="684.1" r="7"/>
<circle cx="372.9" cy="569.8" r="7"/>
<circle cx="827.3" cy="947.5" r="7"/>
<circle cx="942.7" cy="804.5" r="7"/>
<circle cx="813.5" cy="740.0" r="7"/>
<circle cx="397.8" cy="339.3" r="7"/>
<circle cx="634.5" cy="781.9" r="7"/>
<circle cx="811.6" cy="954.2" r="7"/>
<circle cx="572.3" cy="792.4" r="7"/>
<circle cx="601.9" cy="299.3" r="7"/>
<circle cx="452.0" cy="242.5" r="7"/>
<circle cx="546.1" cy="767.5" r="7"/>
<circle cx="750.0" cy="982.0" r="7"/>
<circle cx="646.2" cy="814.3" r="7"/>
<circle cx="788.4" cy="329.4" r="7"/>
<circle cx="572.4" cy="392.5" r="7"/>
<circle cx="1001.9" cy="805.7" r="7"/>
<circle cx="941.7" cy="647.3" r="7"/>
<circle cx="871.0" cy="569.3" r="7"/>
<circle cx="596.0" cy="1063.5" r="7"/>
<circle cx="347.2" cy="269.4" r="7"/>
<circle cx="537.6" cy="213.8" r="7"/>
<circle cx="365.3" cy="542.4" r="7"/>
<circle cx="499.5" cy="261.9" r="7"/>
<circle cx="749.2" cy="301.9" r="7"/>
<circle cx="367.0" cy="935.0" r="7"/>
<circle cx="627.0" cy="996.7" r="7"/>
<circle cx="761.9" cy="547.6" r="7"/>
<circle cx="840.1" cy="571.9" r="7"/>
<circle cx="306.6" cy="461.0" r="7"/>
<circle cx="822.8" cy="741.6" r="7"/>
<circle cx="741.1" cy="704.5" r="7"/>
<circle cx="404.6" cy="260.3" r="7"/>
<circle cx="577.2" cy="962.6" r="7"/>
<circle cx="273.2" cy="358.1" r="7"/>
<circle cx="883.0" cy="432.0" r="7"/>
<circle cx="542.3" cy="336.6" r="7"/>
<circle cx="799.0" cy="309.7" r="7"/>
<circle cx="698.2" cy="1044.2" r="7"/>
<circle cx="308.7" cy="434.7" r="7"/>
<circle cx="912.2" cy="905.6" r="7"/>
<circle cx="822.5" cy="612.6" r="7"/>
<circle cx="706.6" cy="628.8" r="7"/>
<circle cx="678.2" cy="1050.5" r="7"/>
<circle cx="834.8" cy="863.6" r="7"/>
<circle cx="862.0" cy="553.0" r="7"/>
<circle cx="924.2" cy="904.8" r="7"/>
<circle cx="556.0" cy="1010.4" r="7"/>
<circle cx="600.4" cy="855.5" r="7"/>
<circle cx="525.4" cy="317.8" r="7"/>
<circle cx="802.3" cy="473.1" r="7"/>
<circle cx="648.0" cy="270.6" r="7"/>
<circle cx="424.7" cy="729.4" r="7"/>
<circle cx="428.1" cy="358.5" r="7"/>
<circle cx="644.6" cy="286.0" r="7"/>
<circle cx="739.4" cy="486.7" r="7"/>
<circle cx="412.4" cy="371.5" r="7"/>
<circle cx="784.1" cy="504.8" r="7"/>
<circle cx="297.0" cy="900.0" r="7"/>
<circle cx="676.2" cy="793.7" r="7"/>
<circle cx="912.1" cy="618.4" r="7"/>
<circle cx="962.7" cy="855.4" r="7"/>
<circle cx="525.5" cy="951.7" r="7"/>
<circle cx="743.2" cy="912.7" r="7"/>
<circle cx="650.7" cy="878.9" r="7"/>
<circle cx="532.8" cy="520.5" r="7"/>
<circle cx="765.9" cy="700.7" r="7"/>
<circle cx="485.0" cy="345.6" r="7"/>
<circle cx="579.5" cy="997.8" r="7"/>
<circle cx="635.1" cy="548.2" r="7"/>
<circle cx="644.0" cy="779.4" r="7"/>
<circle cx="441.0" cy="644.0" r="7"/>
<circle cx="765.6" cy="862.0" r="7"/>
<circle cx="571.1" cy="1015.5" r="7"/>
<circle cx="535.1" cy="260.0" r="7"/>
<circle cx="844.5" cy="708.8" r="7"/>
<circle cx="421.5" cy="538.6" r="7"/>
<circle cx="357.0" cy="925.0" r="7"/>
<circle cx="462.1" cy="228.0" r="7"/>
<circle cx="706.9" cy="1017.2" r="7"/>
<circle cx="624.2" cy="699.6" r="7"/>
<circle cx="754.3" cy="699.1" r="7"/>
<circle cx="474.1" cy="385.6" r="7"/>
<circle cx="668.3" cy="785.8" r="7"/>
<circle cx="353.6" cy="481.9" r="7"/>
<circle cx="914.0" cy="526.0" r="7"/>
<circle cx="649.4" cy="210.9" r="7"/>
<circle cx="342.4" cy="440.7" r="7"/>
<circle cx="700.5" cy="240.1" r="7"/>
<circle cx="878.0" cy="908.3" r="7"/>
<circle cx="947.3" cy="905.8" r="7"/>
<circle cx="880.5" cy="821.2" r="7"/>
<circle cx="506.9" cy="909.2" r="7"/>
<circle cx="727.6" cy="663.9" r="7"/>
<circle cx="554.6" cy="436.8" r="7"/>
<circle cx="648.7" cy="817.5" r="7"/>
<circle cx="727.4" cy="322.6" r="7"/>
<circle cx="482.2" cy="706.3" r="7"/>
<circle cx="740.2" cy="635.8" r="7"/>
<circle cx="420.9" cy="803.1" r="7"/>
<circle cx="588.6" cy="483.5" r="7"/>
<circle cx="650.6" cy="1007.4" r="7"/>
<circle cx="670.7" cy="485.8" r="7"/>
<circle cx="446.9" cy="341.8" r="7"/>
<circle cx="321.9" cy="463.4" r="7"/>
<circle cx="392.7" cy="305.9" r="7"/>
<circle cx="845.5" cy="819.7" r="7"/>
<circle cx="705.5" cy="896.1" r="7"/>
<circle cx="349.8" cy="404.3" r="7"/>
<circle cx="463.0" cy="332.7" r="7"/>
<circle cx="659.9" cy="936.1" r="7"/>
<circle cx="498.8" cy="923.0" r="7"/>
<circle cx="619.3" cy="419.6" r="7"/>
<circle cx="681.6" cy="234.3" r="7"/>
<circle cx="308.7" cy="366.3" r="7"/>
<circle cx="789.2" cy="926.9" r="7"/>
<circle cx="478.9" cy="226.7" r="7"/>
<circle cx="859.9" cy="936.4" r="7"/>
<circle cx="628.7" cy="258.9" r="7"/>
<circle cx="742.2" cy="272.8" r="7"/>
<circle cx="860.1" cy="553.2" r="7"/>
<circle cx="344.5" cy="504.2" r="7"/>
<circle cx="791.5" cy="290.3" r="7"/>
<circle cx="845.0" cy="796.0" r="7"/>
<circle cx="805.4" cy="424.7" r="7"/>
<circle cx="404.1" cy="784.2" r="7"/>
<circle cx="559.7" cy="821.0" r="7"/>
<circle cx="799.9" cy="707.6" r="7"/>
<circle cx="759.9" cy="242.0" r="7"/>
<circle cx="699.2" cy="795.9" r="7"/>
<circle cx="775.5" cy="915.9" r="7"/>
<circle cx="796.9" cy="813.7" r="7"/>
<circle cx="724.4" cy="772.1" r="7"/>
<circle cx="360.9" cy="421.3" r="7"/>
<circle cx="828.8" cy="711.9" r="7"/>
<circle cx="772.4" cy="745.6" r="7"/>
<circle cx="410.6" cy="255.8" r="7"/>
<circle cx="289.8" cy="299.3" r="7"/>
<circle cx="415.2" cy="860.4" r="7"/>
<circle cx="671.2" cy="950.0" r="7"/>
<circle cx="303.5" cy="504.0" r="7"/>
<circle cx="536.2" cy="237.4" r="7"/>
<circle cx="542.2" cy="368.4" r="7"/>
<circle cx="517.6" cy="772.4" r="7"/>
<circle cx="577.0" cy="657.0" r="7"/>
<circle cx="733.8" cy="847.2" r="7"/>
<circle cx="391.1" cy="257.1" r="7"/>
<circle cx="346.6" cy="301.7" r="7"/>
<circle cx="755.8" cy="921.5" r="7"/>
<circle cx="736.2" cy="283.4" r="7"/>
<circle cx="374.5" cy="477.7" r="7"/>
<circle cx="737.3" cy="648.4" r="7"/>
<circle cx="935.0" cy="864.9" r="7"/>
<circle cx="498.3" cy="974.7" r="7"/>
<circle cx="689.5" cy="773.3" r="7"/>
<circle cx="673.4" cy="1075.7" r="7"/>
<circle cx="365.1" cy="468.6" r="7"/>
<circle cx="430.4" cy="389.5" r="7"/>
<circle cx="562.2" cy="294.6" r="7"/>
<circle cx="693.8" cy="794.2" r="7"/>
<circle cx="822.7" cy="907.2" r="7"/>
<circle cx="661.1" cy="244.2" r="7"/>
<circle cx="241.0" cy="399.0" r="7"/>
<circle cx="557.4" cy="1033.8" r="7"/>
<circle cx="702.0" cy="971.5" r="7"/>
<circle cx="301.6" cy="398.6" r="7"/>
<circle cx="956.0" cy="832.1" r="7"/>
<circle cx="769.4" cy="817.5" r="7"/>
<circle cx="462.1" cy="745.9" r="7"/>
<circle cx="915.7" cy="623.5" r="7"/>
<circle cx="280.3" cy="371.4" r="7"/>
<circle cx="624.8" cy="236.5" r="7"/>
<circle cx="533.5" cy="1022.5" r="7"/>
<circle cx="350.6" cy="572.9" r="7"/>
<circle cx="588.0" cy="871.4" r="7"/>
<circle cx="815.0" cy="837.2" r="7"/>
<circle cx="762.7" cy="502.4" r="7"/>
<circle cx="706.6" cy="468.4" r="7"/>
<circle cx="775.6" cy="790.2" r="7"/>
<circle cx="600.2" cy="1058.1" r="7"/>
<circle cx="641.3" cy="866.8" r="7"/>
<circle cx="574.1" cy="202.9" r="7"/>
<circle cx="226.0" cy="338.0" r="7"/>
<circle cx="815.9" cy="921.2" r="7"/>
<circle cx="521.0" cy="250.8" r="7"/>
<circle cx="475.3" cy="251.9" r="7"/>
<circle cx="541.2" cy="967.5" r="7"/>
<circle cx="660.2" cy="702.3" r="7"/>
<circle cx="548.7" cy="966.8" r="7"/>
<circle cx="722.0" cy="287.0" r="7"/>
<circle cx="750.3" cy="551.9" r="7"/>
<circle cx="701.0" cy="927.0" r="7"/>
<circle cx="467.5" cy="245.5" r="7"/>
<circle cx="642.1" cy="527.6" r="7"/>
<circle cx="823.4" cy="286.5" r="7"/>
<circle cx="353.6" cy="500.9" r="7"/>
<circle cx="945.6" cy="820.9" r="7"/>
<circle cx="590.2" cy="547.5" r="7"/>
<circle cx="499.2" cy="513.1" r="7"/>
<circle cx="731.2" cy="713.1" r="7"/>
<circle cx="347.9" cy="257.5" r="7"/>
<circle cx="966.0" cy="304.0" r="7"/>
<circle cx="741.0" cy="400.0" r="7"/>
<circle cx="630.9" cy="1057.1" r="7"/>
<circle cx="370.4" cy="357.6" r="7"/>
<circle cx="794.3" cy="984.0" r="7"/>
<circle cx="331.6" cy="458.9" r="7"/>
<circle cx="1007.3" cy="811.6" r="7"/>
<circle cx="780.0" cy="923.4" r="7"/>
<circle cx="343.1" cy="515.2" r="7"/>
<circle cx="559.1" cy="264.7" r="7"/>
<circle cx="496.6" cy="913.0" r="7"/>
<circle cx="324.3" cy="285.5" r="7"/>
<circle cx="335.0" cy="374.6" r="7"/>
<circle cx="629.8" cy="760.8" r="7"/>
<circle cx="606.5" cy="215.8" r="7"/>
<circle cx="479.3" cy="983.9" r="7"/>
<circle cx="577.9" cy="968.5" r="7"/>
<circle cx="786.3" cy="917.4" r="7"/>
<circle cx="375.1" cy="388.9" r="7"/>
<circle cx="417.7" cy="338.7" r="7"/>
<circle cx="703.7" cy="768.1" r="7"/>
<circle cx="612.9" cy="1056.0" r="7"/>
<circle cx="647.6" cy="967.6" r="7"/>
<circle cx="595.8" cy="532.9" r="7"/>
<circle cx="712.7" cy="1023.6" r="7"/>
<circle cx="623.8" cy="924.8" r="7"/>
<circle cx="994.2" cy="825.6" r="7"/>
<circle cx="772.4" cy="269.6" r="7"/>
<circle cx="819.6" cy="813.0" r="7"/>
<circle cx="447.8" cy="700.6" r="7"/>
<circle cx="448.3" cy="294.4" r="7"/>
<circle cx="753.0" cy="766.3" r="7"/>
<circle cx="428.9" cy="860.0" r="7"/>
<circle cx="870.7" cy="914.0" r="7"/>
<circle cx="633.8" cy="1062.7" r="7"/>
<circle cx="549.9" cy="567.6" r="7"/>
<circle cx="472.0" cy="367.2" r="7"/>
<circle cx="435.9" cy="397.8" r="7"/>
<circle cx="362.8" cy="289.9" r="7"/>
<circle cx="425.7" cy="715.9" r="7"/>
<circle cx="728.1" cy="869.4" r="7"/>
<circle cx="614.8" cy="545.4" r="7"/>
<circle cx="829.7" cy="888.4" r="7"/>
<circle cx="975.3" cy="864.5" r="7"/>
<circle cx="703.2" cy="662.1" r="7"/>
<circle cx="557.8" cy="792.2" r="7"/>
<circle cx="1009.1" cy="831.4" r="7"/>
<circle cx="774.1" cy="740.1" r="7"/>
<circle cx="348.4" cy="576.6" r="7"/>
<circle cx="783.4" cy="897.8" r="7"/>
<circle cx="766.4" cy="887.0" r="7"/>
<circle cx="466.2" cy="249.6" r="7"/>
<circle cx="408.7" cy="435.1" r="7"/>
<circle cx="298.6" cy="407.7" r="7"/>
<circle cx="330.5" cy="324.5" r="7"/>
<circle cx="364.1" cy="581.2" r="7"/>
<circle cx="624.4" cy="978.2" r="7"/>
<circle cx="818.9" cy="628.5" r="7"/>
<circle cx="499.3" cy="377.9" r="7"/>
<circle cx="290.6" cy="434.2" r="7"/>
<circle cx="696.6" cy="720.1" r="7"/>
<circle cx="574.6" cy="1060.5" r="7"/>
<circle cx="847.9" cy="923.7" r="7"/>
<circle cx="793.8" cy="278.4" r="7"/>
<circle cx="324.9" cy="569.5" r="7"/>
<circle cx="593.1" cy="259.8" r="7"/>
<circle cx="325.6" cy="490.0" r="7"/>
<circle cx="448.7" cy="236.0" r="7"/>
<circle cx="806.0" cy="731.0" r="7"/>
<circle cx="488.1" cy="733.2" r="7"/>
<circle cx="989.0" cy="414.0" r="7"/>
<circle cx="420.6" cy="233.2" r="7"/>
<circle cx="836.1" cy="614.9" r="7"/>
<circle cx="877.4" cy="600.5" r="7"/>
<circle cx="711.1" cy="1041.3" r="7"/>
<circle cx="894.9" cy="812.2" r="7"/>
<circle cx="655.3" cy="218.2" r="7"/>
<circle cx="874.8" cy="564.6" r="7"/>
<circle cx="744.3" cy="652.2" r="7"/>
<circle cx="843.2" cy="530.3" r="7"/>
<circle cx="980.0" cy="836.1" r="7"/>
<circle cx="567.3" cy="791.9" r="7"/>
<circle cx="287.0" cy="295.0" r="7"/>
<circle cx="495.0" cy="687.0" r="7"/>
<circle cx="671.7" cy="1063.8" r="7"/>
<circle cx="601.9" cy="215.2" r="7"/>
<circle cx="317.9" cy="342.4" r="7"/>
<circle cx="494.4" cy="694.4" r="7"/>
<circle cx="652.3" cy="323.6" r="7"/>
<circle cx="779.6" cy="265.0" r="7"/>
<circle cx="993.1" cy="818.5" r="7"/>
<circle cx="635.2" cy="974.1" r="7"/>
<circle cx="556.7" cy="1044.2" r="7"/>
<circle cx="943.3" cy="581.0" r="7"/>
<circle cx="885.8" cy="863.3" r="7"/>
<circle cx="722.9" cy="631.2" r="7"/>
<circle cx="869.0" cy="656.2" r="7"/>
<circle cx="963.3" cy="651.8" r="7"/>
<circle cx="350.4" cy="558.2" r="7"/>
<circle cx="600.3" cy="1016.2" r="7"/>
<circle cx="749.2" cy="431.7" r="7"/>
<circle cx="684.9" cy="843.4" r="7"/>
<circle cx="326.6" cy="515.9" r="7"/>
<circle cx="399.4" cy="857.7" r="7"/>
<circle cx="378.4" cy="795.5" r="7"/>
<circle cx="503.8" cy="960.6" r="7"/>
<circle cx="701.9" cy="997.6" r="7"/>
<circle cx="715.8" cy="443.6" r="7"/>
<circle cx="496.4" cy="491.1" r="7"/>
<circle cx="859.3" cy="944.2" r="7"/>
<circle cx="750.5" cy="648.7" r="7"/>
<circle cx="730.0" cy="314.2" r="7"/>
<circle cx="521.4" cy="502.1" r="7"/>
<circle cx="281.0" cy="459.0" r="7"/>
<circle cx="291.3" cy="371.2" r="7"/>
<circle cx="437.2" cy="325.3" r="7"/>
<circle cx="787.3" cy="895.0" r="7"/>
<circle cx="574.1" cy="426.2" r="7"/>
<circle cx="967.2" cy="779.3" r="7"/>
<circle cx="788.3" cy="910.3" r="7"/>
<circle cx="777.6" cy="531.7" r="7"/>
<circle cx="571.0" cy="211.8" r="7"/>
<circle cx="305.0" cy="469.7" r="7"/>
<circle cx="379.7" cy="411.7" r="7"/>
<circle cx="531.1" cy="282.9" r="7"/>
<circle cx="314.1" cy="371.7" r="7"/>
<circle cx="334.5" cy="545.8" r="7"/>
<circle cx="684.9" cy="1072.3" r="7"/>
<circle cx="546.5" cy="275.6" r="7"/>
<circle cx="700.9" cy="701.9" r="7"/>
<circle cx="374.6" cy="807.5" r="7"/>
<circle cx="516.5" cy="966.5" r="7"/>
<circle cx="392.6" cy="552.4" r="7"/>
<circle cx="581.0" cy="959.9" r="7"/>
<circle cx="782.1" cy="529.4" r="7"/>
<circle cx="764.3" cy="718.2" r="7"/>
<circle cx="851.2" cy="721.7" r="7"/>
<circle cx="613.2" cy="219.5" r="7"/>
<circle cx="491.6" cy="746.5" r="7"/>
<circle cx="737.0" cy="377.0" r="7"/>
<circle cx="399.1" cy="357.3" r="7"/>
<circle cx="529.4" cy="241.0" r="7"/>
<circle cx="415.8" cy="271.7" r="7"/>
<circle cx="523.6" cy="342.7" r="7"/>
<circle cx="739.1" cy="1025.2" r="7"/>
<circle cx="810.7" cy="852.6" r="7"/>
<circle cx="844.4" cy="838.6" r="7"/>
<circle cx="803.4" cy="417.4" r="7"/>
<circle cx="832.9" cy="944.7" r="7"/>
<circle cx="495.0" cy="412.0" r="7"/>
<circle cx="793.6" cy="835.7" r="7"/>
<circle cx="606.6" cy="496.9" r="7"/>
<circle cx="875.8" cy="647.9" r="7"/>
<circle cx="516.1" cy="228.3" r="7"/>
<circle cx="644.4" cy="819.9" r="7"/>
<circle cx="791.9" cy="301.6" r="7"/>
<circle cx="519.2" cy="1026.6" r="7"/>
<circle cx="800.5" cy="751.6" r="7"/>
<circle cx="512.6" cy="475.9" r="7"/>
<circle cx="704.8" cy="231.6" r="7"/>
<circle cx="632.3" cy="312.6" r="7"/>
<circle cx="929.7" cy="641.9" r="7"/>
<circle cx="667.0" cy="380.0" r="7"/>
<circle cx="1005.0" cy="327.0" r="7"/>
<circle cx="860.6" cy="869.3" r="7"/>
<circle cx="910.6" cy="608.9" r="7"/>
<circle cx="335.4" cy="450.0" r="7"/>
<circle cx="600.7" cy="548.0" r="7"/>
<circle cx="380.0" cy="330.6" r="7"/>
<circle cx="590.0" cy="352.0" r="7"/>
<circle cx="841.4" cy="843.1" r="7"/>
<circle cx="425.4" cy="371.5" r="7"/>
<circle cx="357.0" cy="534.7" r="7"/>
<circle cx="757.8" cy="901.6" r="7"/>
<circle cx="555.1" cy="996.4" r="7"/>
<circle cx="547.1" cy="1024.5" r="7"/>
<circle cx="605.7" cy="1027.2" r="7"/>
<circle cx="779.3" cy="459.2" r="7"/>
<circle cx="583.5" cy="411.7" r="7"/>
<circle cx="689.9" cy="677.1" r="7"/>
<circle cx="626.7" cy="805.6" r="7"/>
<circle cx="769.8" cy="896.4" r="7"/>
<circle cx="986.5" cy="787.1" r="7"/>
<circle cx="814.6" cy="282.1" r="7"/>
<circle cx="552.3" cy="861.9" r="7"/>
<circle cx="668.9" cy="684.3" r="7"/>
<circle cx="318.5" cy="458.2" r="7"/>
<circle cx="299.6" cy="368.4" r="7"/>
<circle cx="625.5" cy="729.4" r="7"/>
<circle cx="750.7" cy="858.9" r="7"/>
<circle cx="963.4" cy="670.8" r="7"/>
<circle cx="410.0" cy="352.5" r="7"/>
<circle cx="577.0" cy="371.0" r="7"/>
<circle cx="339.6" cy="369.2" r="7"/>
<circle cx="686.9" cy="876.5" r="7"/>
<circle cx="670.0" cy="806.2" r="7"/>
<circle cx="605.3" cy="476.1" r="7"/>
<circle cx="771.1" cy="486.9" r="7"/>
<circle cx="769.5" cy="794.7" r="7"/>
<circle cx="273.9" cy="373.3" r="7"/>
<circle cx="509.0" cy="638.0" r="7"/>
<circle cx="591.2" cy="1020.7" r="7"/>
<circle cx="466.2" cy="326.5" r="7"/>
<circle cx="605.7" cy="561.5" r="7"/>
<circle cx="841.2" cy="730.9" r="7"/>
<circle cx="602.6" cy="467.6" r="7"/>
<circle cx="471.3" cy="233.6" r="7"/>
<circle cx="339.7" cy="283.3" r="7"/>
<circle cx="227.9" cy="314.9" r="7"/>
<circle cx="640.2" cy="539.0" r="7"/>
<circle cx="923.0" cy="679.7" r="7"/>
<circle cx="581.8" cy="324.5" r="7"/>
<circle cx="323.2" cy="459.2" r="7"/>
<circle cx="953.2" cy="636.2" r="7"/>
<circle cx="225.0" cy="340.0" r="7"/>
<circle cx="947.8" cy="654.0" r="7"/>
<circle cx="502.2" cy="908.6" r="7"/>
<circle cx="878.0" cy="487.0" r="7"/>
<circle cx="746.3" cy="257.1" r="7"/>
<circle cx="363.6" cy="756.3" r="7"/>
<circle cx="545.6" cy="450.8" r="7"/>
<circle cx="637.5" cy="464.0" r="7"/>
<circle cx="220.0" cy="460.0" r="7"/>
<circle cx="929.2" cy="677.6" r="7"/>
<circle cx="307.7" cy="399.5" r="7"/>
<circle cx="469.2" cy="706.1" r="7"/>
<circle cx="979.8" cy="795.1" r="7"/>
<circle cx="877.1" cy="613.2" r="7"/>
<circle cx="532.6" cy="247.5" r="7"/>
<circle cx="315.9" cy="368.0" r="7"/>
<circle cx="664.0" cy="649.0" r="7"/>
<circle cx="666.0" cy="730.8" r="7"/>
<circle cx="682.2" cy="856.5" r="7"/>
<circle cx="315.6" cy="510.5" r="7"/>
<circle cx="890.8" cy="927.9" r="7"/>
<circle cx="502.0" cy="425.0" r="7"/>
<circle cx="742.5" cy="788.0" r="7"/>
<circle cx="356.2" cy="284.1" r="7"/>
<circle cx="917.6" cy="653.0" r="7"/>
<circle cx="955.5" cy="896.8" r="7"/>
<circle cx="478.6" cy="339.5" r="7"/>
<circle cx="405.9" cy="765.4" r="7"/>
<circle cx="662.6" cy="250.7" r="7"/>
<circle cx="659.9" cy="1055.0" r="7"/>
<circle cx="389.4" cy="811.7" r="7"/>
<circle cx="659.9" cy="790.5" r="7"/>
<circle cx="969.2" cy="803.3" r="7"/>
<circle cx="619.4" cy="716.5" r="7"/>
<circle cx="951.3" cy="808.0" r="7"/>
<circle cx="396.5" cy="538.7" r="7"/>
<circle cx="978.0" cy="858.3" r="7"/>
<circle cx="672.0" cy="961.9" r="7"/>
<circle cx="259.0" cy="322.9" r="7"/>
<circle cx="432.0" cy="447.0" r="7"/>
<circle cx="637.0" cy="923.5" r="7"/>
<circle cx="622.4" cy="314.2" r="7"/>
<circle cx="576.2" cy="458.4" r="7"/>
<circle cx="383.7" cy="522.2" r="7"/>
<circle cx="362.2" cy="357.8" r="7"/>
<circle cx="267.4" cy="391.0" r="7"/>
<circle cx="556.4" cy="928.8" r="7"/>
<circle cx="933.3" cy="634.4" r="7"/>
<circle cx="704.7" cy="310.0" r="7"/>
<circle cx="609.9" cy="919.5" r="7"/>
<circle cx="243.0" cy="327.2" r="7"/>
<circle cx="972.0" cy="750.0" r="7"/>
<circle cx="598.0" cy="252.6" r="7"/>
<circle cx="897.4" cy="936.0" r="7"/>
<circle cx="832.6" cy="785.2" r="7"/>
<circle cx="415.5" cy="287.1" r="7"/>
<circle cx="832.7" cy="634.8" r="7"/>
<circle cx="791.1" cy="832.4" r="7"/>
<circle cx="557.9" cy="400.4" r="7"/>
<circle cx="560.0" cy="702.0" r="7"/>
<circle cx="323.1" cy="297.6" r="7"/>
<circle cx="813.9" cy="707.4" r="7"/>
<circle cx="539.3" cy="555.5" r="7"/>
<circle cx="505.0" cy="465.0" r="7"/>
<circle cx="576.0" cy="207.3" r="7"/>
<circle cx="672.1" cy="699.1" r="7"/>
<circle cx="394.2" cy="352.2" r="7"/>
<circle cx="851.0" cy="504.0" r="7"/>
<circle cx="877.3" cy="663.0" r="7"/>
<circle cx="637.5" cy="527.5" r="7"/>
<circle cx="527.1" cy="351.9" r="7"/>
<circle cx="700.0" cy="910.0" r="7"/>
<circle cx="438.8" cy="852.3" r="7"/>
<circle cx="443.9" cy="239.5" r="7"/>
<circle cx="1022.0" cy="350.0" r="7"/>
<circle cx="429.8" cy="370.5" r="7"/>
<circle cx="444.4" cy="846.4" r="7"/>
<circle cx="598.0" cy="463.1" r="7"/>
<circle cx="720.0" cy="217.0" r="7"/>
<circle cx="731.8" cy="291.9" r="7"/>
<circle cx="359.7" cy="509.5" r="7"/>
<circle cx="578.6" cy="285.2" r="7"/>
<circle cx="555.6" cy="1019.3" r="7"/>
<circle cx="642.6" cy="1062.4" r="7"/>
<circle cx="524.2" cy="561.9" r="7"/>
<circle cx="884.8" cy="662.6" r="7"/>
<circle cx="700.0" cy="981.9" r="7"/>
<circle cx="713.6" cy="1066.3" r="7"/>
<circle cx="605.5" cy="995.7" r="7"/>
<circle cx="842.6" cy="523.4" r="7"/>
<circle cx="1016.1" cy="795.1" r="7"/>
<circle cx="575.0" cy="694.0" r="7"/>
<circle cx="990.8" cy="781.9" r="7"/>
<circle cx="370.0" cy="397.7" r="7"/>
<circle cx="674.8" cy="992.5" r="7"/>
<circle cx="611.8" cy="691.0" r="7"/>
<circle cx="605.9" cy="986.5" r="7"/>
<circle cx="508.8" cy="708.2" r="7"/>
<circle cx="675.0" cy="375.0" r="7"/>
<circle cx="684.4" cy="887.1" r="7"/>
<circle cx="517.2" cy="223.6" r="7"/>
<circle cx="537.0" cy="519.0" r="7"/>
<circle cx="388.7" cy="248.1" r="7"/>
<circle cx="234.0" cy="397.0" r="7"/>
<circle cx="575.0" cy="659.0" r="7"/>
<circle cx="317.1" cy="396.1" r="7"/>
<circle cx="621.4" cy="211.1" r="7"/>
<circle cx="612.6" cy="817.7" r="7"/>
<circle cx="348.5" cy="379.9" r="7"/>
<circle cx="611.6" cy="964.0" r="7"/>
<circle cx="709.1" cy="1009.9" r="7"/>
<circle cx="337.1" cy="323.0" r="7"/>
<circle cx="634.3" cy="852.1" r="7"/>
<circle cx="422.7" cy="753.4" r="7"/>
<circle cx="900.2" cy="616.4" r="7"/>
<circle cx="836.9" cy="937.1" r="7"/>
<circle cx="342.9" cy="250.1" r="7"/>
<circle cx="520.8" cy="267.1" r="7"/>
<circle cx="355.6" cy="836.0" r="7"/>
<circle cx="222.0" cy="387.0" r="7"/>
<circle cx="329.3" cy="433.4" r="7"/>
<circle cx="535.8" cy="324.3" r="7"/>
<circle cx="676.5" cy="231.9" r="7"/>
<circle cx="575.1" cy="977.9" r="7"/>
<circle cx="630.2" cy="288.0" r="7"/>
<circle cx="458.0" cy="746.4" r="7"/>
<circle cx="517.4" cy="265.0" r="7"/>
<circle cx="582.2" cy="234.8" r="7"/>
<circle cx="623.1" cy="414.3" r="7"/>
<circle cx="432.7" cy="299.0" r="7"/>
<circle cx="708.7" cy="689.4" r="7"/>
<circle cx="615.1" cy="239.4" r="7"/>
<circle cx="446.0" cy="298.1" r="7"/>
<circle cx="341.2" cy="527.1" r="7"/>
<circle cx="427.3" cy="855.5" r="7"/>
<circle cx="535.8" cy="308.2" r="7"/>
<circle cx="547.1" cy="560.4" r="7"/>
<circle cx="830.3" cy="840.9" r="7"/>
<circle cx="768.4" cy="633.7" r="7"/>
<circle cx="1011.5" cy="783.0" r="7"/>
<circle cx="783.0" cy="285.9" r="7"/>
<circle cx="531.6" cy="947.4" r="7"/>
<circle cx="872.3" cy="660.7" r="7"/>
<circle cx="679.7" cy="1006.6" r="7"/>
<circle cx="820.9" cy="343.9" r="7"/>
<circle cx="305.2" cy="307.2" r="7"/>
<circle cx="663.1" cy="1074.7" r="7"/>
<circle cx="666.2" cy="301.3" r="7"/>
<circle cx="482.1" cy="309.5" r="7"/>
<circle cx="826.5" cy="620.0" r="7"/>
<circle cx="670.5" cy="1069.2" r="7"/>
<circle cx="837.0" cy="542.0" r="7"/>
<circle cx="550.7" cy="217.1" r="7"/>
<circle cx="667.0" cy="345.0" r="7"/>
<circle cx="334.1" cy="794.4" r="7"/>
<circle cx="282.0" cy="445.0" r="7"/>
<circle cx="294.4" cy="441.4" r="7"/>
<circle cx="555.7" cy="286.6" r="7"/>
<circle cx="893.7" cy="880.7" r="7"/>
<circle cx="338.9" cy="248.7" r="7"/>
<circle cx="635.3" cy="255.9" r="7"/>
<circle cx="342.6" cy="509.7" r="7"/>
<circle cx="918.4" cy="927.2" r="7"/>
<circle cx="1059.0" cy="429.0" r="7"/>
<circle cx="748.0" cy="1028.0" r="7"/>
<circle cx="969.7" cy="577.2" r="7"/>
<circle cx="544.3" cy="891.1" r="7"/>
<circle cx="301.0" cy="285.0" r="7"/>
<circle cx="722.3" cy="796.7" r="7"/>
<circle cx="380.7" cy="801.3" r="7"/>
<circle cx="770.6" cy="782.5" r="7"/>
<circle cx="542.9" cy="1009.0" r="7"/>
<circle cx="570.2" cy="1031.9" r="7"/>
<circle cx="778.5" cy="718.1" r="7"/>
<circle cx="441.6" cy="225.8" r="7"/>
<circle cx="537.3" cy="532.5" r="7"/>
<circle cx="555.8" cy="918.0" r="7"/>
<circle cx="609.4" cy="998.4" r="7"/>
<circle cx="937.3" cy="668.7" r="7"/>
<circle cx="905.3" cy="682.4" r="7"/>
<circle cx="526.1" cy="1005.6" r="7"/>
<circle cx="494.0" cy="766.9" r="7"/>
<circle cx="647.0" cy="855.3" r="7"/>
<circle cx="458.5" cy="760.3" r="7"/>
<circle cx="521.6" cy="226.6" r="7"/>
<circle cx="378.3" cy="721.7" r="7"/>
<circle cx="852.3" cy="818.4" r="7"/>
<circle cx="586.1" cy="1043.7" r="7"/>
<circle cx="237.6" cy="393.8" r="7"/>
<circle cx="346.5" cy="356.9" r="7"/>
<circle cx="422.0" cy="360.7" r="7"/>
<circle cx="724.6" cy="655.7" r="7"/>
<circle cx="903.9" cy="582.1" r="7"/>
<circle cx="415.1" cy="344.5" r="7"/>
<circle cx="496.0" cy="840.0" r="7"/>
<circle cx="527.0" cy="323.6" r="7"/>
<circle cx="964.1" cy="793.0" r="7"/>
<circle cx="586.5" cy="776.2" r="7"/>
<circle cx="893.4" cy="834.3" r="7"/>
<circle cx="395.2" cy="789.0" r="7"/>
<circle cx="694.3" cy="962.1" r="7"/>
<circle cx="647.0" cy="682.0" r="7"/>
<circle cx="389.9" cy="313.8" r="7"/>
<circle cx="758.7" cy="806.5" r="7"/>
<circle cx="479.0" cy="299.1" r="7"/>
<circle cx="393.8" cy="395.7" r="7"/>
<circle cx="646.8" cy="792.8" r="7"/>
<circle cx="387.4" cy="390.4" r="7"/>
<circle cx="316.7" cy="462.7" r="7"/>
<circle cx="866.9" cy="643.7" r="7"/>
<circle cx="910.0" cy="859.2" r="7"/>
<circle cx="507.0" cy="844.0" r="7"/>
<circle cx="647.7" cy="218.8" r="7"/>
<circle cx="628.8" cy="767.5" r="7"/>
<circle cx="242.7" cy="338.1" r="7"/>
<circle cx="530.1" cy="378.9" r="7"/>
<circle cx="540.0" cy="202.1" r="7"/>
<circle cx="397.4" cy="449.0" r="7"/>
<circle cx="576.3" cy="537.6" r="7"/>
<circle cx="599.9" cy="522.9" r="7"/>
<circle cx="897.7" cy="874.4" r="7"/>
<circle cx="776.9" cy="290.9" r="7"/>
<circle cx="485.6" cy="906.1" r="7"/>
<circle cx="893.2" cy="645.6" r="7"/>
<circle cx="380.3" cy="502.0" r="7"/>
<circle cx="712.2" cy="1036.1" r="7"/>
<circle cx="835.5" cy="828.7" r="7"/>
<circle cx="735.0" cy="1005.0" r="7"/>
<circle cx="498.8" cy="693.5" r="7"/>
<circle cx="393.6" cy="754.6" r="7"/>
<circle cx="861.1" cy="856.8" r="7"/>
<circle cx="893.8" cy="862.8" r="7"/>
<circle cx="389.4" cy="817.8" r="7"/>
<circle cx="342.7" cy="494.0" r="7"/>
<circle cx="852.0" cy="336.0" r="7"/>
<circle cx="519.9" cy="759.7" r="7"/>
<circle cx="797.0" cy="329.2" r="7"/>
<circle cx="551.2" cy="555.9" r="7"/>
<circle cx="672.0" cy="370.0" r="7"/>
<circle cx="678.2" cy="226.1" r="7"/>
<circle cx="521.3" cy="904.5" r="7"/>
<circle cx="511.7" cy="779.1" r="7"/>
<circle cx="564.6" cy="1050.1" r="7"/>
<circle cx="613.5" cy="441.8" r="7"/>
<circle cx="772.5" cy="728.3" r="7"/>
<circle cx="577.0" cy="410.0" r="7"/>
<circle cx="321.1" cy="549.3" r="7"/>
<circle cx="538.6" cy="867.4" r="7"/>
<circle cx="970.6" cy="684.2" r="7"/>
<circle cx="577.3" cy="409.3" r="7"/>
<circle cx="230.0" cy="325.1" r="7"/>
<circle cx="328.4" cy="296.8" r="7"/>
<circle cx="798.1" cy="843.4" r="7"/>
<circle cx="648.8" cy="243.0" r="7"/>
<circle cx="531.9" cy="491.4" r="7"/>
<circle cx="885.0" cy="931.2" r="7"/>
<circle cx="716.1" cy="908.8" r="7"/>
<circle cx="463.1" cy="392.0" r="7"/>
<circle cx="700.0" cy="385.0" r="7"/>
<circle cx="675.6" cy="1007.3" r="7"/>
<circle cx="273.6" cy="345.7" r="7"/>
<circle cx="752.6" cy="624.8" r="7"/>
<circle cx="353.0" cy="788.9" r="7"/>
<circle cx="553.6" cy="272.5" r="7"/>
<circle cx="485.9" cy="387.4" r="7"/>
<circle cx="666.4" cy="811.5" r="7"/>
<circle cx="884.7" cy="852.6" r="7"/>
<circle cx="340.9" cy="302.9" r="7"/>
<circle cx="962.0" cy="275.0" r="7"/>
<circle cx="752.0" cy="757.3" r="7"/>
<circle cx="706.5" cy="650.2" r="7"/>
<circle cx="542.4" cy="825.8" r="7"/>
<circle cx="556.9" cy="261.3" r="7"/>
<circle cx="604.3" cy="982.8" r="7"/>
<circle cx="359.0" cy="760.2" r="7"/>
<circle cx="230.1" cy="318.8" r="7"/>
<circle cx="367.3" cy="402.3" r="7"/>
<circle cx="629.5" cy="689.5" r="7"/>
<circle cx="600.9" cy="304.3" r="7"/>
<circle cx="509.0" cy="379.0" r="7"/>
<circle cx="536.0" cy="893.5" r="7"/>
<circle cx="813.7" cy="818.4" r="7"/>
<circle cx="707.5" cy="249.1" r="7"/>
<circle cx="724.6" cy="879.4" r="7"/>
<circle cx="1104.0" cy="510.0" r="7"/>
<circle cx="703.1" cy="295.1" r="7"/>
<circle cx="671.4" cy="956.3" r="7"/>
<circle cx="635.0" cy="532.1" r="7"/>
<circle cx="538.6" cy="543.8" r="7"/>
<circle cx="617.7" cy="313.8" r="7"/>
<circle cx="640.7" cy="742.2" r="7"/>
<circle cx="592.1" cy="821.5" r="7"/>
<circle cx="911.0" cy="286.0" r="7"/>
<circle cx="780.6" cy="963.8" r="7"/>
<circle cx="302.3" cy="478.8" r="7"/>
<circle cx="649.0" cy="521.4" r="7"/>
<circle cx="852.8" cy="925.3" r="7"/>
<circle cx="448.0" cy="347.0" r="7"/>
<circle cx="676.6" cy="207.9" r="7"/>
<circle cx="274.0" cy="416.0" r="7"/>
<circle cx="854.9" cy="703.7" r="7"/>
<circle cx="722.6" cy="240.5" r="7"/>
<circle cx="645.5" cy="246.3" r="7"/>
<circle cx="750.0" cy="982.0" r="7"/>
<circle cx="970.8" cy="862.2" r="7"/>
<circle cx="714.1" cy="692.1" r="7"/>
<circle cx="407.3" cy="334.2" r="7"/>
<circle cx="507.5" cy="219.7" r="7"/>
<circle cx="538.1" cy="250.3" r="7"/>
<circle cx="911.3" cy="919.1" r="7"/>
<circle cx="843.0" cy="809.5" r="7"/>
<circle cx="662.9" cy="717.1" r="7"/>
<circle cx="945.5" cy="642.3" r="7"/>
<circle cx="592.8" cy="501.1" r="7"/>
<circle cx="832.6" cy="561.3" r="7"/>
<circle cx="702.9" cy="754.5" r="7"/>
<circle cx="624.5" cy="826.4" r="7"/>
<circle cx="577.3" cy="522.1" r="7"/>
<circle cx="613.1" cy="858.4" r="7"/>
<circle cx="304.2" cy="368.0" r="7"/>
<circle cx="396.0" cy="346.2" r="7"/>
<circle cx="575.6" cy="860.1" r="7"/>
<circle cx="628.4" cy="700.0" r="7"/>
<circle cx="783.6" cy="870.4" r="7"/>
<circle cx="657.0" cy="715.5" r="7"/>
<circle cx="616.9" cy="772.5" r="7"/>
<circle cx="383.7" cy="336.4" r="7"/>
<circle cx="819.3" cy="608.5" r="7"/>
<circle cx="722.5" cy="281.3" r="7"/>
<circle cx="779.7" cy="697.1" r="7"/>
<circle cx="337.3" cy="365.2" r="7"/>
<circle cx="557.5" cy="220.2" r="7"/>
<circle cx="377.9" cy="711.1" r="7"/>
<circle cx="484.6" cy="984.1" r="7"/>
<circle cx="813.0" cy="325.6" r="7"/>
<circle cx="845.2" cy="553.5" r="7"/>
<circle cx="593.8" cy="971.6" r="7"/>
<circle cx="823.2" cy="823.1" r="7"/>
<circle cx="404.6" cy="361.3" r="7"/>
<circle cx="575.0" cy="662.0" r="7"/>
<circle cx="481.0" cy="856.0" r="7"/>
<circle cx="835.0" cy="789.0" r="7"/>
<circle cx="754.6" cy="300.0" r="7"/>
<circle cx="986.0" cy="764.0" r="7"/>
<circle cx="720.8" cy="234.4" r="7"/>
<circle cx="906.9" cy="584.9" r="7"/>
<circle cx="562.6" cy="500.9" r="7"/>
<circle cx="372.7" cy="580.7" r="7"/>
<circle cx="732.7" cy="696.1" r="7"/>
<circle cx="714.8" cy="628.7" r="7"/>
<circle cx="252.9" cy="384.6" r="7"/>
<circle cx="581.9" cy="1047.4" r="7"/>
<circle cx="782.7" cy="751.7" r="7"/>
<circle cx="903.9" cy="855.6" r="7"/>
<circle cx="802.5" cy="872.6" r="7"/>
<circle cx="433.4" cy="323.7" r="7"/>
<circle cx="872.0" cy="928.7" r="7"/>
<circle cx="846.2" cy="546.4" r="7"/>
<circle cx="435.0" cy="249.5" r="7"/>
<circle cx="362.1" cy="341.6" r="7"/>
<circle cx="785.0" cy="829.4" r="7"/>
<circle cx="448.4" cy="254.4" r="7"/>
<circle cx="702.0" cy="927.0" r="7"/>
<circle cx="295.1" cy="469.7" r="7"/>
<circle cx="472.5" cy="311.6" r="7"/>
<circle cx="677.3" cy="969.8" r="7"/>
<circle cx="726.3" cy="246.6" r="7"/>
<circle cx="388.1" cy="470.0" r="7"/>
<circle cx="547.0" cy="425.0" r="7"/>
<circle cx="338.7" cy="471.8" r="7"/>
<circle cx="387.7" cy="400.2" r="7"/>
<circle cx="534.7" cy="995.7" r="7"/>
<circle cx="673.2" cy="1039.0" r="7"/>
<circle cx="903.5" cy="664.7" r="7"/>
<circle cx="811.3" cy="844.5" r="7"/>
<circle cx="805.3" cy="344.2" r="7"/>
<circle cx="335.1" cy="264.6" r="7"/>
<circle cx="624.2" cy="444.4" r="7"/>
<circle cx="491.7" cy="910.4" r="7"/>
<circle cx="724.3" cy="641.8" r="7"/>
<circle cx="482.0" cy="697.2" r="7"/>
<circle cx="740.0" cy="713.3" r="7"/>
<circle cx="1067.0" cy="315.0" r="7"/>
<circle cx="469.3" cy="260.8" r="7"/>
<circle cx="826.1" cy="849.0" r="7"/>
<circle cx="834.4" cy="808.7" r="7"/>
<circle cx="220.0" cy="357.0" r="7"/>
<circle cx="701.6" cy="966.9" r="7"/>
<circle cx="584.6" cy="1007.8" r="7"/>
<circle cx="561.6" cy="951.0" r="7"/>
<circle cx="574.3" cy="756.8" r="7"/>
<circle cx="614.7" cy="733.2" r="7"/>
<circle cx="393.4" cy="300.7" r="7"/>
<circle cx="949.0" cy="331.0" r="7"/>
<circle cx="360.0" cy="950.0" r="7"/>
<circle cx="578.8" cy="884.3" r="7"/>
<circle cx="335.1" cy="290.7" r="7"/>
<circle cx="251.0" cy="381.0" r="7"/>
<circle cx="539.1" cy="828.1" r="7"/>
<circle cx="598.1" cy="691.2" r="7"/>
<circle cx="530.1" cy="769.5" r="7"/>
<circle cx="912.4" cy="927.2" r="7"/>
<circle cx="804.0" cy="320.0" r="7"/>
<circle cx="779.4" cy="764.3" r="7"/>
<circle cx="737.2" cy="1031.7" r="7"/>
<circle cx="549.1" cy="228.8" r="7"/>
<circle cx="432.8" cy="838.8" r="7"/>
<circle cx="604.3" cy="538.0" r="7"/>
<circle cx="534.2" cy="524.5" r="7"/>
<circle cx="964.2" cy="833.5" r="7"/>
<circle cx="612.5" cy="789.2" r="7"/>
<circle cx="336.7" cy="396.8" r="7"/>
<circle cx="616.1" cy="470.6" r="7"/>
<circle cx="296.8" cy="451.5" r="7"/>
<circle cx="650.6" cy="1052.6" r="7"/>
<circle cx="585.3" cy="958.0" r="7"/>
<circle cx="534.2" cy="433.1" r="7"/>
<circle cx="833.5" cy="548.2" r="7"/>
<circle cx="641.3" cy="751.5" r="7"/>
<circle cx="735.0" cy="222.0" r="7"/>
<circle cx="617.1" cy="826.9" r="7"/>
<circle cx="608.8" cy="292.5" r="7"/>
<circle cx="727.7" cy="1050.8" r="7"/>
<circle cx="987.8" cy="806.1" r="7"/>
<circle cx="629.4" cy="1023.9" r="7"/>
<circle cx="826.2" cy="855.9" r="7"/>
<circle cx="511.9" cy="908.2" r="7"/>
<circle cx="807.6" cy="627.0" r="7"/>
<circle cx="873.2" cy="849.9" r="7"/>
<circle cx="349.1" cy="288.2" r="7"/>
<circle cx="932.2" cy="584.1" r="7"/>
<circle cx="420.0" cy="263.5" r="7"/>
<circle cx="575.1" cy="1056.3" r="7"/>
<circle cx="818.8" cy="694.0" r="7"/>
<circle cx="651.0" cy="886.0" r="7"/>
<circle cx="582.5" cy="554.1" r="7"/>
<circle cx="531.8" cy="936.5" r="7"/>
<circle cx="875.1" cy="863.5" r="7"/>
<circle cx="608.6" cy="487.7" r="7"/>
<circle cx="481.7" cy="899.7" r="7"/>
<circle cx="552.2" cy="480.7" r="7"/>
<circle cx="872.0" cy="495.0" r="7"/>
<circle cx="678.0" cy="773.3" r="7"/>
<circle cx="599.5" cy="564.3" r="7"/>
<circle cx="801.9" cy="947.1" r="7"/>
<circle cx="603.7" cy="702.3" r="7"/>
<circle cx="320.5" cy="516.5" r="7"/>
<circle cx="678.8" cy="956.9" r="7"/>
<circle cx="550.4" cy="257.5" r="7"/>
<circle cx="807.7" cy="867.1" r="7"/>
<circle cx="413.2" cy="401.8" r="7"/>
<circle cx="558.9" cy="882.0" r="7"/>
<circle cx="739.6" cy="761.1" r="7"/>
<circle cx="354.9" cy="333.4" r="7"/>
<circle cx="537.7" cy="872.6" r="7"/>
<circle cx="468.2" cy="386.4" r="7"/>
<circle cx="880.0" cy="351.0" r="7"/>
<circle cx="827.9" cy="301.3" r="7"/>
<circle cx="750.9" cy="268.6" r="7"/>
<circle cx="472.6" cy="319.5" r="7"/>
<circle cx="785.6" cy="449.9" r="7"/>
<circle cx="730.8" cy="659.8" r="7"/>
<circle cx="779.4" cy="514.0" r="7"/>
<circle cx="402.6" cy="387.4" r="7"/>
<circle cx="301.7" cy="318.4" r="7"/>
<circle cx="340.2" cy="260.6" r="7"/>
<circle cx="917.9" cy="790.5" r="7"/>
<circle cx="494.8" cy="261.1" r="7"/>
<circle cx="611.2" cy="470.4" r="7"/>
<circle cx="908.8" cy="840.5" r="7"/>
<circle cx="935.0" cy="896.0" r="7"/>
<circle cx="968.8" cy="794.1" r="7"/>
<circle cx="419.4" cy="293.8" r="7"/>
<circle cx="822.1" cy="334.0" r="7"/>
<circle cx="282.2" cy="377.5" r="7"/>
<circle cx="816.0" cy="557.0" r="7"/>
<circle cx="982.0" cy="866.4" r="7"/>
<circle cx="668.2" cy="866.0" r="7"/>
<circle cx="632.6" cy="955.3" r="7"/>
<circle cx="804.8" cy="879.5" r="7"/>
<circle cx="787.3" cy="888.3" r="7"/>
<circle cx="397.7" cy="380.8" r="7"/>
<circle cx="506.2" cy="243.4" r="7"/>
<circle cx="743.4" cy="729.1" r="7"/>
<circle cx="365.7" cy="567.9" r="7"/>
<circle cx="590.9" cy="254.6" r="7"/>
<circle cx="497.4" cy="759.0" r="7"/>
<circle cx="380.3" cy="468.4" r="7"/>
<circle cx="460.6" cy="319.8" r="7"/>
<circle cx="570.9" cy="957.1" r="7"/>
<circle cx="524.0" cy="981.2" r="7"/>
<circle cx="619.0" cy="233.1" r="7"/>
<circle cx="604.9" cy="780.4" r="7"/>
<circle cx="524.3" cy="940.8" r="7"/>
<circle cx="330.3" cy="534.4" r="7"/>
<circle cx="426.9" cy="259.9" r="7"/>
<circle cx="667.6" cy="854.4" r="7"/>
<circle cx="685.0" cy="420.0" r="7"/>
<circle cx="806.6" cy="932.4" r="7"/>
<circle cx="579.5" cy="210.6" r="7"/>
<circle cx="367.3" cy="329.7" r="7"/>
<circle cx="334.7" cy="379.8" r="7"/>
<circle cx="998.7" cy="822.7" r="7"/>
<circle cx="422.5" cy="335.9" r="7"/>
<circle cx="506.0" cy="733.4" r="7"/>
<circle cx="831.4" cy="740.9" r="7"/>
<circle cx="597.9" cy="412.3" r="7"/>
<circle cx="351.6" cy="798.7" r="7"/>
<circle cx="699.9" cy="959.7" r="7"/>
<circle cx="792.2" cy="869.6" r="7"/>
<circle cx="782.0" cy="1007.0" r="7"/>
<circle cx="848.4" cy="585.7" r="7"/>
<circle cx="737.8" cy="239.0" r="7"/>
<circle cx="334.2" cy="312.0" r="7"/>
<circle cx="923.1" cy="923.8" r="7"/>
<circle cx="923.2" cy="812.2" r="7"/>
<circle cx="390.2" cy="367.5" r="7"/>
<circle cx="704.8" cy="761.5" r="7"/>
<circle cx="812.8" cy="761.0" r="7"/>
<circle cx="537.6" cy="885.4" r="7"/>
<circle cx="886.9" cy="946.9" r="7"/>
<circle cx="849.7" cy="707.3" r="7"/>
<circle cx="465.6" cy="295.2" r="7"/>
<circle cx="910.2" cy="894.2" r="7"/>
<circle cx="650.0" cy="406.0" r="7"/>
<circle cx="618.2" cy="227.4" r="7"/>
<circle cx="480.6" cy="895.2" r="7"/>
<circle cx="666.5" cy="759.5" r="7"/>
<circle cx="747.7" cy="331.1" r="7"/>
<circle cx="432.5" cy="375.3" r="7"/>
<circle cx="564.0" cy="258.8" r="7"/>
<circle cx="671.5" cy="206.4" r="7"/>
<circle cx="761.8" cy="812.1" r="7"/>
<circle cx="350.1" cy="371.4" r="7"/>
<circle cx="650.0" cy="909.0" r="7"/>
<circle cx="490.7" cy="358.0" r="7"/>
<circle cx="623.3" cy="470.2" r="7"/>
<circle cx="744.6" cy="708.3" r="7"/>
<circle cx="387.0" cy="718.5" r="7"/>
<circle cx="561.6" cy="790.6" r="7"/>
<circle cx="358.5" cy="486.8" r="7"/>
<circle cx="559.4" cy="298.0" r="7"/>
<circle cx="970.0" cy="877.0" r="7"/>
<circle cx="303.4" cy="442.4" r="7"/>
<circle cx="982.2" cy="810.6" r="7"/>
<circle cx="594.3" cy="567.8" r="7"/>
<circle cx="840.8" cy="636.3" r="7"/>
<circle cx="528.7" cy="513.8" r="7"/>
<circle cx="608.3" cy="746.5" r="7"/>
<circle cx="380.4" cy="808.5" r="7"/>
<circle cx="506.1" cy="461.5" r="7"/>
<circle cx="876.9" cy="887.5" r="7"/>
<circle cx="605.4" cy="1048.8" r="7"/>
<circle cx="958.1" cy="630.4" r="7"/>
<circle cx="873.9" cy="607.1" r="7"/>
<circle cx="615.6" cy="266.9" r="7"/>
<circle cx="418.1" cy="350.2" r="7"/>
<circle cx="762.0" cy="940.0" r="7"/>
<circle cx="460.8" cy="307.3" r="7"/>
<circle cx="764.8" cy="843.8" r="7"/>
<circle cx="657.1" cy="721.0" r="7"/>
<circle cx="413.0" cy="425.9" r="7"/>
<circle cx="585.7" cy="232.3" r="7"/>
<circle cx="595.5" cy="882.7" r="7"/>
<circle cx="553.1" cy="821.7" r="7"/>
<circle cx="558.6" cy="420.4" r="7"/>
<circle cx="360.5" cy="545.5" r="7"/>
<circle cx="286.1" cy="462.6" r="7"/>
<circle cx="713.4" cy="775.9" r="7"/>
<circle cx="575.0" cy="692.0" r="7"/>
<circle cx="799.3" cy="314.2" r="7"/>
<circle cx="796.2" cy="828.5" r="7"/>
<circle cx="847.1" cy="578.4" r="7"/>
<circle cx="399.4" cy="239.6" r="7"/>
<circle cx="604.5" cy="912.0" r="7"/>
<circle cx="234.8" cy="346.4" r="7"/>
<circle cx="592.6" cy="916.2" r="7"/>
<circle cx="316.0" cy="900.0" r="7"/>
<circle cx="326.0" cy="535.6" r="7"/>
<circle cx="605.4" cy="230.6" r="7"/>
<circle cx="713.1" cy="714.3" r="7"/>
<circle cx="813.2" cy="894.5" r="7"/>
<circle cx="364.4" cy="361.9" r="7"/>
<circle cx="599.4" cy="1002.9" r="7"/>
<circle cx="368.2" cy="346.4" r="7"/>
<circle cx="611.6" cy="477.8" r="7"/>
<circle cx="593.9" cy="933.2" r="7"/>
<circle cx="543.4" cy="520.1" r="7"/>
<circle cx="594.9" cy="766.8" r="7"/>
<circle cx="634.3" cy="447.7" r="7"/>
<circle cx="879.9" cy="845.4" r="7"/>
<circle cx="462.2" cy="234.0" r="7"/>
<circle cx="327.0" cy="359.0" r="7"/>
<circle cx="489.5" cy="226.6" r="7"/>
<circle cx="805.5" cy="722.4" r="7"/>
<circle cx="472.6" cy="371.2" r="7"/>
<circle cx="585.0" cy="397.0" r="7"/>
<circle cx="839.1" cy="948.3" r="7"/>
<circle cx="616.4" cy="756.1" r="7"/>
<circle cx="478.0" cy="332.7" r="7"/>
<circle cx="677.0" cy="561.0" r="7"/>
<circle cx="798.2" cy="703.9" r="7"/>
<circle cx="300.7" cy="492.0" r="7"/>
<circle cx="692.6" cy="1057.9" r="7"/>
<circle cx="770.7" cy="612.7" r="7"/>
<circle cx="304.6" cy="389.1" r="7"/>
<circle cx="762.4" cy="921.3" r="7"/>
<circle cx="933.6" cy="856.5" r="7"/>
<circle cx="772.2" cy="483.8" r="7"/>
<circle cx="648.4" cy="893.1" r="7"/>
<circle cx="372.3" cy="489.1" r="7"/>
<circle cx="442.0" cy="351.0" r="7"/>
<circle cx="716.7" cy="697.1" r="7"/>
<circle cx="698.5" cy="296.1" r="7"/>
<circle cx="543.0" cy="353.5" r="7"/>
<circle cx="375.0" cy="791.3" r="7"/>
<circle cx="579.8" cy="867.7" r="7"/>
<circle cx="806.2" cy="924.2" r="7"/>
<circle cx="370.6" cy="267.6" r="7"/>
<circle cx="977.6" cy="814.8" r="7"/>
<circle cx="622.0" cy="365.0" r="7"/>
<circle cx="755.7" cy="869.3" r="7"/>
<circle cx="690.6" cy="689.9" r="7"/>
<circle cx="927.0" cy="519.0" r="7"/>
<circle cx="656.6" cy="276.7" r="7"/>
<circle cx="776.7" cy="494.0" r="7"/>
<circle cx="691.5" cy="994.9" r="7"/>
<circle cx="509.7" cy="981.7" r="7"/>
<circle cx="410.3" cy="293.6" r="7"/>
<circle cx="605.6" cy="295.8" r="7"/>
<circle cx="589.4" cy="970.7" r="7"/>
<circle cx="650.6" cy="1057.3" r="7"/>
<circle cx="765.7" cy="768.3" r="7"/>
<circle cx="453.9" cy="359.4" r="7"/>
<circle cx="643.8" cy="728.9" r="7"/>
<circle cx="737.2" cy="1048.8" r="7"/>
<circle cx="580.7" cy="449.5" r="7"/>
<circle cx="784.8" cy="882.1" r="7"/>
<circle cx="546.0" cy="555.3" r="7"/>
<circle cx="482.0" cy="692.0" r="7"/>
<circle cx="583.7" cy="545.3" r="7"/>
<circle cx="819.5" cy="791.9" r="7"/>
<circle cx="581.6" cy="708.0" r="7"/>
<circle cx="505.1" cy="697.1" r="7"/>
<circle cx="546.7" cy="1015.1" r="7"/>
<circle cx="854.2" cy="580.6" r="7"/>
<circle cx="361.3" cy="736.0" r="7"/>
<circle cx="995.3" cy="804.0" r="7"/>
<circle cx="691.4" cy="214.2" r="7"/>
<circle cx="415.2" cy="852.3" r="7"/>
<circle cx="375.7" cy="825.9" r="7"/>
<circle cx="685.3" cy="796.5" r="7"/>
<circle cx="508.9" cy="937.2" r="7"/>
<circle cx="609.1" cy="245.6" r="7"/>
<circle cx="607.9" cy="908.3" r="7"/>
<circle cx="739.0" cy="307.1" r="7"/>
<circle cx="396.0" cy="453.9" r="7"/>
<circle cx="686.3" cy="276.6" r="7"/>
<circle cx="735.0" cy="518.5" r="7"/>
<circle cx="534.3" cy="348.0" r="7"/>
<circle cx="597.4" cy="291.5" r="7"/>
<circle cx="340.1" cy="519.2" r="7"/>
<circle cx="759.7" cy="844.9" r="7"/>
<circle cx="626.5" cy="508.5" r="7"/>
<circle cx="781.4" cy="859.2" r="7"/>
<circle cx="593.8" cy="850.6" r="7"/>
<circle cx="576.7" cy="559.7" r="7"/>
<circle cx="949.4" cy="667.9" r="7"/>
<circle cx="710.0" cy="385.0" r="7"/>
<circle cx="738.7" cy="851.6" r="7"/>
<circle cx="597.6" cy="771.4" r="7"/>
<circle cx="262.0" cy="313.0" r="7"/>
<circle cx="820.1" cy="720.3" r="7"/>
<circle cx="419.1" cy="302.6" r="7"/>
<circle cx="914.3" cy="676.5" r="7"/>
<circle cx="896.0" cy="435.0" r="7"/>
<circle cx="404.0" cy="406.4" r="7"/>
<circle cx="484.2" cy="359.2" r="7"/>
<circle cx="560.5" cy="207.9" r="7"/>
<circle cx="966.0" cy="824.2" r="7"/>
<circle cx="523.0" cy="335.3" r="7"/>
<circle cx="673.4" cy="755.5" r="7"/>
<circle cx="593.4" cy="227.7" r="7"/>
<circle cx="522.5" cy="985.9" r="7"/>
<circle cx="297.8" cy="434.5" r="7"/>
<circle cx="339.7" cy="466.9" r="7"/>
<circle cx="835.1" cy="718.1" r="7"/>
<circle cx="347.3" cy="282.9" r="7"/>
<circle cx="588.5" cy="1065.6" r="7"/>
<circle cx="737.1" cy="739.2" r="7"/>
<circle cx="670.0" cy="818.2" r="7"/>
<circle cx="945.0" cy="389.0" r="7"/>
<circle cx="494.2" cy="341.4" r="7"/>
<circle cx="949.6" cy="873.6" r="7"/>
<circle cx="581.6" cy="223.5" r="7"/>
<circle cx="359.0" cy="540.4" r="7"/>
<circle cx="843.1" cy="889.9" r="7"/>
<circle cx="926.7" cy="877.7" r="7"/>
<circle cx="719.7" cy="651.6" r="7"/>
<circle cx="695.0" cy="346.0" r="7"/>
<circle cx="692.0" cy="912.0" r="7"/>
<circle cx="662.5" cy="479.5" r="7"/>
<circle cx="581.9" cy="434.5" r="7"/>
<circle cx="310.4" cy="539.1" r="7"/>
<circle cx="995.0" cy="419.0" r="7"/>
<circle cx="963.6" cy="658.8" r="7"/>
<circle cx="507.6" cy="255.4" r="7"/>
<circle cx="600.4" cy="1023.8" r="7"/>
<circle cx="807.1" cy="842.0" r="7"/>
<circle cx="817.6" cy="617.8" r="7"/>
<circle cx="600.3" cy="904.3" r="7"/>
<circle cx="877.0" cy="325.0" r="7"/>
<circle cx="748.0" cy="771.3" r="7"/>
<circle cx="608.4" cy="537.0" r="7"/>
<circle cx="895.1" cy="802.8" r="7"/>
<circle cx="399.4" cy="415.5" r="7"/>
<circle cx="510.2" cy="924.7" r="7"/>
<circle cx="847.5" cy="538.5" r="7"/>
<circle cx="508.1" cy="485.0" r="7"/>
<circle cx="637.9" cy="1029.6" r="7"/>
<circle cx="422.0" cy="273.5" r="7"/>
<circle cx="769.9" cy="531.1" r="7"/>
<circle cx="710.0" cy="402.0" r="7"/>
<circle cx="652.8" cy="291.4" r="7"/>
<circle cx="654.7" cy="239.4" r="7"/>
<circle cx="644.9" cy="516.6" r="7"/>
<circle cx="601.6" cy="817.6" r="7"/>
<circle cx="568.1" cy="469.6" r="7"/>
<circle cx="958.7" cy="812.8" r="7"/>
<circle cx="693.4" cy="1051.1" r="7"/>
<circle cx="887.2" cy="894.7" r="7"/>
<circle cx="358.4" cy="395.8" r="7"/>
<circle cx="605.9" cy="803.9" r="7"/>
<circle cx="921.7" cy="686.8" r="7"/>
<circle cx="673.5" cy="239.6" r="7"/>
<circle cx="516.3" cy="257.8" r="7"/>
<circle cx="537.9" cy="1003.4" r="7"/>
<circle cx="606.0" cy="250.4" r="7"/>
<circle cx="532.6" cy="278.5" r="7"/>
<circle cx="690.1" cy="869.9" r="7"/>
<circle cx="940.5" cy="819.5" r="7"/>
<circle cx="496.0" cy="874.0" r="7"/>
<circle cx="465.0" cy="697.0" r="7"/>
<circle cx="837.0" cy="511.0" r="7"/>
<circle cx="820.0" cy="587.0" r="7"/>
<circle cx="763.2" cy="872.9" r="7"/>
<circle cx="469.6" cy="329.1" r="7"/>
<circle cx="310.0" cy="908.0" r="7"/>
<circle cx="516.4" cy="930.3" r="7"/>
<circle cx="660.7" cy="468.6" r="7"/>
<circle cx="517.8" cy="972.8" r="7"/>
<circle cx="838.9" cy="541.5" r="7"/>
<circle cx="583.1" cy="1028.5" r="7"/>
<circle cx="636.4" cy="842.4" r="7"/>
<circle cx="432.4" cy="385.6" r="7"/>
<circle cx="544.7" cy="1019.7" r="7"/>
<circle cx="818.3" cy="928.5" r="7"/>
<circle cx="322.8" cy="403.5" r="7"/>
<circle cx="621.7" cy="835.8" r="7"/>
<circle cx="682.6" cy="715.9" r="7"/>
<circle cx="755.1" cy="851.7" r="7"/>
<circle cx="721.8" cy="751.8" r="7"/>
<circle cx="641.2" cy="872.7" r="7"/>
<circle cx="705.0" cy="213.0" r="7"/>
<circle cx="392.2" cy="388.2" r="7"/>
<circle cx="778.3" cy="801.3" r="7"/>
<circle cx="972.7" cy="785.9" r="7"/>
<circle cx="620.3" cy="1014.4" r="7"/>
<circle cx="765.4" cy="915.3" r="7"/>
<circle cx="409.5" cy="819.0" r="7"/>
<circle cx="847.6" cy="829.3" r="7"/>
<circle cx="595.8" cy="887.9" r="7"/>
<circle cx="656.5" cy="951.9" r="7"/>
<circle cx="790.1" cy="980.4" r="7"/>
<circle cx="600.6" cy="733.5" r="7"/>
<circle cx="398.7" cy="804.9" r="7"/>
<circle cx="764.7" cy="307.0" r="7"/>
<circle cx="879.6" cy="674.3" r="7"/>
<circle cx="692.1" cy="246.8" r="7"/>
<circle cx="522.1" cy="890.5" r="7"/>
<circle cx="607.3" cy="544.9" r="7"/>
<circle cx="484.7" cy="229.2" r="7"/>
<circle cx="886.8" cy="658.8" r="7"/>
<circle cx="420.5" cy="390.7" r="7"/>
<circle cx="630.8" cy="961.5" r="7"/>
<circle cx="524.2" cy="554.0" r="7"/>
<circle cx="489.2" cy="964.3" r="7"/>
<circle cx="842.6" cy="917.9" r="7"/>
<circle cx="346.5" cy="452.4" r="7"/>
<circle cx="528.9" cy="343.2" r="7"/>
<circle cx="758.2" cy="855.5" r="7"/>
<circle cx="789.0" cy="820.5" r="7"/>
<circle cx="560.3" cy="538.6" r="7"/>
<circle cx="1057.0" cy="501.0" r="7"/>
<circle cx="827.4" cy="465.7" r="7"/>
<circle cx="247.0" cy="308.0" r="7"/>
<circle cx="545.9" cy="875.0" r="7"/>
<circle cx="562.6" cy="1030.8" r="7"/>
<circle cx="523.6" cy="374.9" r="7"/>
<circle cx="812.4" cy="716.1" r="7"/>
<circle cx="443.0" cy="857.2" r="7"/>
<circle cx="366.7" cy="278.3" r="7"/>
<circle cx="356.3" cy="522.1" r="7"/>
<circle cx="646.7" cy="714.3" r="7"/>
<circle cx="319.8" cy="346.1" r="7"/>
<circle cx="378.2" cy="570.3" r="7"/>
<circle cx="557.1" cy="566.8" r="7"/>
<circle cx="591.6" cy="746.8" r="7"/>
<circle cx="517.3" cy="517.5" r="7"/>
<circle cx="552.4" cy="867.4" r="7"/>
<circle cx="285.0" cy="915.0" r="7"/>
<circle cx="359.1" cy="430.1" r="7"/>
<circle cx="369.1" cy="283.6" r="7"/>
<circle cx="602.5" cy="1032.5" r="7"/>
<circle cx="692.9" cy="649.4" r="7"/>
<circle cx="310.3" cy="390.3" r="7"/>
<circle cx="340.5" cy="374.2" r="7"/>
<circle cx="652.9" cy="1017.8" r="7"/>
<circle cx="656.1" cy="304.6" r="7"/>
<circle cx="660.1" cy="767.6" r="7"/>
<circle cx="227.0" cy="325.0" r="7"/>
<circle cx="651.0" cy="910.0" r="7"/>
<circle cx="408.2" cy="442.2" r="7"/>
<circle cx="654.0" cy="963.8" r="7"/>
<circle cx="550.5" cy="279.9" r="7"/>
<circle cx="265.0" cy="410.0" r="7"/>
<circle cx="340.0" cy="566.0" r="7"/>
<circle cx="811.8" cy="903.0" r="7"/>
<circle cx="759.6" cy="444.2" r="7"/>
<circle cx="862.6" cy="609.1" r="7"/>
<circle cx="489.9" cy="277.7" r="7"/>
<circle cx="581.3" cy="1038.7" r="7"/>
<circle cx="559.2" cy="284.5" r="7"/>
<circle cx="307.8" cy="451.4" r="7"/>
<circle cx="315.7" cy="495.3" r="7"/>
<circle cx="366.4" cy="499.3" r="7"/>
<circle cx="353.1" cy="817.8" r="7"/>
<circle cx="929.6" cy="683.6" r="7"/>
<circle cx="867.2" cy="607.1" r="7"/>
<circle cx="363.5" cy="283.5" r="7"/>
<circle cx="817.6" cy="942.5" r="7"/>
<circle cx="586.7" cy="950.3" r="7"/>
<circle cx="609.8" cy="1066.1" r="7"/>
<circle cx="556.7" cy="304.6" r="7"/>
<circle cx="727.8" cy="875.2" r="7"/>
<circle cx="672.0" cy="414.0" r="7"/>
<circle cx="393.1" cy="381.9" r="7"/>
<circle cx="519.6" cy="363.2" r="7"/>
<circle cx="697.0" cy="843.5" r="7"/>
<circle cx="490.4" cy="905.4" r="7"/>
<circle cx="824.1" cy="409.0" r="7"/>
<circle cx="559.1" cy="827.3" r="7"/>
<circle cx="715.6" cy="659.2" r="7"/>
<circle cx="579.5" cy="393.8" r="7"/>
<circle cx="555.9" cy="855.4" r="7"/>
<circle cx="1116.0" cy="495.0" r="7"/>
<circle cx="627.8" cy="1046.0" r="7"/>
<circle cx="860.0" cy="364.0" r="7"/>
<circle cx="462.0" cy="361.1" r="7"/>
<circle cx="590.0" cy="651.0" r="7"/>
<circle cx="388.3" cy="512.4" r="7"/>
<circle cx="742.4" cy="719.7" r="7"/>
<circle cx="995.0" cy="326.0" r="7"/>
<circle cx="557.2" cy="524.2" r="7"/>
<circle cx="772.8" cy="767.6" r="7"/>
<circle cx="607.3" cy="210.9" r="7"/>
<circle cx="808.5" cy="826.5" r="7"/>
<circle cx="901.8" cy="692.3" r="7"/>
<circle cx="826.8" cy="424.1" r="7"/>
<circle cx="335.3" cy="402.0" r="7"/>
<circle cx="736.6" cy="766.7" r="7"/>
<circle cx="591.4" cy="781.2" r="7"/>
<circle cx="404.3" cy="815.4" r="7"/>
<circle cx="720.4" cy="865.9" r="7"/>
<circle cx="566.9" cy="841.3" r="7"/>
<circle cx="340.8" cy="761.4" r="7"/>
<circle cx="562.9" cy="825.0" r="7"/>
<circle cx="769.6" cy="777.4" r="7"/>
<circle cx="682.3" cy="790.1" r="7"/>
<circle cx="697.1" cy="729.5" r="7"/>
<circle cx="539.7" cy="240.8" r="7"/>
<circle cx="734.0" cy="1040.5" r="7"/>
<circle cx="686.0" cy="419.0" r="7"/>
<circle cx="352.1" cy="317.8" r="7"/>
<circle cx="619.5" cy="925.4" r="7"/>
<circle cx="597.6" cy="957.5" r="7"/>
<circle cx="432.5" cy="764.6" r="7"/>
<circle cx="956.1" cy="674.6" r="7"/>
<circle cx="934.0" cy="292.0" r="7"/>
<circle cx="759.1" cy="321.0" r="7"/>
<circle cx="718.4" cy="1047.2" r="7"/>
<circle cx="892.1" cy="933.0" r="7"/>
<circle cx="746.2" cy="285.5" r="7"/>
<circle cx="902.0" cy="287.0" r="7"/>
<circle cx="644.2" cy="491.5" r="7"/>
<circle cx="776.9" cy="929.4" r="7"/>
<circle cx="562.8" cy="1021.1" r="7"/>
<circle cx="613.4" cy="709.4" r="7"/>
<circle cx="780.1" cy="848.1" r="7"/>
<circle cx="669.2" cy="212.2" r="7"/>
<circle cx="297.0" cy="505.3" r="7"/>
<circle cx="362.4" cy="294.8" r="7"/>
<circle cx="510.7" cy="931.8" r="7"/>
<circle cx="349.8" cy="325.9" r="7"/>
<circle cx="603.0" cy="1063.7" r="7"/>
<circle cx="839.5" cy="886.0" r="7"/>
<circle cx="532.1" cy="974.8" r="7"/>
<circle cx="782.6" cy="499.8" r="7"/>
<circle cx="1001.6" cy="796.2" r="7"/>
<circle cx="543.9" cy="331.2" r="7"/>
<circle cx="469.1" cy="380.0" r="7"/>
<circle cx="1015.8" cy="790.3" r="7"/>
<circle cx="557.3" cy="488.7" r="7"/>
<circle cx="531.1" cy="449.4" r="7"/>
<circle cx="724.3" cy="892.4" r="7"/>
<circle cx="835.2" cy="928.1" r="7"/>
<circle cx="882.7" cy="688.6" r="7"/>
<circle cx="524.3" cy="1027.1" r="7"/>
<circle cx="658.2" cy="228.5" r="7"/>
<circle cx="531.4" cy="234.5" r="7"/>
<circle cx="390.7" cy="440.7" r="7"/>
<circle cx="491.2" cy="327.8" r="7"/>
<circle cx="808.5" cy="276.4" r="7"/>
<circle cx="860.3" cy="911.0" r="7"/>
<circle cx="390.0" cy="962.0" r="7"/>
<circle cx="832.0" cy="818.8" r="7"/>
<circle cx="552.2" cy="264.4" r="7"/>
<circle cx="275.0" cy="296.0" r="7"/>
<circle cx="450.0" cy="270.6" r="7"/>
<circle cx="585.1" cy="930.1" r="7"/>
<circle cx="790.2" cy="426.8" r="7"/>
<circle cx="779.2" cy="406.8" r="7"/>
<circle cx="477.0" cy="431.0" r="7"/>
<circle cx="695.8" cy="970.3" r="7"/>
<circle cx="904.6" cy="589.8" r="7"/>
<circle cx="300.0" cy="905.0" r="7"/>
<circle cx="811.4" cy="805.8" r="7"/>
<circle cx="278.9" cy="348.6" r="7"/>
<circle cx="541.6" cy="1024.4" r="7"/>
<circle cx="389.3" cy="540.9" r="7"/>
<circle cx="376.4" cy="768.1" r="7"/>
<circle cx="701.9" cy="303.4" r="7"/>
<circle cx="984.9" cy="846.7" r="7"/>
<circle cx="491.7" cy="896.1" r="7"/>
<circle cx="598.8" cy="980.0" r="7"/>
<circle cx="825.7" cy="827.0" r="7"/>
<circle cx="339.8" cy="497.7" r="7"/>
<circle cx="447.8" cy="289.8" r="7"/>
<circle cx="390.7" cy="356.0" r="7"/>
<circle cx="721.0" cy="823.1" r="7"/>
<circle cx="647.0" cy="682.0" r="7"/>
<circle cx="972.9" cy="678.4" r="7"/>
<circle cx="587.3" cy="1054.4" r="7"/>
<circle cx="375.3" cy="718.6" r="7"/>
<circle cx="751.7" cy="714.9" r="7"/>
<circle cx="328.6" cy="271.3" r="7"/>
<circle cx="357.2" cy="320.9" r="7"/>
<circle cx="685.9" cy="865.0" r="7"/>
<circle cx="340.2" cy="313.0" r="7"/>
<circle cx="588.0" cy="827.1" r="7"/>
<circle cx="318.1" cy="331.3" r="7"/>
<circle cx="658.8" cy="797.8" r="7"/>
<circle cx="515.7" cy="295.3" r="7"/>
<circle cx="503.1" cy="312.4" r="7"/>
<circle cx="479.5" cy="304.3" r="7"/>
<circle cx="755.6" cy="428.5" r="7"/>
<circle cx="488.9" cy="343.1" r="7"/>
<circle cx="293.2" cy="405.8" r="7"/>
<circle cx="737.2" cy="897.9" r="7"/>
<circle cx="684.4" cy="774.3" r="7"/>
<circle cx="378.1" cy="746.7" r="7"/>
<circle cx="511.4" cy="458.4" r="7"/>
<circle cx="746.8" cy="267.9" r="7"/>
<circle cx="713.9" cy="231.3" r="7"/>
<circle cx="565.4" cy="480.8" r="7"/>
<circle cx="862.3" cy="920.4" r="7"/>
<circle cx="393.7" cy="487.5" r="7"/>
<circle cx="363.4" cy="375.5" r="7"/>
<circle cx="817.0" cy="971.3" r="7"/>
<circle cx="531.7" cy="273.8" r="7"/>
<circle cx="386.2" cy="377.0" r="7"/>
<circle cx="819.4" cy="832.4" r="7"/>
<circle cx="359.9" cy="492.6" r="7"/>
<circle cx="914.1" cy="811.5" r="7"/>
<circle cx="404.2" cy="248.5" r="7"/>
<circle cx="599.5" cy="448.5" r="7"/>
<circle cx="661.5" cy="1015.5" r="7"/>
<circle cx="933.8" cy="793.4" r="7"/>
<circle cx="596.3" cy="1079.2" r="7"/>
<circle cx="691.6" cy="799.6" r="7"/>
<circle cx="745.1" cy="712.4" r="7"/>
<circle cx="843.8" cy="849.2" r="7"/>
<circle cx="788.0" cy="879.7" r="7"/>
<circle cx="602.0" cy="346.0" r="7"/>
<circle cx="618.5" cy="490.2" r="7"/>
<circle cx="375.3" cy="276.8" r="7"/>
<circle cx="294.3" cy="432.1" r="7"/>
<circle cx="486.1" cy="311.0" r="7"/>
<circle cx="741.4" cy="1049.6" r="7"/>
<circle cx="959.8" cy="865.6" r="7"/>
<circle cx="342.7" cy="294.6" r="7"/>
<circle cx="900.6" cy="661.6" r="7"/>
<circle cx="479.7" cy="240.2" r="7"/>
<circle cx="692.5" cy="253.2" r="7"/>
<circle cx="324.3" cy="529.4" r="7"/>
<circle cx="625.3" cy="796.3" r="7"/>
<circle cx="612.3" cy="909.0" r="7"/>
<circle cx="685.4" cy="248.1" r="7"/>
<circle cx="625.7" cy="218.8" r="7"/>
<circle cx="309.2" cy="295.6" r="7"/>
<circle cx="260.0" cy="335.0" r="7"/>
<circle cx="968.2" cy="677.3" r="7"/>
<circle cx="664.1" cy="485.8" r="7"/>
<circle cx="647.0" cy="626.0" r="7"/>
<circle cx="398.0" cy="530.2" r="7"/>
<circle cx="578.6" cy="430.0" r="7"/>
<circle cx="748.8" cy="918.4" r="7"/>
<circle cx="382.2" cy="472.6" r="7"/>
<circle cx="292.0" cy="912.0" r="7"/>
<circle cx="655.0" cy="675.0" r="7"/>
<circle cx="561.2" cy="406.6" r="7"/>
<circle cx="623.5" cy="875.8" r="7"/>
<circle cx="362.0" cy="577.7" r="7"/>
<circle cx="503.5" cy="324.8" r="7"/>
<circle cx="695.0" cy="925.0" r="7"/>
<circle cx="554.1" cy="828.4" r="7"/>
<circle cx="819.4" cy="938.8" r="7"/>
<circle cx="441.3" cy="391.6" r="7"/>
<circle cx="263.7" cy="316.2" r="7"/>
<circle cx="700.1" cy="714.5" r="7"/>
<circle cx="355.6" cy="828.6" r="7"/>
<circle cx="542.3" cy="780.7" r="7"/>
<circle cx="501.4" cy="786.5" r="7"/>
<circle cx="676.5" cy="317.1" r="7"/>
<circle cx="822.2" cy="729.5" r="7"/>
<circle cx="557.9" cy="252.4" r="7"/>
<circle cx="698.8" cy="942.7" r="7"/>
<circle cx="728.5" cy="297.3" r="7"/>
<circle cx="982.0" cy="415.0" r="7"/>
<circle cx="737.0" cy="559.0" r="7"/>
<circle cx="914.0" cy="909.9" r="7"/>
<circle cx="916.0" cy="777.1" r="7"/>
<circle cx="410.6" cy="270.7" r="7"/>
<circle cx="989.6" cy="797.2" r="7"/>
<circle cx="518.4" cy="995.8" r="7"/>
<circle cx="607.2" cy="860.1" r="7"/>
<circle cx="383.2" cy="464.9" r="7"/>
<circle cx="408.3" cy="234.6" r="7"/>
<circle cx="831.0" cy="311.0" r="7"/>
<circle cx="312.2" cy="396.4" r="7"/>
<circle cx="470.4" cy="333.9" r="7"/>
<circle cx="860.9" cy="594.7" r="7"/>
<circle cx="633.1" cy="433.3" r="7"/>
<circle cx="660.0" cy="943.5" r="7"/>
<circle cx="643.2" cy="254.5" r="7"/>
<circle cx="722.8" cy="761.1" r="7"/>
<circle cx="500.3" cy="985.2" r="7"/>
<circle cx="738.0" cy="521.5" r="7"/>
<circle cx="613.5" cy="526.0" r="7"/>
<circle cx="406.2" cy="312.9" r="7"/>
<circle cx="539.1" cy="340.8" r="7"/>
<circle cx="296.2" cy="343.2" r="7"/>
<circle cx="529.7" cy="437.7" r="7"/>
<circle cx="718.0" cy="268.9" r="7"/>
<circle cx="443.8" cy="357.7" r="7"/>
<circle cx="337.5" cy="332.1" r="7"/>
<circle cx="347.9" cy="248.0" r="7"/>
<circle cx="595.9" cy="216.7" r="7"/>
<circle cx="467.2" cy="286.4" r="7"/>
<circle cx="605.3" cy="426.3" r="7"/>
<circle cx="405.5" cy="277.2" r="7"/>
<circle cx="796.9" cy="324.4" r="7"/>
<circle cx="713.0" cy="871.9" r="7"/>
<circle cx="649.9" cy="223.2" r="7"/>
<circle cx="429.3" cy="273.5" r="7"/>
<circle cx="938.8" cy="835.9" r="7"/>
<circle cx="691.0" cy="560.0" r="7"/>
<circle cx="761.8" cy="884.7" r="7"/>
<circle cx="610.7" cy="448.3" r="7"/>
<circle cx="825.1" cy="804.1" r="7"/>
<circle cx="813.4" cy="931.6" r="7"/>
<circle cx="689.3" cy="852.7" r="7"/>
<circle cx="809.6" cy="320.0" r="7"/>
<circle cx="437.8" cy="810.8" r="7"/>
<circle cx="326.8" cy="543.2" r="7"/>
<circle cx="534.7" cy="879.8" r="7"/>
<circle cx="717.7" cy="274.0" r="7"/>
<circle cx="764.2" cy="781.0" r="7"/>
<circle cx="701.5" cy="269.0" r="7"/>
<circle cx="580.8" cy="888.8" r="7"/>
<circle cx="844.1" cy="615.6" r="7"/>
<circle cx="507.4" cy="229.1" r="7"/>
<circle cx="484.5" cy="769.9" r="7"/>
<circle cx="520.3" cy="1013.9" r="7"/>
<circle cx="796.3" cy="921.5" r="7"/>
<circle cx="700.4" cy="839.7" r="7"/>
<circle cx="987.4" cy="843.3" r="7"/>
<circle cx="801.9" cy="429.8" r="7"/>
<circle cx="695.9" cy="975.7" r="7"/>
<circle cx="489.8" cy="338.1" r="7"/>
<circle cx="504.7" cy="349.4" r="7"/>
<circle cx="361.4" cy="381.2" r="7"/>
<circle cx="535.3" cy="360.9" r="7"/>
<circle cx="618.7" cy="938.1" r="7"/>
<circle cx="966.8" cy="810.5" r="7"/>
<circle cx="354.7" cy="411.2" r="7"/>
<circle cx="322.8" cy="557.8" r="7"/>
<circle cx="803.3" cy="760.9" r="7"/>
<circle cx="749.1" cy="484.9" r="7"/>
<circle cx="604.3" cy="414.9" r="7"/>
<circle cx="724.0" cy="949.0" r="7"/>
<circle cx="672.6" cy="825.3" r="7"/>
<circle cx="708.0" cy="642.1" r="7"/>
<circle cx="671.2" cy="990.3" r="7"/>
<circle cx="730.8" cy="286.0" r="7"/>
<circle cx="689.2" cy="959.0" r="7"/>
<circle cx="685.4" cy="1017.0" r="7"/>
<circle cx="300.4" cy="372.8" r="7"/>
<circle cx="776.7" cy="297.9" r="7"/>
<circle cx="809.9" cy="898.2" r="7"/>
<circle cx="653.6" cy="855.6" r="7"/>
<circle cx="351.1" cy="241.3" r="7"/>
<circle cx="539.9" cy="1049.1" r="7"/>
<circle cx="333.7" cy="384.5" r="7"/>
<circle cx="491.8" cy="298.0" r="7"/>
<circle cx="571.8" cy="261.0" r="7"/>
<circle cx="752.0" cy="788.1" r="7"/>
<circle cx="704.0" cy="1043.3" r="7"/>
<circle cx="956.6" cy="655.5" r="7"/>
<circle cx="668.0" cy="245.1" r="7"/>
<circle cx="624.3" cy="1053.0" r="7"/>
<circle cx="420.2" cy="745.9" r="7"/>
<circle cx="527.2" cy="364.2" r="7"/>
<circle cx="319.0" cy="507.1" r="7"/>
<circle cx="304.3" cy="411.7" r="7"/>
<circle cx="330.1" cy="481.2" r="7"/>
<circle cx="303.7" cy="430.5" r="7"/>
<circle cx="642.9" cy="1048.8" r="7"/>
<circle cx="522.6" cy="511.7" r="7"/>
<circle cx="791.9" cy="271.2" r="7"/>
<circle cx="622.9" cy="1024.8" r="7"/>
<circle cx="560.6" cy="197.4" r="7"/>
<circle cx="615.2" cy="245.6" r="7"/>
<circle cx="434.6" cy="224.9" r="7"/>
<circle cx="542.0" cy="550.5" r="7"/>
<circle cx="861.0" cy="548.6" r="7"/>
<circle cx="449.6" cy="727.5" r="7"/>
<circle cx="620.8" cy="678.8" r="7"/>
<circle cx="674.5" cy="814.0" r="7"/>
<circle cx="511.8" cy="339.1" r="7"/>
<circle cx="445.7" cy="707.8" r="7"/>
<circle cx="687.8" cy="1022.2" r="7"/>
<circle cx="928.8" cy="631.4" r="7"/>
<circle cx="559.3" cy="572.0" r="7"/>
<circle cx="308.0" cy="421.9" r="7"/>
<circle cx="873.3" cy="630.9" r="7"/>
<circle cx="654.0" cy="675.0" r="7"/>
<circle cx="540.9" cy="218.3" r="7"/>
<circle cx="688.7" cy="763.7" r="7"/>
<circle cx="766.7" cy="880.8" r="7"/>
<circle cx="495.8" cy="946.2" r="7"/>
<circle cx="415.1" cy="707.6" r="7"/>
<circle cx="487.7" cy="253.9" r="7"/>
<circle cx="281.8" cy="333.2" r="7"/>
<circle cx="590.5" cy="571.7" r="7"/>
<circle cx="557.7" cy="505.4" r="7"/>
<circle cx="852.3" cy="906.1" r="7"/>
<circle cx="373.0" cy="503.0" r="7"/>
<circle cx="612.7" cy="254.9" r="7"/>
<circle cx="612.5" cy="286.2" r="7"/>
<circle cx="766.0" cy="314.4" r="7"/>
<circle cx="682.0" cy="556.0" r="7"/>
<circle cx="577.5" cy="817.8" r="7"/>
<circle cx="212.0" cy="440.0" r="7"/>
<circle cx="757.7" cy="275.1" r="7"/>
<circle cx="650.2" cy="494.2" r="7"/>
<circle cx="698.0" cy="488.4" r="7"/>
<circle cx="622.3" cy="532.1" r="7"/>
<circle cx="229.0" cy="325.0" r="7"/>
<circle cx="970.8" cy="821.6" r="7"/>
<circle cx="1002.8" cy="838.5" r="7"/>
<circle cx="531.1" cy="1028.2" r="7"/>
<circle cx="739.2" cy="792.5" r="7"/>
<circle cx="706.5" cy="278.6" r="7"/>
<circle cx="741.9" cy="646.9" r="7"/>
<circle cx="544.2" cy="1034.5" r="7"/>
<circle cx="407.7" cy="284.3" r="7"/>
<circle cx="747.8" cy="322.7" r="7"/>
<circle cx="300.0" cy="912.0" r="7"/>
<circle cx="692.3" cy="829.2" r="7"/>
<circle cx="314.8" cy="428.7" r="7"/>
<circle cx="367.0" cy="452.2" r="7"/>
<circle cx="586.3" cy="463.1" r="7"/>
<circle cx="596.4" cy="435.7" r="7"/>
<circle cx="545.0" cy="993.6" r="7"/>
<circle cx="360.3" cy="802.1" r="7"/>
<circle cx="687.1" cy="747.7" r="7"/>
<circle cx="639.2" cy="450.2" r="7"/>
<circle cx="360.1" cy="477.3" r="7"/>
<circle cx="501.1" cy="251.9" r="7"/>
<circle cx="423.3" cy="331.3" r="7"/>
<circle cx="662.5" cy="483.9" r="7"/>
<circle cx="939.3" cy="823.4" r="7"/>
<circle cx="933.0" cy="819.8" r="7"/>
<circle cx="781.4" cy="809.1" r="7"/>
<circle cx="592.4" cy="521.1" r="7"/>
<circle cx="927.0" cy="377.0" r="7"/>
<circle cx="351.9" cy="420.4" r="7"/>
<circle cx="698.5" cy="949.9" r="7"/>
<circle cx="803.5" cy="798.8" r="7"/>
<circle cx="638.7" cy="854.0" r="7"/>
<circle cx="528.6" cy="927.9" r="7"/>
<circle cx="763.0" cy="246.4" r="7"/>
<circle cx="540.9" cy="310.6" r="7"/>
<circle cx="468.9" cy="281.3" r="7"/>
<circle cx="393.6" cy="845.6" r="7"/>
<circle cx="737.9" cy="270.7" r="7"/>
<circle cx="733.8" cy="300.6" r="7"/>
<circle cx="406.4" cy="271.3" r="7"/>
<circle cx="647.6" cy="980.5" r="7"/>
<circle cx="941.4" cy="872.0" r="7"/>
<circle cx="541.5" cy="1001.1" r="7"/>
<circle cx="904.0" cy="432.0" r="7"/>
<circle cx="390.2" cy="348.9" r="7"/>
<circle cx="662.9" cy="803.7" r="7"/>
<circle cx="551.3" cy="416.8" r="7"/>
<circle cx="633.2" cy="970.1" r="7"/>
<circle cx="458.1" cy="297.2" r="7"/>
<circle cx="679.8" cy="253.8" r="7"/>
<circle cx="688.2" cy="454.2" r="7"/>
<circle cx="679.1" cy="963.6" r="7"/>
<circle cx="951.0" cy="276.0" r="7"/>
<circle cx="544.8" cy="1050.2" r="7"/>
<circle cx="402.5" cy="478.0" r="7"/>
<circle cx="516.1" cy="342.6" r="7"/>
<circle cx="612.0" cy="431.6" r="7"/>
<circle cx="766.1" cy="525.0" r="7"/>
<circle cx="721.0" cy="995.0" r="7"/>
<circle cx="630.3" cy="252.4" r="7"/>
<circle cx="573.9" cy="990.7" r="7"/>
<circle cx="632.2" cy="1045.5" r="7"/>
<circle cx="803.8" cy="810.4" r="7"/>
<circle cx="444.2" cy="312.3" r="7"/>
<circle cx="460.5" cy="346.5" r="7"/>
<circle cx="504.0" cy="358.5" r="7"/>
<circle cx="380.0" cy="920.0" r="7"/>
<circle cx="616.2" cy="948.3" r="7"/>
<circle cx="714.4" cy="320.8" r="7"/>
<circle cx="355.3" cy="565.9" r="7"/>
<circle cx="855.9" cy="829.6" r="7"/>
<circle cx="669.0" cy="346.0" r="7"/>
<circle cx="674.2" cy="862.1" r="7"/>
<circle cx="693.1" cy="936.5" r="7"/>
<circle cx="404.2" cy="535.6" r="7"/>
<circle cx="588.4" cy="941.2" r="7"/>
<circle cx="444.4" cy="797.0" r="7"/>
<circle cx="638.4" cy="791.0" r="7"/>
<circle cx="281.3" cy="401.4" r="7"/>
<circle cx="497.6" cy="751.6" r="7"/>
<circle cx="806.6" cy="404.5" r="7"/>
<circle cx="640.1" cy="306.4" r="7"/>
<circle cx="456.1" cy="290.5" r="7"/>
<circle cx="600.7" cy="489.3" r="7"/>
<circle cx="329.2" cy="315.7" r="7"/>
<circle cx="721.2" cy="882.1" r="7"/>
<circle cx="698.6" cy="645.3" r="7"/>
<circle cx="319.2" cy="554.5" r="7"/>
<circle cx="906.0" cy="335.0" r="7"/>
<circle cx="662.9" cy="287.9" r="7"/>
<circle cx="456.8" cy="274.3" r="7"/>
<circle cx="314.7" cy="337.4" r="7"/>
<circle cx="839.3" cy="599.2" r="7"/>
<circle cx="347.6" cy="824.4" r="7"/>
<circle cx="1019.3" cy="822.4" r="7"/>
<circle cx="688.1" cy="820.5" r="7"/>
<circle cx="542.3" cy="853.7" r="7"/>
<circle cx="977.8" cy="672.8" r="7"/>
<circle cx="836.8" cy="590.7" r="7"/>
<circle cx="665.5" cy="861.2" r="7"/>
<circle cx="614.3" cy="458.0" r="7"/>
<circle cx="685.7" cy="1053.3" r="7"/>
<circle cx="500.6" cy="967.7" r="7"/>
<circle cx="971.1" cy="811.6" r="7"/>
<circle cx="372.2" cy="532.4" r="7"/>
<circle cx="527.3" cy="984.3" r="7"/>
<circle cx="408.4" cy="798.3" r="7"/>
<circle cx="220.0" cy="447.0" r="7"/>
<circle cx="508.3" cy="771.9" r="7"/>
<circle cx="504.0" cy="508.4" r="7"/>
<circle cx="566.8" cy="858.0" r="7"/>
<circle cx="416.5" cy="780.9" r="7"/>
<circle cx="681.0" cy="687.2" r="7"/>
<circle cx="767.9" cy="823.7" r="7"/>
<circle cx="650.0" cy="680.0" r="7"/>
<circle cx="413.3" cy="245.2" r="7"/>
<circle cx="615.9" cy="958.5" r="7"/>
<circle cx="528.8" cy="478.0" r="7"/>
<circle cx="614.8" cy="507.5" r="7"/>
<circle cx="535.6" cy="356.2" r="7"/>
<circle cx="727.1" cy="749.6" r="7"/>
<circle cx="343.3" cy="267.3" r="7"/>
<circle cx="399.4" cy="326.0" r="7"/>
<circle cx="737.4" cy="1019.5" r="7"/>
<circle cx="842.6" cy="719.4" r="7"/>
<circle cx="593.3" cy="864.2" r="7"/>
<circle cx="809.1" cy="703.8" r="7"/>
<circle cx="682.7" cy="878.4" r="7"/>
<circle cx="554.7" cy="533.9" r="7"/>
<circle cx="820.9" cy="840.7" r="7"/>
<circle cx="457.4" cy="328.6" r="7"/>
<circle cx="821.8" cy="584.3" r="7"/>
<circle cx="298.8" cy="384.9" r="7"/>
<circle cx="630.0" cy="355.0" r="7"/>
<circle cx="319.7" cy="531.2" r="7"/>
<circle cx="545.5" cy="924.2" r="7"/>
<circle cx="636.8" cy="948.7" r="7"/>
<circle cx="415.5" cy="322.0" r="7"/>
<circle cx="911.1" cy="877.0" r="7"/>
<circle cx="888.5" cy="647.6" r="7"/>
<circle cx="381.3" cy="494.5" r="7"/>
<circle cx="786.3" cy="519.2" r="7"/>
<circle cx="671.0" cy="924.0" r="7"/>
<circle cx="941.1" cy="572.5" r="7"/>
<circle cx="698.8" cy="231.6" r="7"/>
<circle cx="289.1" cy="355.7" r="7"/>
<circle cx="672.6" cy="858.0" r="7"/>
<circle cx="533.7" cy="1002.4" r="7"/>
<circle cx="443.9" cy="332.6" r="7"/>
<circle cx="317.9" cy="400.1" r="7"/>
<circle cx="740.9" cy="826.7" r="7"/>
<circle cx="464.5" cy="751.3" r="7"/>
<circle cx="909.0" cy="821.9" r="7"/>
<circle cx="623.7" cy="1034.5" r="7"/>
<circle cx="775.7" cy="835.6" r="7"/>
<circle cx="609.5" cy="730.2" r="7"/>
<circle cx="775.7" cy="473.5" r="7"/>
<circle cx="624.9" cy="271.9" r="7"/>
<circle cx="786.3" cy="857.7" r="7"/>
<circle cx="430.1" cy="727.5" r="7"/>
<circle cx="684.1" cy="322.4" r="7"/>
<circle cx="791.2" cy="266.6" r="7"/>
<circle cx="747.3" cy="276.1" r="7"/>
<circle cx="724.1" cy="264.7" r="7"/>
<circle cx="546.3" cy="917.5" r="7"/>
<circle cx="908.1" cy="931.1" r="7"/>
<circle cx="496.7" cy="312.2" r="7"/>
<circle cx="822.8" cy="821.8" r="7"/>
<circle cx="573.8" cy="316.4" r="7"/>
<circle cx="625.1" cy="889.7" r="7"/>
<circle cx="301.7" cy="403.9" r="7"/>
<circle cx="262.7" cy="304.8" r="7"/>
<circle cx="355.5" cy="272.7" r="7"/>
<circle cx="569.8" cy="545.7" r="7"/>
<circle cx="650.0" cy="697.0" r="7"/>
<circle cx="696.9" cy="273.3" r="7"/>
<circle cx="629.1" cy="871.5" r="7"/>
<circle cx="364.1" cy="822.3" r="7"/>
<circle cx="695.9" cy="258.8" r="7"/>
<circle cx="744.4" cy="838.7" r="7"/>
<circle cx="861.3" cy="845.4" r="7"/>
<circle cx="571.0" cy="1050.6" r="7"/>
<circle cx="821.7" cy="293.1" r="7"/>
<circle cx="334.8" cy="462.8" r="7"/>
<circle cx="821.1" cy="798.9" r="7"/>
<circle cx="696.3" cy="290.7" r="7"/>
<circle cx="454.0" cy="782.0" r="7"/>
<circle cx="755.9" cy="280.9" r="7"/>
<circle cx="403.5" cy="350.5" r="7"/>
<circle cx="454.1" cy="701.2" r="7"/>
<circle cx="558.1" cy="429.5" r="7"/>
<circle cx="818.4" cy="285.0" r="7"/>
<circle cx="639.4" cy="1070.3" r="7"/>
<circle cx="977.1" cy="647.7" r="7"/>
<circle cx="611.9" cy="719.2" r="7"/>
<circle cx="759.8" cy="875.0" r="7"/>
<circle cx="552.3" cy="930.8" r="7"/>
<circle cx="587.8" cy="706.5" r="7"/>
<circle cx="525.5" cy="974.4" r="7"/>
<circle cx="399.5" cy="434.8" r="7"/>
<circle cx="294.5" cy="485.3" r="7"/>
<circle cx="552.3" cy="539.9" r="7"/>
<circle cx="693.0" cy="407.0" r="7"/>
<circle cx="766.4" cy="742.3" r="7"/>
<circle cx="897.9" cy="587.8" r="7"/>
<circle cx="504.0" cy="972.3" r="7"/>
<circle cx="585.1" cy="866.2" r="7"/>
<circle cx="293.2" cy="391.5" r="7"/>
<circle cx="588.2" cy="235.7" r="7"/>
<circle cx="775.2" cy="625.7" r="7"/>
<circle cx="385.6" cy="358.9" r="7"/>
<circle cx="375.8" cy="381.9" r="7"/>
<circle cx="724.0" cy="949.0" r="7"/>
<circle cx="719.6" cy="877.4" r="7"/>
<circle cx="739.2" cy="1040.2" r="7"/>
<circle cx="941.3" cy="800.6" r="7"/>
<circle cx="488.5" cy="396.0" r="7"/>
<circle cx="884.0" cy="614.5" r="7"/>
<circle cx="326.9" cy="456.4" r="7"/>
<circle cx="580.9" cy="790.0" r="7"/>
<circle cx="1030.0" cy="455.0" r="7"/>
<circle cx="786.2" cy="952.6" r="7"/>
<circle cx="575.9" cy="890.1" r="7"/>
<circle cx="913.5" cy="821.0" r="7"/>
<circle cx="803.7" cy="310.9" r="7"/>
<circle cx="737.0" cy="699.3" r="7"/>
<circle cx="603.9" cy="240.5" r="7"/>
<circle cx="376.8" cy="751.3" r="7"/>
<circle cx="809.7" cy="921.0" r="7"/>
<circle cx="490.1" cy="723.4" r="7"/>
<circle cx="457.1" cy="364.5" r="7"/>
<circle cx="843.3" cy="824.7" r="7"/>
<circle cx="822.5" cy="955.8" r="7"/>
<circle cx="654.7" cy="267.0" r="7"/>
<circle cx="766.5" cy="442.8" r="7"/>
<circle cx="776.9" cy="880.2" r="7"/>
<circle cx="455.0" cy="253.6" r="7"/>
<circle cx="575.9" cy="874.6" r="7"/>
<circle cx="777.0" cy="899.2" r="7"/>
<circle cx="287.2" cy="417.7" r="7"/>
<circle cx="753.0" cy="561.5" r="7"/>
<circle cx="540.9" cy="847.3" r="7"/>
<circle cx="641.2" cy="250.0" r="7"/>
<circle cx="777.9" cy="874.9" r="7"/>
<circle cx="394.4" cy="250.7" r="7"/>
<circle cx="524.5" cy="994.3" r="7"/>
<circle cx="901.2" cy="924.5" r="7"/>
<circle cx="742.5" cy="262.6" r="7"/>
<circle cx="880.8" cy="851.3" r="7"/>
<circle cx="944.3" cy="879.5" r="7"/>
<circle cx="488.9" cy="390.0" r="7"/>
<circle cx="437.2" cy="273.2" r="7"/>
<circle cx="322.6" cy="444.8" r="7"/>
<circle cx="560.3" cy="1054.3" r="7"/>
<circle cx="896.8" cy="667.7" r="7"/>
<circle cx="368.0" cy="458.1" r="7"/>
<circle cx="413.3" cy="542.0" r="7"/>
<circle cx="546.5" cy="794.4" r="7"/>
<circle cx="558.3" cy="1040.3" r="7"/>
<circle cx="650.0" cy="380.0" r="7"/>
<circle cx="401.3" cy="789.1" r="7"/>
<circle cx="522.9" cy="880.1" r="7"/>
<circle cx="691.1" cy="955.4" r="7"/>
<circle cx="549.5" cy="1000.4" r="7"/>
<circle cx="465.0" cy="416.0" r="7"/>
<circle cx="504.7" cy="500.7" r="7"/>
<circle cx="761.6" cy="695.5" r="7"/>
<circle cx="298.0" cy="389.5" r="7"/>
<circle cx="810.4" cy="890.9" r="7"/>
<circle cx="791.7" cy="863.4" r="7"/>
<circle cx="429.1" cy="248.4" r="7"/>
<circle cx="740.9" cy="490.9" r="7"/>
<circle cx="544.4" cy="913.5" r="7"/>
<circle cx="950.9" cy="840.8" r="7"/>
<circle cx="987.0" cy="327.0" r="7"/>
<circle cx="843.0" cy="552.0" r="7"/>
<circle cx="665.6" cy="994.6" r="7"/>
<circle cx="698.7" cy="652.0" r="7"/>
<circle cx="362.1" cy="436.0" r="7"/>
<circle cx="520.8" cy="541.7" r="7"/>
<circle cx="693.3" cy="655.8" r="7"/>
<circle cx="793.1" cy="623.4" r="7"/>
<circle cx="892.7" cy="586.1" r="7"/>
<circle cx="473.2" cy="344.2" r="7"/>
<circle cx="650.8" cy="998.6" r="7"/>
<circle cx="733.9" cy="919.0" r="7"/>
<circle cx="920.0" cy="787.1" r="7"/>
<circle cx="564.4" cy="546.1" r="7"/>
<circle cx="788.5" cy="903.3" r="7"/>
<circle cx="490.0" cy="312.8" r="7"/>
<circle cx="393.4" cy="428.5" r="7"/>
<circle cx="731.2" cy="815.6" r="7"/>
<circle cx="662.0" cy="274.8" r="7"/>
<circle cx="591.9" cy="898.5" r="7"/>
<circle cx="778.4" cy="874.6" r="7"/>
<circle cx="576.5" cy="933.8" r="7"/>
<circle cx="358.8" cy="501.8" r="7"/>
<circle cx="733.1" cy="462.1" r="7"/>
<circle cx="892.9" cy="874.9" r="7"/>
<circle cx="740.0" cy="869.1" r="7"/>
<circle cx="819.1" cy="959.4" r="7"/>
<circle cx="770.7" cy="491.5" r="7"/>
<circle cx="592.9" cy="1075.0" r="7"/>
<circle cx="919.0" cy="590.7" r="7"/>
<circle cx="347.0" cy="493.5" r="7"/>
<circle cx="411.7" cy="378.7" r="7"/>
<circle cx="746.6" cy="752.5" r="7"/>
<circle cx="556.4" cy="316.9" r="7"/>
<circle cx="638.0" cy="979.2" r="7"/>
<circle cx="288.1" cy="382.5" r="7"/>
<circle cx="669.8" cy="830.7" r="7"/>
<circle cx="727.6" cy="906.9" r="7"/>
<circle cx="759.2" cy="267.8" r="7"/>
<circle cx="538.8" cy="303.4" r="7"/>
<circle cx="361.7" cy="559.1" r="7"/>
<circle cx="740.6" cy="741.3" r="7"/>
<circle cx="632.0" cy="385.0" r="7"/>
<circle cx="612.3" cy="895.4" r="7"/>
<circle cx="511.9" cy="347.0" r="7"/>
<circle cx="682.2" cy="229.1" r="7"/>
<circle cx="856.0" cy="618.5" r="7"/>
<circle cx="349.5" cy="740.3" r="7"/>
<circle cx="880.3" cy="666.8" r="7"/>
<circle cx="888.7" cy="621.8" r="7"/>
<circle cx="592.3" cy="271.7" r="7"/>
<circle cx="485.2" cy="280.6" r="7"/>
<circle cx="723.2" cy="819.0" r="7"/>
<circle cx="612.4" cy="1042.5" r="7"/>
<circle cx="685.7" cy="872.6" r="7"/>
<circle cx="553.8" cy="225.3" r="7"/>
<circle cx="366.0" cy="337.4" r="7"/>
<circle cx="912.0" cy="792.4" r="7"/>
<circle cx="857.0" cy="722.0" r="7"/>
<circle cx="364.7" cy="268.2" r="7"/>
<circle cx="384.2" cy="407.4" r="7"/>
<circle cx="478.5" cy="390.2" r="7"/>
<circle cx="636.5" cy="857.4" r="7"/>
<circle cx="468.8" cy="733.0" r="7"/>
<circle cx="539.5" cy="975.8" r="7"/>
<circle cx="838.1" cy="429.3" r="7"/>
<circle cx="318.5" cy="388.7" r="7"/>
<circle cx="863.4" cy="832.1" r="7"/>
<circle cx="630.6" cy="1072.3" r="7"/>
<circle cx="748.7" cy="829.1" r="7"/>
<circle cx="343.8" cy="368.8" r="7"/>
<circle cx="495.1" cy="292.1" r="7"/>
<circle cx="908.5" cy="635.1" r="7"/>
<circle cx="662.0" cy="410.0" r="7"/>
<circle cx="329.2" cy="302.3" r="7"/>
<circle cx="689.0" cy="295.8" r="7"/>
<circle cx="458.5" cy="313.7" r="7"/>
<circle cx="561.6" cy="923.2" r="7"/>
<circle cx="598.5" cy="710.1" r="7"/>
<circle cx="707.0" cy="665.8" r="7"/>
<circle cx="381.8" cy="509.3" r="7"/>
<circle cx="687.4" cy="803.5" r="7"/>
<circle cx="358.7" cy="370.3" r="7"/>
<circle cx="582.6" cy="282.3" r="7"/>
<circle cx="664.3" cy="743.8" r="7"/>
<circle cx="745.3" cy="804.2" r="7"/>
<circle cx="832.4" cy="728.2" r="7"/>
<circle cx="862.0" cy="279.0" r="7"/>
<circle cx="515.6" cy="536.2" r="7"/>
<circle cx="356.6" cy="449.8" r="7"/>
<circle cx="610.0" cy="355.0" r="7"/>
<circle cx="805.9" cy="614.7" r="7"/>
<circle cx="389.9" cy="531.9" r="7"/>
<circle cx="551.6" cy="399.6" r="7"/>
<circle cx="412.9" cy="828.7" r="7"/>
<circle cx="642.1" cy="973.8" r="7"/>
<circle cx="320.6" cy="449.6" r="7"/>
<circle cx="803.0" cy="765.6" r="7"/>
<circle cx="326.6" cy="823.0" r="7"/>
<circle cx="658.3" cy="252.9" r="7"/>
<circle cx="519.0" cy="895.4" r="7"/>
<circle cx="528.8" cy="561.1" r="7"/>
<circle cx="748.7" cy="824.5" r="7"/>
<circle cx="709.6" cy="762.2" r="7"/>
<circle cx="593.1" cy="951.0" r="7"/>
<circle cx="661.8" cy="865.9" r="7"/>
<circle cx="546.5" cy="418.0" r="7"/>
<circle cx="803.5" cy="837.0" r="7"/>
<circle cx="807.2" cy="293.4" r="7"/>
<circle cx="442.9" cy="731.9" r="7"/>
<circle cx="508.4" cy="214.0" r="7"/>
<circle cx="906.0" cy="596.7" r="7"/>
<circle cx="610.4" cy="773.9" r="7"/>
<circle cx="630.0" cy="263.2" r="7"/>
<circle cx="453.6" cy="369.5" r="7"/>
<circle cx="645.6" cy="258.7" r="7"/>
<circle cx="391.5" cy="706.8" r="7"/>
<circle cx="769.7" cy="253.3" r="7"/>
<circle cx="614.8" cy="969.6" r="7"/>
<circle cx="821.1" cy="812.7" r="7"/>
<circle cx="743.0" cy="292.5" r="7"/>
<circle cx="375.8" cy="349.2" r="7"/>
<circle cx="858.3" cy="575.8" r="7"/>
<circle cx="770.3" cy="420.8" r="7"/>
<circle cx="917.8" cy="680.0" r="7"/>
<circle cx="674.9" cy="871.9" r="7"/>
<circle cx="353.2" cy="287.2" r="7"/>
<circle cx="564.3" cy="317.1" r="7"/>
<circle cx="457.3" cy="722.6" r="7"/>
<circle cx="882.0" cy="659.2" r="7"/>
<circle cx="449.5" cy="304.5" r="7"/>
<circle cx="945.2" cy="890.4" r="7"/>
<circle cx="944.0" cy="389.0" r="7"/>
<circle cx="656.6" cy="208.1" r="7"/>
<circle cx="295.8" cy="358.2" r="7"/>
<circle cx="942.7" cy="859.0" r="7"/>
<circle cx="839.7" cy="534.2" r="7"/>
<circle cx="695.0" cy="405.0" r="7"/>
<circle cx="861.9" cy="703.5" r="7"/>
<circle cx="679.0" cy="407.0" r="7"/>
<circle cx="821.9" cy="760.7" r="7"/>
<circle cx="844.6" cy="565.8" r="7"/>
<circle cx="348.3" cy="521.5" r="7"/>
<circle cx="221.1" cy="328.8" r="7"/>
<circle cx="838.0" cy="432.0" r="7"/>
<circle cx="739.4" cy="630.2" r="7"/>
<circle cx="326.2" cy="380.4" r="7"/>
<circle cx="777.8" cy="633.9" r="7"/>
<circle cx="908.3" cy="873.0" r="7"/>
<circle cx="514.8" cy="950.0" r="7"/>
<circle cx="503.2" cy="272.9" r="7"/>
<circle cx="269.0" cy="365.1" r="7"/>
<circle cx="364.6" cy="385.9" r="7"/>
<circle cx="409.5" cy="544.7" r="7"/>
<circle cx="332.2" cy="299.2" r="7"/>
<circle cx="504.6" cy="737.5" r="7"/>
<circle cx="533.5" cy="459.1" r="7"/>
<circle cx="370.4" cy="751.9" r="7"/>
<circle cx="731.3" cy="741.9" r="7"/>
<circle cx="586.6" cy="256.2" r="7"/>
<circle cx="638.5" cy="786.7" r="7"/>
<circle cx="747.8" cy="701.3" r="7"/>
<circle cx="359.2" cy="404.6" r="7"/>
<circle cx="1005.0" cy="844.0" r="7"/>
<circle cx="596.5" cy="242.3" r="7"/>
<circle cx="575.0" cy="694.0" r="7"/>
<circle cx="288.0" cy="499.6" r="7"/>
<circle cx="762.4" cy="691.0" r="7"/>
<circle cx="386.5" cy="329.8" r="7"/>
<circle cx="610.2" cy="548.4" r="7"/>
<circle cx="696.9" cy="761.5" r="7"/>
<circle cx="419.6" cy="385.0" r="7"/>
<circle cx="718.7" cy="449.3" r="7"/>
<circle cx="387.3" cy="707.0" r="7"/>
<circle cx="478.3" cy="353.9" r="7"/>
<circle cx="834.5" cy="924.1" r="7"/>
<circle cx="606.7" cy="875.8" r="7"/>
<circle cx="542.3" cy="884.9" r="7"/>
<circle cx="948.6" cy="825.9" r="7"/>
<circle cx="503.6" cy="457.0" r="7"/>
<circle cx="844.4" cy="630.4" r="7"/>
<circle cx="393.1" cy="263.6" r="7"/>
<circle cx="370.2" cy="468.6" r="7"/>
<circle cx="347.1" cy="396.6" r="7"/>
<circle cx="895.4" cy="891.8" r="7"/>
<circle cx="807.6" cy="324.0" r="7"/>
<circle cx="911.8" cy="870.9" r="7"/>
<circle cx="579.5" cy="724.6" r="7"/>
<circle cx="766.0" cy="832.4" r="7"/>
<circle cx="765.3" cy="837.2" r="7"/>
<circle cx="674.5" cy="973.7" r="7"/>
<circle cx="910.9" cy="804.1" r="7"/>
<circle cx="603.8" cy="277.6" r="7"/>
<circle cx="496.0" cy="840.0" r="7"/>
<circle cx="729.7" cy="890.5" r="7"/>
<circle cx="505.6" cy="982.2" r="7"/>
<circle cx="774.4" cy="869.3" r="7"/>
<circle cx="585.3" cy="508.4" r="7"/>
<circle cx="860.7" cy="623.4" r="7"/>
<circle cx="777.6" cy="446.7" r="7"/>
<circle cx="514.1" cy="506.3" r="7"/>
<circle cx="819.5" cy="477.2" r="7"/>
<circle cx="1051.0" cy="292.0" r="7"/>
<circle cx="292.5" cy="400.5" r="7"/>
<circle cx="659.8" cy="522.6" r="7"/>
<circle cx="797.3" cy="748.3" r="7"/>
<circle cx="654.7" cy="1024.1" r="7"/>
<circle cx="918.5" cy="667.6" r="7"/>
<circle cx="555.7" cy="983.4" r="7"/>
<circle cx="347.9" cy="812.4" r="7"/>
<circle cx="610.4" cy="946.3" r="7"/>
<circle cx="696.3" cy="770.1" r="7"/>
<circle cx="493.9" cy="333.9" r="7"/>
<circle cx="805.1" cy="950.1" r="7"/>
<circle cx="209.0" cy="412.0" r="7"/>
<circle cx="694.0" cy="580.0" r="7"/>
<circle cx="560.5" cy="760.3" r="7"/>
<circle cx="821.1" cy="299.7" r="7"/>
<circle cx="269.1" cy="348.3" r="7"/>
<circle cx="745.8" cy="306.3" r="7"/>
<circle cx="767.7" cy="801.0" r="7"/>
<circle cx="533.3" cy="985.4" r="7"/>
<circle cx="648.7" cy="1015.4" r="7"/>
<circle cx="727.2" cy="273.0" r="7"/>
<circle cx="370.0" cy="275.1" r="7"/>
<circle cx="320.1" cy="489.0" r="7"/>
<circle cx="233.8" cy="397.3" r="7"/>
<circle cx="522.5" cy="478.1" r="7"/>
<circle cx="754.5" cy="703.6" r="7"/>
<circle cx="835.0" cy="787.0" r="7"/>
<circle cx="630.3" cy="487.8" r="7"/>
<circle cx="665.3" cy="241.4" r="7"/>
<circle cx="743.1" cy="699.2" r="7"/>
<circle cx="756.1" cy="246.2" r="7"/>
<circle cx="368.9" cy="375.5" r="7"/>
<circle cx="456.5" cy="854.2" r="7"/>
<circle cx="670.0" cy="347.0" r="7"/>
<circle cx="740.0" cy="323.3" r="7"/>
<circle cx="424.0" cy="476.0" r="7"/>
<circle cx="598.3" cy="824.2" r="7"/>
<circle cx="486.8" cy="713.5" r="7"/>
<circle cx="244.0" cy="480.0" r="7"/>
<circle cx="415.2" cy="292.2" r="7"/>
<circle cx="712.9" cy="240.3" r="7"/>
<circle cx="467.5" cy="359.3" r="7"/>
<circle cx="729.5" cy="304.6" r="7"/>
<circle cx="834.0" cy="440.0" r="7"/>
<circle cx="951.0" cy="584.3" r="7"/>
<circle cx="282.0" cy="397.0" r="7"/>
<circle cx="852.0" cy="424.0" r="7"/>
<circle cx="415.4" cy="394.8" r="7"/>
<circle cx="563.5" cy="1060.1" r="7"/>
<circle cx="696.1" cy="222.2" r="7"/>
<circle cx="639.5" cy="776.3" r="7"/>
<circle cx="284.0" cy="427.0" r="7"/>
<circle cx="461.6" cy="705.0" r="7"/>
<circle cx="468.1" cy="364.8" r="7"/>
<circle cx="525.5" cy="488.4" r="7"/>
<circle cx="778.8" cy="742.5" r="7"/>
<circle cx="397.6" cy="428.2" r="7"/>
<circle cx="418.9" cy="396.8" r="7"/>
<circle cx="348.6" cy="831.9" r="7"/>
<circle cx="398.7" cy="525.6" r="7"/>
<circle cx="639.2" cy="955.5" r="7"/>
<circle cx="809.2" cy="829.6" r="7"/>
<circle cx="652.9" cy="792.7" r="7"/>
<circle cx="651.6" cy="695.4" r="7"/>
<circle cx="858.7" cy="892.0" r="7"/>
<circle cx="892.5" cy="652.6" r="7"/>
<circle cx="307.9" cy="327.7" r="7"/>
<circle cx="849.9" cy="573.0" r="7"/>
<circle cx="822.2" cy="900.9" r="7"/>
<circle cx="962.1" cy="783.0" r="7"/>
<circle cx="611.1" cy="781.1" r="7"/>
<circle cx="425.3" cy="341.1" r="7"/>
<circle cx="696.0" cy="811.7" r="7"/>
<circle cx="333.3" cy="273.4" r="7"/>
<circle cx="536.3" cy="280.9" r="7"/>
<circle cx="341.4" cy="404.6" r="7"/>
<circle cx="895.0" cy="596.2" r="7"/>
<circle cx="745.2" cy="921.0" r="7"/>
<circle cx="926.9" cy="851.3" r="7"/>
<circle cx="771.5" cy="904.2" r="7"/>
<circle cx="572.4" cy="835.1" r="7"/>
<circle cx="505.0" cy="425.0" r="7"/>
<circle cx="369.7" cy="420.5" r="7"/>
<circle cx="670.6" cy="1033.4" r="7"/>
<circle cx="724.0" cy="732.8" r="7"/>
<circle cx="762.9" cy="899.1" r="7"/>
<circle cx="543.4" cy="840.2" r="7"/>
<circle cx="454.9" cy="718.5" r="7"/>
<circle cx="751.3" cy="837.6" r="7"/>
<circle cx="344.6" cy="545.4" r="7"/>
<circle cx="623.6" cy="1011.1" r="7"/>
<circle cx="395.6" cy="363.0" r="7"/>
<circle cx="773.1" cy="425.2" r="7"/>
<circle cx="474.2" cy="268.6" r="7"/>
<circle cx="691.9" cy="813.5" r="7"/>
<circle cx="925.5" cy="586.9" r="7"/>
<circle cx="352.0" cy="396.0" r="7"/>
<circle cx="832.2" cy="693.8" r="7"/>
<circle cx="610.5" cy="522.6" r="7"/>
<circle cx="629.6" cy="441.1" r="7"/>
<circle cx="387.1" cy="828.5" r="7"/>
<circle cx="534.2" cy="452.5" r="7"/>
<circle cx="823.3" cy="725.5" r="7"/>
<circle cx="357.8" cy="365.6" r="7"/>
<circle cx="773.2" cy="308.4" r="7"/>
<circle cx="946.4" cy="829.4" r="7"/>
<circle cx="599.6" cy="740.5" r="7"/>
<circle cx="369.4" cy="521.0" r="7"/>
<circle cx="673.8" cy="655.0" r="7"/>
<circle cx="709.3" cy="743.5" r="7"/>
<circle cx="771.9" cy="273.8" r="7"/>
<circle cx="849.3" cy="887.6" r="7"/>
<circle cx="529.0" cy="544.2" r="7"/>
<circle cx="809.3" cy="836.6" r="7"/>
<circle cx="888.3" cy="901.6" r="7"/>
<circle cx="321.6" cy="364.8" r="7"/>
<circle cx="435.8" cy="815.7" r="7"/>
<circle cx="649.9" cy="256.1" r="7"/>
<circle cx="974.1" cy="835.0" r="7"/>
<circle cx="418.8" cy="250.4" r="7"/>
<circle cx="219.3" cy="335.5" r="7"/>
<circle cx="765.8" cy="857.1" r="7"/>
<circle cx="433.3" cy="855.1" r="7"/>
<circle cx="561.6" cy="310.5" r="7"/>
<circle cx="573.3" cy="938.6" r="7"/>
<circle cx="614.2" cy="887.0" r="7"/>
<circle cx="569.0" cy="1022.6" r="7"/>
<circle cx="522.4" cy="350.8" r="7"/>
<circle cx="758.9" cy="716.4" r="7"/>
<circle cx="682.1" cy="749.4" r="7"/>
<circle cx="797.7" cy="871.3" r="7"/>
<circle cx="444.0" cy="380.1" r="7"/>
<circle cx="345.3" cy="487.0" r="7"/>
<circle cx="656.5" cy="739.5" r="7"/>
<circle cx="346.0" cy="405.6" r="7"/>
<circle cx="212.0" cy="380.0" r="7"/>
<circle cx="618.3" cy="973.4" r="7"/>
<circle cx="728.0" cy="840.6" r="7"/>
<circle cx="650.5" cy="508.9" r="7"/>
<circle cx="848.1" cy="824.3" r="7"/>
<circle cx="696.3" cy="709.1" r="7"/>
<circle cx="819.1" cy="909.3" r="7"/>
<circle cx="898.8" cy="591.7" r="7"/>
<circle cx="841.9" cy="830.2" r="7"/>
<circle cx="567.4" cy="1057.3" r="7"/>
<circle cx="312.3" cy="546.1" r="7"/>
<circle cx="560.6" cy="1015.7" r="7"/>
<circle cx="421.4" cy="228.6" r="7"/>
<circle cx="468.0" cy="322.6" r="7"/>
<circle cx="711.1" cy="851.6" r="7"/>
<circle cx="366.3" cy="731.9" r="7"/>
<circle cx="357.0" cy="937.0" r="7"/>
<circle cx="697.2" cy="866.3" r="7"/>
<circle cx="606.4" cy="571.5" r="7"/>
<circle cx="889.0" cy="505.0" r="7"/>
<circle cx="714.1" cy="785.6" r="7"/>
<circle cx="673.2" cy="743.6" r="7"/>
<circle cx="409.3" cy="307.7" r="7"/>
<circle cx="591.3" cy="702.5" r="7"/>
<circle cx="486.6" cy="349.9" r="7"/>
<circle cx="399.4" cy="233.2" r="7"/>
<circle cx="538.3" cy="466.2" r="7"/>
<circle cx="414.8" cy="249.3" r="7"/>
<circle cx="922.8" cy="784.1" r="7"/>
<circle cx="399.0" cy="709.7" r="7"/>
<circle cx="830.3" cy="612.7" r="7"/>
<circle cx="789.6" cy="851.3" r="7"/>
<circle cx="741.2" cy="813.6" r="7"/>
<circle cx="514.4" cy="306.4" r="7"/>
<circle cx="692.8" cy="1014.0" r="7"/>
<circle cx="640.0" cy="806.6" r="7"/>
<circle cx="909.0" cy="376.0" r="7"/>
<circle cx="703.1" cy="989.6" r="7"/>
<circle cx="498.0" cy="370.8" r="7"/>
<circle cx="551.5" cy="315.0" r="7"/>
<circle cx="628.2" cy="533.7" r="7"/>
<circle cx="395.6" cy="745.5" r="7"/>
<circle cx="470.5" cy="299.6" r="7"/>
<circle cx="589.4" cy="810.8" r="7"/>
<circle cx="666.4" cy="1046.6" r="7"/>
<circle cx="451.0" cy="764.2" r="7"/>
<circle cx="475.0" cy="927.0" r="7"/>
<circle cx="773.8" cy="713.5" r="7"/>
<circle cx="641.6" cy="312.2" r="7"/>
<circle cx="742.2" cy="529.1" r="7"/>
<circle cx="563.1" cy="959.6" r="7"/>
<circle cx="714.4" cy="246.4" r="7"/>
<circle cx="958.3" cy="640.4" r="7"/>
<circle cx="780.6" cy="912.3" r="7"/>
<circle cx="574.1" cy="828.4" r="7"/>
<circle cx="600.1" cy="495.9" r="7"/>
<circle cx="672.9" cy="1029.7" r="7"/>
<circle cx="767.0" cy="747.4" r="7"/>
<circle cx="484.0" cy="902.0" r="7"/>
<circle cx="537.1" cy="901.7" r="7"/>
<circle cx="963.4" cy="799.7" r="7"/>
<circle cx="905.5" cy="601.2" r="7"/>
<circle cx="714.6" cy="839.9" r="7"/>
<circle cx="743.6" cy="234.5" r="7"/>
<circle cx="908.1" cy="846.5" r="7"/>
<circle cx="644.0" cy="931.5" r="7"/>
<circle cx="371.1" cy="299.0" r="7"/>
<circle cx="796.5" cy="821.3" r="7"/>
<circle cx="949.8" cy="625.5" r="7"/>
<circle cx="639.5" cy="692.0" r="7"/>
<circle cx="311.1" cy="497.5" r="7"/>
<circle cx="800.4" cy="892.3" r="7"/>
<circle cx="614.4" cy="1006.1" r="7"/>
<circle cx="1024.9" cy="802.4" r="7"/>
<circle cx="1032.0" cy="265.0" r="7"/>
<circle cx="516.1" cy="233.1" r="7"/>
<circle cx="668.8" cy="324.0" r="7"/>
<circle cx="837.5" cy="837.0" r="7"/>
<circle cx="942.5" cy="632.5" r="7"/>
<circle cx="672.7" cy="1024.9" r="7"/>
<circle cx="833.6" cy="897.8" r="7"/>
<circle cx="1070.0" cy="452.0" r="7"/>
<circle cx="583.9" cy="994.9" r="7"/>
<circle cx="591.7" cy="692.8" r="7"/>
<circle cx="447.8" cy="857.7" r="7"/>
<circle cx="785.4" cy="766.1" r="7"/>
<circle cx="909.6" cy="644.2" r="7"/>
<circle cx="393.3" cy="548.0" r="7"/>
<circle cx="386.2" cy="346.8" r="7"/>
<circle cx="607.0" cy="533.2" r="7"/>
<circle cx="690.8" cy="779.9" r="7"/>
<circle cx="337.3" cy="444.1" r="7"/>
<circle cx="623.5" cy="461.5" r="7"/>
<circle cx="559.3" cy="234.3" r="7"/>
<circle cx="698.2" cy="470.1" r="7"/>
<circle cx="579.6" cy="814.0" r="7"/>
<circle cx="416.6" cy="355.1" r="7"/>
<circle cx="597.0" cy="402.0" r="7"/>
<circle cx="552.3" cy="461.2" r="7"/>
<circle cx="588.4" cy="987.9" r="7"/>
<circle cx="236.0" cy="324.0" r="7"/>
<circle cx="865.5" cy="651.2" r="7"/>
<circle cx="696.1" cy="688.9" r="7"/>
<circle cx="439.9" cy="377.7" r="7"/>
<circle cx="375.6" cy="260.8" r="7"/>
<circle cx="782.4" cy="929.7" r="7"/>
<circle cx="511.3" cy="999.9" r="7"/>
<circle cx="613.3" cy="235.3" r="7"/>
<circle cx="607.1" cy="815.0" r="7"/>
<circle cx="596.9" cy="526.8" r="7"/>
<circle cx="703.8" cy="870.2" r="7"/>
<circle cx="421.1" cy="786.7" r="7"/>
<circle cx="503.0" cy="392.0" r="7"/>
<circle cx="712.0" cy="514.0" r="7"/>
<circle cx="377.9" cy="286.1" r="7"/>
<circle cx="753.0" cy="738.0" r="7"/>
<circle cx="863.6" cy="838.6" r="7"/>
<circle cx="743.6" cy="852.1" r="7"/>
<circle cx="742.0" cy="284.5" r="7"/>
<circle cx="695.2" cy="1035.8" r="7"/>
<circle cx="1005.0" cy="260.0" r="7"/>
<circle cx="593.3" cy="249.6" r="7"/>
<circle cx="837.3" cy="943.4" r="7"/>
<circle cx="318.1" cy="281.2" r="7"/>
<circle cx="715.6" cy="646.8" r="7"/>
<circle cx="795.4" cy="907.4" r="7"/>
<circle cx="799.5" cy="935.4" r="7"/>
<circle cx="301.3" cy="394.1" r="7"/>
<circle cx="910.0" cy="655.3" r="7"/>
<circle cx="907.1" cy="676.9" r="7"/>
<circle cx="707.0" cy="390.0" r="7"/>
<circle cx="722.7" cy="673.4" r="7"/>
<circle cx="598.4" cy="1010.2" r="7"/>
<circle cx="599.7" cy="969.6" r="7"/>
<circle cx="814.2" cy="331.9" r="7"/>
</g>
<g fill="#bcdde8" stroke="#3a3a3a" stroke-width="0.6">
<circle cx="365.0" cy="246.0" r="7"/>
<circle cx="413.0" cy="238.0" r="7"/>
<circle cx="466.0" cy="260.0" r="7"/>
<circle cx="462.0" cy="276.0" r="7"/>
<circle cx="499.0" cy="280.0" r="7"/>
<circle cx="449.0" cy="325.0" r="7"/>
<circle cx="453.0" cy="338.0" r="7"/>
<circle cx="423.0" cy="343.0" r="7"/>
<circle cx="430.0" cy="369.0" r="7"/>
<circle cx="340.0" cy="357.0" r="7"/>
<circle cx="284.0" cy="345.0" r="7"/>
<circle cx="211.0" cy="427.0" r="7"/>
<circle cx="431.0" cy="417.0" r="7"/>
<circle cx="400.0" cy="429.0" r="7"/>
<circle cx="507.0" cy="359.0" r="7"/>
<circle cx="340.0" cy="514.0" r="7"/>
<circle cx="348.0" cy="523.0" r="7"/>
<circle cx="359.0" cy="561.0" r="7"/>
<circle cx="368.0" cy="579.0" r="7"/>
<circle cx="391.0" cy="580.0" r="7"/>
<circle cx="433.0" cy="543.0" r="7"/>
<circle cx="434.0" cy="544.0" r="7"/>
<circle cx="517.0" cy="260.0" r="7"/>
<circle cx="594.0" cy="276.0" r="7"/>
<circle cx="599.0" cy="303.0" r="7"/>
<circle cx="667.0" cy="331.0" r="7"/>
<circle cx="765.0" cy="249.0" r="7"/>
<circle cx="765.0" cy="256.0" r="7"/>
<circle cx="769.0" cy="270.0" r="7"/>
<circle cx="784.0" cy="286.0" r="7"/>
<circle cx="809.0" cy="279.0" r="7"/>
<circle cx="824.0" cy="284.0" r="7"/>
<circle cx="768.0" cy="301.0" r="7"/>
<circle cx="744.0" cy="318.0" r="7"/>
<circle cx="755.0" cy="327.0" r="7"/>
<circle cx="790.0" cy="299.0" r="7"/>
<circle cx="802.0" cy="296.0" r="7"/>
<circle cx="787.0" cy="310.0" r="7"/>
<circle cx="805.0" cy="325.0" r="7"/>
<circle cx="824.0" cy="312.0" r="7"/>
<circle cx="821.0" cy="342.0" r="7"/>
<circle cx="518.0" cy="350.0" r="7"/>
<circle cx="528.0" cy="360.0" r="7"/>
<circle cx="510.0" cy="360.0" r="7"/>
<circle cx="680.0" cy="367.0" r="7"/>
<circle cx="687.0" cy="362.0" r="7"/>
<circle cx="701.0" cy="376.0" r="7"/>
<circle cx="686.0" cy="385.0" r="7"/>
<circle cx="699.0" cy="391.0" r="7"/>
<circle cx="685.0" cy="406.0" r="7"/>
<circle cx="594.0" cy="414.0" r="7"/>
<circle cx="578.0" cy="443.0" r="7"/>
<circle cx="636.0" cy="449.0" r="7"/>
<circle cx="552.0" cy="456.0" r="7"/>
<circle cx="535.0" cy="484.0" r="7"/>
<circle cx="560.0" cy="482.0" r="7"/>
<circle cx="610.0" cy="474.0" r="7"/>
<circle cx="649.0" cy="476.0" r="7"/>
<circle cx="661.0" cy="477.0" r="7"/>
<circle cx="674.0" cy="485.0" r="7"/>
<circle cx="683.0" cy="460.0" r="7"/>
<circle cx="692.0" cy="476.0" r="7"/>
<circle cx="711.0" cy="469.0" r="7"/>
<circle cx="736.0" cy="449.0" r="7"/>
<circle cx="741.0" cy="439.0" r="7"/>
<circle cx="759.0" cy="436.0" r="7"/>
<circle cx="754.0" cy="462.0" r="7"/>
<circle cx="785.0" cy="409.0" r="7"/>
<circle cx="804.0" cy="404.0" r="7"/>
<circle cx="784.0" cy="417.0" r="7"/>
<circle cx="797.0" cy="417.0" r="7"/>
<circle cx="824.0" cy="421.0" r="7"/>
<circle cx="784.0" cy="453.0" r="7"/>
<circle cx="807.0" cy="452.0" r="7"/>
<circle cx="751.0" cy="490.0" r="7"/>
<circle cx="779.0" cy="489.0" r="7"/>
<circle cx="793.0" cy="479.0" r="7"/>
<circle cx="579.0" cy="442.0" r="7"/>
<circle cx="636.0" cy="447.0" r="7"/>
<circle cx="611.0" cy="475.0" r="7"/>
<circle cx="645.0" cy="519.0" r="7"/>
<circle cx="534.0" cy="524.0" r="7"/>
<circle cx="569.0" cy="534.0" r="7"/>
<circle cx="579.0" cy="563.0" r="7"/>
<circle cx="802.0" cy="405.0" r="7"/>
<circle cx="578.0" cy="563.0" r="7"/>
<circle cx="681.0" cy="692.0" r="7"/>
<circle cx="714.0" cy="675.0" r="7"/>
<circle cx="876.0" cy="571.0" r="7"/>
<circle cx="854.0" cy="637.0" r="7"/>
<circle cx="789.0" cy="671.0" r="7"/>
<circle cx="764.0" cy="741.0" r="7"/>
<circle cx="792.0" cy="750.0" r="7"/>
<circle cx="815.0" cy="751.0" r="7"/>
<circle cx="802.0" cy="769.0" r="7"/>
<circle cx="870.0" cy="796.0" r="7"/>
<circle cx="905.0" cy="792.0" r="7"/>
<circle cx="974.0" cy="794.0" r="7"/>
<circle cx="1019.0" cy="791.0" r="7"/>
<circle cx="1011.0" cy="810.0" r="7"/>
<circle cx="1010.0" cy="817.0" r="7"/>
<circle cx="814.0" cy="809.0" r="7"/>
<circle cx="780.0" cy="835.0" r="7"/>
<circle cx="841.0" cy="836.0" r="7"/>
<circle cx="941.0" cy="827.0" r="7"/>
<circle cx="982.0" cy="839.0" r="7"/>
<circle cx="382.0" cy="929.0" r="7"/>
<circle cx="415.0" cy="929.0" r="7"/>
<circle cx="713.0" cy="675.0" r="7"/>
<circle cx="681.0" cy="693.0" r="7"/>
<circle cx="854.0" cy="640.0" r="7"/>
<circle cx="606.0" cy="759.0" r="7"/>
<circle cx="710.0" cy="749.0" r="7"/>
<circle cx="762.0" cy="741.0" r="7"/>
<circle cx="788.0" cy="749.0" r="7"/>
<circle cx="794.0" cy="750.0" r="7"/>
<circle cx="654.0" cy="779.0" r="7"/>
<circle cx="609.0" cy="805.0" r="7"/>
<circle cx="603.0" cy="816.0" r="7"/>
<circle cx="618.0" cy="830.0" r="7"/>
<circle cx="584.0" cy="843.0" r="7"/>
<circle cx="736.0" cy="810.0" r="7"/>
<circle cx="783.0" cy="847.0" r="7"/>
<circle cx="840.0" cy="838.0" r="7"/>
<circle cx="774.0" cy="957.0" r="7"/>
<circle cx="560.0" cy="896.0" r="7"/>
<circle cx="555.0" cy="897.0" r="7"/>
<circle cx="602.0" cy="820.0" r="7"/>
<circle cx="777.0" cy="835.0" r="7"/>
<circle cx="779.0" cy="845.0" r="7"/>
<circle cx="910.0" cy="876.0" r="7"/>
<circle cx="740.0" cy="810.0" r="7"/>
<circle cx="832.0" cy="287.0" r="7"/>
<circle cx="895.0" cy="300.0" r="7"/>
<circle cx="914.0" cy="299.0" r="7"/>
<circle cx="949.0" cy="290.0" r="7"/>
<circle cx="932.0" cy="306.0" r="7"/>
<circle cx="904.0" cy="319.0" r="7"/>
<circle cx="917.0" cy="316.0" r="7"/>
<circle cx="922.0" cy="320.0" r="7"/>
<circle cx="940.0" cy="320.0" r="7"/>
<circle cx="950.0" cy="314.0" r="7"/>
<circle cx="960.0" cy="321.0" r="7"/>
<circle cx="971.0" cy="319.0" r="7"/>
<circle cx="981.0" cy="297.0" r="7"/>
<circle cx="982.0" cy="309.0" r="7"/>
<circle cx="989.0" cy="321.0" r="7"/>
<circle cx="916.0" cy="332.0" r="7"/>
<circle cx="930.0" cy="327.0" r="7"/>
<circle cx="934.0" cy="337.0" r="7"/>
<circle cx="970.0" cy="335.0" r="7"/>
<circle cx="837.0" cy="335.0" r="7"/>
<circle cx="842.0" cy="349.0" r="7"/>
<circle cx="852.0" cy="345.0" r="7"/>
<circle cx="851.0" cy="372.0" r="7"/>
<circle cx="895.0" cy="367.0" r="7"/>
<circle cx="867.0" cy="375.0" r="7"/>
<circle cx="882.0" cy="375.0" r="7"/>
<circle cx="916.0" cy="385.0" r="7"/>
<circle cx="929.0" cy="384.0" r="7"/>
<circle cx="855.0" cy="399.0" r="7"/>
<circle cx="922.0" cy="395.0" r="7"/>
<circle cx="1007.0" cy="266.0" r="7"/>
<circle cx="1020.0" cy="269.0" r="7"/>
<circle cx="1012.0" cy="275.0" r="7"/>
<circle cx="1022.0" cy="280.0" r="7"/>
<circle cx="1044.0" cy="280.0" r="7"/>
<circle cx="1017.0" cy="289.0" r="7"/>
<circle cx="1045.0" cy="299.0" r="7"/>
<circle cx="1002.0" cy="292.0" r="7"/>
<circle cx="984.0" cy="297.0" r="7"/>
<circle cx="984.0" cy="309.0" r="7"/>
<circle cx="994.0" cy="304.0" r="7"/>
<circle cx="1005.0" cy="304.0" r="7"/>
<circle cx="1065.0" cy="305.0" r="7"/>
<circle cx="1057.0" cy="305.0" r="7"/>
<circle cx="1067.0" cy="326.0" r="7"/>
<circle cx="994.0" cy="322.0" r="7"/>
<circle cx="1014.0" cy="330.0" r="7"/>
<circle cx="1021.0" cy="327.0" r="7"/>
<circle cx="1045.0" cy="324.0" r="7"/>
<circle cx="1060.0" cy="365.0" r="7"/>
<circle cx="1070.0" cy="364.0" r="7"/>
<circle cx="1065.0" cy="391.0" r="7"/>
<circle cx="1024.0" cy="350.0" r="7"/>
<circle cx="855.0" cy="401.0" r="7"/>
<circle cx="881.0" cy="404.0" r="7"/>
<circle cx="889.0" cy="401.0" r="7"/>
<circle cx="919.0" cy="387.0" r="7"/>
<circle cx="928.0" cy="386.0" r="7"/>
<circle cx="867.0" cy="417.0" r="7"/>
<circle cx="876.0" cy="425.0" r="7"/>
<circle cx="879.0" cy="435.0" r="7"/>
<circle cx="895.0" cy="414.0" r="7"/>
<circle cx="900.0" cy="424.0" r="7"/>
<circle cx="907.0" cy="442.0" r="7"/>
<circle cx="914.0" cy="446.0" r="7"/>
<circle cx="920.0" cy="442.0" r="7"/>
<circle cx="937.0" cy="417.0" r="7"/>
<circle cx="928.0" cy="431.0" r="7"/>
<circle cx="941.0" cy="422.0" r="7"/>
<circle cx="969.0" cy="412.0" r="7"/>
<circle cx="836.0" cy="428.0" r="7"/>
<circle cx="944.0" cy="459.0" r="7"/>
<circle cx="973.0" cy="478.0" r="7"/>
<circle cx="867.0" cy="484.0" r="7"/>
<circle cx="907.0" cy="487.0" r="7"/>
<circle cx="931.0" cy="488.0" r="7"/>
<circle cx="942.0" cy="502.0" r="7"/>
<circle cx="899.0" cy="497.0" r="7"/>
<circle cx="862.0" cy="505.0" r="7"/>
<circle cx="874.0" cy="504.0" r="7"/>
<circle cx="914.0" cy="501.0" r="7"/>
<circle cx="906.0" cy="515.0" r="7"/>
<circle cx="913.0" cy="522.0" r="7"/>
<circle cx="917.0" cy="543.0" r="7"/>
<circle cx="875.0" cy="547.0" r="7"/>
<circle cx="872.0" cy="554.0" r="7"/>
<circle cx="1046.0" cy="411.0" r="7"/>
<circle cx="1007.0" cy="432.0" r="7"/>
<circle cx="1026.0" cy="435.0" r="7"/>
<circle cx="1065.0" cy="445.0" r="7"/>
<circle cx="1010.0" cy="447.0" r="7"/>
<circle cx="1017.0" cy="456.0" r="7"/>
<circle cx="999.0" cy="467.0" r="7"/>
<circle cx="996.0" cy="475.0" r="7"/>
<circle cx="1017.0" cy="476.0" r="7"/>
<circle cx="1062.0" cy="465.0" r="7"/>
<circle cx="974.0" cy="479.0" r="7"/>
<circle cx="1120.0" cy="499.0" r="7"/>
</g>
<g fill="#f5f5f5" stroke="#3a3a3a" stroke-width="0.6">
<circle cx="453.0" cy="290.0" r="7"/>
<circle cx="789.0" cy="321.0" r="7"/>
<circle cx="820.0" cy="330.0" r="7"/>
<circle cx="827.0" cy="335.0" r="7"/>
<circle cx="686.0" cy="398.0" r="7"/>
<circle cx="820.0" cy="432.0" r="7"/>
<circle cx="579.0" cy="524.0" r="7"/>
<circle cx="686.0" cy="401.0" r="7"/>
<circle cx="853.0" cy="572.0" r="7"/>
<circle cx="886.0" cy="787.0" r="7"/>
<circle cx="797.0" cy="811.0" r="7"/>
<circle cx="578.0" cy="763.0" r="7"/>
<circle cx="733.0" cy="788.0" r="7"/>
<circle cx="719.0" cy="813.0" r="7"/>
<circle cx="930.0" cy="901.0" r="7"/>
<circle cx="932.0" cy="320.0" r="7"/>
<circle cx="961.0" cy="336.0" r="7"/>
<circle cx="927.0" cy="349.0" r="7"/>
<circle cx="942.0" cy="352.0" r="7"/>
<circle cx="831.0" cy="335.0" r="7"/>
<circle cx="844.0" cy="351.0" r="7"/>
<circle cx="861.0" cy="351.0" r="7"/>
<circle cx="841.0" cy="362.0" r="7"/>
<circle cx="872.0" cy="372.0" r="7"/>
<circle cx="885.0" cy="379.0" r="7"/>
<circle cx="895.0" cy="379.0" r="7"/>
<circle cx="867.0" cy="386.0" r="7"/>
<circle cx="879.0" cy="392.0" r="7"/>
<circle cx="907.0" cy="396.0" r="7"/>
<circle cx="920.0" cy="396.0" r="7"/>
<circle cx="1011.0" cy="264.0" r="7"/>
<circle cx="1026.0" cy="269.0" r="7"/>
<circle cx="1001.0" cy="287.0" r="7"/>
<circle cx="1029.0" cy="288.0" r="7"/>
<circle cx="1027.0" cy="297.0" r="7"/>
<circle cx="1035.0" cy="306.0" r="7"/>
<circle cx="1049.0" cy="309.0" r="7"/>
<circle cx="1006.0" cy="320.0" r="7"/>
<circle cx="1029.0" cy="324.0" r="7"/>
<circle cx="1036.0" cy="325.0" r="7"/>
<circle cx="1054.0" cy="325.0" r="7"/>
<circle cx="1054.0" cy="346.0" r="7"/>
<circle cx="1056.0" cy="356.0" r="7"/>
<circle cx="867.0" cy="386.0" r="7"/>
<circle cx="871.0" cy="394.0" r="7"/>
<circle cx="879.0" cy="393.0" r="7"/>
<circle cx="874.0" cy="407.0" r="7"/>
<circle cx="906.0" cy="400.0" r="7"/>
<circle cx="920.0" cy="400.0" r="7"/>
<circle cx="914.0" cy="415.0" r="7"/>
<circle cx="928.0" cy="413.0" r="7"/>
<circle cx="948.0" cy="405.0" r="7"/>
<circle cx="975.0" cy="417.0" r="7"/>
<circle cx="871.0" cy="429.0" r="7"/>
<circle cx="930.0" cy="438.0" r="7"/>
<circle cx="957.0" cy="440.0" r="7"/>
<circle cx="917.0" cy="483.0" r="7"/>
<circle cx="965.0" cy="490.0" r="7"/>
<circle cx="885.0" cy="497.0" r="7"/>
<circle cx="852.0" cy="512.0" r="7"/>
<circle cx="871.0" cy="514.0" r="7"/>
<circle cx="900.0" cy="509.0" r="7"/>
<circle cx="895.0" cy="519.0" r="7"/>
<circle cx="920.0" cy="502.0" r="7"/>
<circle cx="931.0" cy="500.0" r="7"/>
<circle cx="941.0" cy="498.0" r="7"/>
<circle cx="911.0" cy="536.0" r="7"/>
<circle cx="975.0" cy="415.0" r="7"/>
<circle cx="1052.0" cy="432.0" r="7"/>
<circle cx="1001.0" cy="449.0" r="7"/>
<circle cx="1059.0" cy="455.0" r="7"/>
<circle cx="1012.0" cy="469.0" r="7"/>
<circle cx="986.0" cy="467.0" r="7"/>
<circle cx="1001.0" cy="482.0" r="7"/>
<circle cx="1035.0" cy="477.0" r="7"/>
<circle cx="1060.0" cy="482.0" r="7"/>
<circle cx="1062.0" cy="489.0" r="7"/>
<circle cx="1078.0" cy="483.0" r="7"/>
<circle cx="1022.0" cy="487.0" r="7"/>
</g>
<g fill="#fadccb" stroke="#3a3a3a" stroke-width="0.6">
<circle cx="943.0" cy="317.0" r="7"/>
<circle cx="875.0" cy="360.0" r="7"/>
<circle cx="1038.0" cy="288.0" r="7"/>
<circle cx="1037.0" cy="336.0" r="7"/>
<circle cx="1024.0" cy="344.0" r="7"/>
<circle cx="1064.0" cy="346.0" r="7"/>
<circle cx="1069.0" cy="350.0" r="7"/>
<circle cx="1070.0" cy="354.0" r="7"/>
<circle cx="1050.0" cy="358.0" r="7"/>
<circle cx="1063.0" cy="374.0" r="7"/>
<circle cx="1036.0" cy="374.0" r="7"/>
<circle cx="1058.0" cy="384.0" r="7"/>
<circle cx="908.0" cy="410.0" r="7"/>
<circle cx="909.0" cy="414.0" r="7"/>
<circle cx="957.0" cy="412.0" r="7"/>
<circle cx="965.0" cy="421.0" r="7"/>
<circle cx="954.0" cy="426.0" r="7"/>
<circle cx="940.0" cy="438.0" r="7"/>
<circle cx="955.0" cy="458.0" r="7"/>
<circle cx="950.0" cy="487.0" r="7"/>
<circle cx="986.0" cy="425.0" r="7"/>
<circle cx="851.0" cy="530.0" r="7"/>
<circle cx="984.0" cy="425.0" r="7"/>
<circle cx="1022.0" cy="448.0" r="7"/>
<circle cx="1004.0" cy="458.0" r="7"/>
<circle cx="1052.0" cy="447.0" r="7"/>
<circle cx="1030.0" cy="465.0" r="7"/>
<circle cx="1052.0" cy="467.0" r="7"/>
<circle cx="1050.0" cy="477.0" r="7"/>
<circle cx="1009.0" cy="486.0" r="7"/>
<circle cx="1115.0" cy="500.0" r="7"/>
<circle cx="1092.0" cy="487.0" r="7"/>
<circle cx="1100.0" cy="492.0" r="7"/>
</g>
<g fill="#eca78f" stroke="#3a3a3a" stroke-width="0.6">
<circle cx="367.0" cy="929.0" r="7"/>
<circle cx="900.0" cy="307.0" r="7"/>
<circle cx="894.0" cy="388.0" r="7"/>
<circle cx="1029.0" cy="316.0" r="7"/>
<circle cx="1055.0" cy="316.0" r="7"/>
<circle cx="1030.0" cy="343.0" r="7"/>
<circle cx="895.0" cy="388.0" r="7"/>
<circle cx="883.0" cy="504.0" r="7"/>
<circle cx="984.0" cy="495.0" r="7"/>
<circle cx="994.0" cy="430.0" r="7"/>
<circle cx="1041.0" cy="439.0" r="7"/>
<circle cx="1076.0" cy="464.0" r="7"/>
<circle cx="1044.0" cy="462.0" r="7"/>
<circle cx="1039.0" cy="483.0" r="7"/>
<circle cx="1049.0" cy="494.0" r="7"/>
<circle cx="984.0" cy="494.0" r="7"/>
<circle cx="1100.0" cy="470.0" r="7"/>
<circle cx="1111.0" cy="485.0" r="7"/>
<circle cx="1110.0" cy="494.0" r="7"/>
</g>
<g fill="#de8178" stroke="#3a3a3a" stroke-width="0.6">
<circle cx="921.0" cy="337.0" r="7"/>
<circle cx="1086.0" cy="499.0" r="7"/>
<circle cx="1106.0" cy="504.0" r="7"/>
<circle cx="1082.0" cy="512.0" r="7"/>
</g>
<g fill="#c95a6b" stroke="#3a3a3a" stroke-width="0.6">
<circle cx="971.0" cy="428.0" r="7"/>
<circle cx="971.0" cy="450.0" r="7"/>
<circle cx="989.0" cy="463.0" r="7"/>
<circle cx="1014.0" cy="438.0" r="7"/>
<circle cx="1086.0" cy="445.0" r="7"/>
<circle cx="991.0" cy="463.0" r="7"/>
<circle cx="1089.0" cy="472.0" r="7"/>
<circle cx="1102.0" cy="481.0" r="7"/>
<circle cx="1023.0" cy="494.0" r="7"/>
<circle cx="1032.0" cy="493.0" r="7"/>
<circle cx="1079.0" cy="507.0" r="7"/>
<circle cx="1096.0" cy="506.0" r="7"/>
<circle cx="1097.0" cy="513.0" r="7"/>
<circle cx="970.0" cy="427.0" r="7"/>
</g>
<g class="lb"><circle cx="371.4" cy="344.5" r="10.9" fill="#ebebee" stroke="#000" stroke-width="1.1"/><text x="370.5" y="349.7">1</text><circle cx="679.4" cy="265.5" r="10.9" fill="#ebebee" stroke="#000" stroke-width="1.1"/><text x="678.5" y="270.7">6</text><circle cx="615.4" cy="487.5" r="10.9" fill="#ebebee" stroke="#000" stroke-width="1.1"/><text x="614.5" y="492.7">4</text><circle cx="1013.4" cy="310.5" r="10.9" fill="#ebebee" stroke="#000" stroke-width="1.1"/><text x="1012.5" y="315.7">9</text><circle cx="979.4" cy="444.5" r="10.9" fill="#ebebee" stroke="#000" stroke-width="1.1"/><text x="978.5" y="449.7">7</text><circle cx="761.4" cy="514.5" r="10.9" fill="#ebebee" stroke="#000" stroke-width="1.1"/><text x="760.5" y="519.7">10</text><circle cx="819.4" cy="623.5" r="10.9" fill="#ebebee" stroke="#000" stroke-width="1.1"/><text x="818.5" y="628.7">8</text><circle cx="501.4" cy="736.5" r="10.9" fill="#ebebee" stroke="#000" stroke-width="1.1"/><text x="500.5" y="741.7">2</text><circle cx="890.4" cy="884.5" r="10.9" fill="#ebebee" stroke="#000" stroke-width="1.1"/><text x="889.5" y="889.7">3</text><circle cx="575.4" cy="994.5" r="10.9" fill="#ebebee" stroke="#000" stroke-width="1.1"/><text x="574.5" y="999.7">5</text></g>
<defs><linearGradient id="lg" x1="850" x2="1150.6" y1="0" y2="0" gradientUnits="userSpaceOnUse"><stop offset="0.0000" stop-color="#4d6b93"/><stop offset="0.1041" stop-color="#5e88b8"/><stop offset="0.2216" stop-color="#78aed4"/><stop offset="0.3230" stop-color="#b3d4e4"/><stop offset="0.4408" stop-color="#dde8ef"/><stop offset="0.5609" stop-color="#f5f5f5"/><stop offset="0.6633" stop-color="#fbe4d6"/><stop offset="0.7798" stop-color="#f5c0a8"/><stop offset="0.8832" stop-color="#e18a7e"/><stop offset="1.0000" stop-color="#c8586b"/></linearGradient></defs><rect x="850" y="1134" width="300.6" height="14.6" fill="url(#lg)"/><rect x="849.4" y="1134" width="1.2" height="14.6" fill="#000"/><rect x="880.7" y="1134" width="1.2" height="14.6" fill="#000"/><rect x="916.0" y="1134" width="1.2" height="14.6" fill="#000"/><rect x="946.5" y="1134" width="1.2" height="14.6" fill="#000"/><rect x="981.9" y="1134" width="1.2" height="14.6" fill="#000"/><rect x="1018.0" y="1134" width="1.2" height="14.6" fill="#000"/><rect x="1048.8" y="1134" width="1.2" height="14.6" fill="#000"/><rect x="1083.8" y="1134" width="1.2" height="14.6" fill="#000"/><rect x="1114.9" y="1134" width="1.2" height="14.6" fill="#000"/><rect x="1150.0" y="1134" width="1.2" height="14.6" fill="#000"/><text x="850.0" y="1163" font-size="11" text-anchor="middle">0.0</text><text x="881.3" y="1163" font-size="11" text-anchor="middle">0.8</text><text x="916.6" y="1163" font-size="11" text-anchor="middle">1.7</text><text x="947.1" y="1163" font-size="11" text-anchor="middle">2.5</text><text x="982.5" y="1163" font-size="11" text-anchor="middle">3.4</text><text x="1018.6" y="1163" font-size="11" text-anchor="middle">4.3</text><text x="1049.4" y="1163" font-size="11" text-anchor="middle">5.1</text><text x="1084.4" y="1163" font-size="11" text-anchor="middle">6.0</text><text x="1115.5" y="1163" font-size="11" text-anchor="middle">6.8</text><text x="1150.6" y="1163" font-size="11" text-anchor="middle">7.7</text><text x="1038" y="1126.8" font-size="13" text-anchor="middle">Expression, Z-scaled</text>
</svg></body></html>
